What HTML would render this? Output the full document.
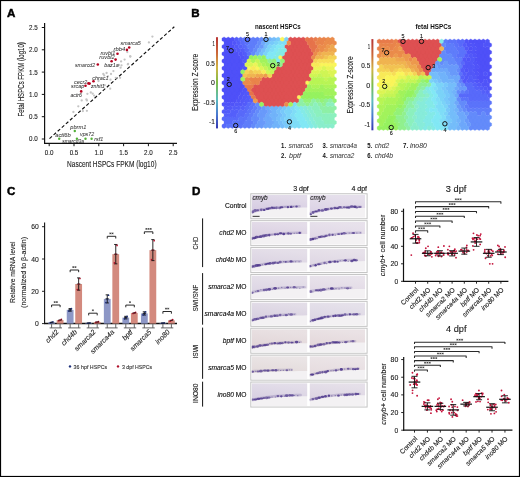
<!DOCTYPE html><html><head><meta charset="utf-8"><style>html,body{margin:0;padding:0;background:#fff}svg{display:block;font-family:"Liberation Sans",sans-serif;will-change:transform}</style></head><body>
<svg width="520" height="477" viewBox="0 0 520 477">
<rect x="0" y="0" width="520" height="477" fill="#fff"/>
<text x="7" y="16.6" font-size="11.6" font-weight="bold" fill="#000" stroke="#000" stroke-width="0.45">A</text>
<line x1="44.6" y1="23" x2="44.6" y2="143.9" stroke="#111" stroke-width="1.2"/>
<line x1="44" y1="143.3" x2="177" y2="143.3" stroke="#111" stroke-width="1.2"/>
<line x1="41.8" y1="139" x2="44.2" y2="139" stroke="#111" stroke-width="1"/>
<text x="37.8" y="141.4" font-size="6.9" stroke="#1e1e1e" stroke-width="0.12" text-anchor="end" fill="#1e1e1e" textLength="8.7" lengthAdjust="spacingAndGlyphs">0.0</text>
<line x1="49.2" y1="143.5" x2="49.2" y2="146.2" stroke="#111" stroke-width="1"/>
<text x="49.2" y="155.4" font-size="6.9" stroke="#1e1e1e" stroke-width="0.12" text-anchor="middle" fill="#1e1e1e" textLength="8.7" lengthAdjust="spacingAndGlyphs">0.0</text>
<line x1="41.8" y1="116.7" x2="44.2" y2="116.7" stroke="#111" stroke-width="1"/>
<text x="37.8" y="119.1" font-size="6.9" stroke="#1e1e1e" stroke-width="0.12" text-anchor="end" fill="#1e1e1e" textLength="8.7" lengthAdjust="spacingAndGlyphs">0.5</text>
<line x1="74" y1="143.5" x2="74" y2="146.2" stroke="#111" stroke-width="1"/>
<text x="74" y="155.4" font-size="6.9" stroke="#1e1e1e" stroke-width="0.12" text-anchor="middle" fill="#1e1e1e" textLength="8.7" lengthAdjust="spacingAndGlyphs">0.5</text>
<line x1="41.8" y1="94.4" x2="44.2" y2="94.4" stroke="#111" stroke-width="1"/>
<text x="37.8" y="96.8" font-size="6.9" stroke="#1e1e1e" stroke-width="0.12" text-anchor="end" fill="#1e1e1e" textLength="8.7" lengthAdjust="spacingAndGlyphs">1.0</text>
<line x1="98.8" y1="143.5" x2="98.8" y2="146.2" stroke="#111" stroke-width="1"/>
<text x="98.8" y="155.4" font-size="6.9" stroke="#1e1e1e" stroke-width="0.12" text-anchor="middle" fill="#1e1e1e" textLength="8.7" lengthAdjust="spacingAndGlyphs">1.0</text>
<line x1="41.8" y1="72.1" x2="44.2" y2="72.1" stroke="#111" stroke-width="1"/>
<text x="37.8" y="74.5" font-size="6.9" stroke="#1e1e1e" stroke-width="0.12" text-anchor="end" fill="#1e1e1e" textLength="8.7" lengthAdjust="spacingAndGlyphs">1.5</text>
<line x1="123.6" y1="143.5" x2="123.6" y2="146.2" stroke="#111" stroke-width="1"/>
<text x="123.6" y="155.4" font-size="6.9" stroke="#1e1e1e" stroke-width="0.12" text-anchor="middle" fill="#1e1e1e" textLength="8.7" lengthAdjust="spacingAndGlyphs">1.5</text>
<line x1="41.8" y1="49.8" x2="44.2" y2="49.8" stroke="#111" stroke-width="1"/>
<text x="37.8" y="52.2" font-size="6.9" stroke="#1e1e1e" stroke-width="0.12" text-anchor="end" fill="#1e1e1e" textLength="8.7" lengthAdjust="spacingAndGlyphs">2.0</text>
<line x1="148.4" y1="143.5" x2="148.4" y2="146.2" stroke="#111" stroke-width="1"/>
<text x="148.4" y="155.4" font-size="6.9" stroke="#1e1e1e" stroke-width="0.12" text-anchor="middle" fill="#1e1e1e" textLength="8.7" lengthAdjust="spacingAndGlyphs">2.0</text>
<line x1="41.8" y1="27.5" x2="44.2" y2="27.5" stroke="#111" stroke-width="1"/>
<text x="37.8" y="29.9" font-size="6.9" stroke="#1e1e1e" stroke-width="0.12" text-anchor="end" fill="#1e1e1e" textLength="8.7" lengthAdjust="spacingAndGlyphs">2.5</text>
<line x1="173.2" y1="143.5" x2="173.2" y2="146.2" stroke="#111" stroke-width="1"/>
<text x="173.2" y="155.4" font-size="6.9" stroke="#1e1e1e" stroke-width="0.12" text-anchor="middle" fill="#1e1e1e" textLength="8.7" lengthAdjust="spacingAndGlyphs">2.5</text>
<text x="111.8" y="167.4" font-size="9.8" stroke="#1e1e1e" stroke-width="0.12" text-anchor="middle" fill="#1e1e1e" textLength="89.6" lengthAdjust="spacingAndGlyphs">Nascent HSPCs FPKM (log10)</text>
<text x="24.4" y="79.3" font-size="9.8" stroke="#1e1e1e" stroke-width="0.12" text-anchor="middle" fill="#1e1e1e" textLength="74.4" lengthAdjust="spacingAndGlyphs" transform="rotate(-90 24.4 79.3)">Fetal HSPCs FPKM (log10)</text>
<line x1="49.5" y1="138.6" x2="174.3" y2="26.8" stroke="#111" stroke-width="1.15" stroke-dasharray="3.3 2.2"/>
<circle cx="152.4" cy="36.6" r="1.15" fill="#c4c4c4"/>
<circle cx="148.9" cy="42.4" r="1.15" fill="#c4c4c4"/>
<circle cx="130.1" cy="56.4" r="1.15" fill="#c4c4c4"/>
<circle cx="124.6" cy="59.6" r="1.15" fill="#c4c4c4"/>
<circle cx="121.1" cy="61.4" r="1.15" fill="#c4c4c4"/>
<circle cx="127.8" cy="64.3" r="1.15" fill="#c4c4c4"/>
<circle cx="121.5" cy="65.3" r="1.15" fill="#c4c4c4"/>
<circle cx="127.3" cy="52.1" r="1.15" fill="#c4c4c4"/>
<circle cx="120.6" cy="67.7" r="1.15" fill="#c4c4c4"/>
<circle cx="113.4" cy="71.1" r="1.15" fill="#c4c4c4"/>
<circle cx="111" cy="74" r="1.15" fill="#c4c4c4"/>
<circle cx="106.6" cy="73" r="1.15" fill="#c4c4c4"/>
<circle cx="103.3" cy="74" r="1.15" fill="#c4c4c4"/>
<circle cx="104.2" cy="75.4" r="1.15" fill="#c4c4c4"/>
<circle cx="108" cy="76.3" r="1.15" fill="#c4c4c4"/>
<circle cx="110.5" cy="79.7" r="1.15" fill="#c4c4c4"/>
<circle cx="115.8" cy="77.8" r="1.15" fill="#c4c4c4"/>
<circle cx="120.1" cy="77.8" r="1.15" fill="#c4c4c4"/>
<circle cx="98.5" cy="81" r="1.15" fill="#c4c4c4"/>
<circle cx="104.7" cy="85.2" r="1.15" fill="#c4c4c4"/>
<circle cx="110.2" cy="88.7" r="1.15" fill="#c4c4c4"/>
<circle cx="87.4" cy="93.8" r="1.15" fill="#c4c4c4"/>
<circle cx="90.8" cy="92.5" r="1.15" fill="#c4c4c4"/>
<circle cx="92.7" cy="93.7" r="1.15" fill="#c4c4c4"/>
<circle cx="94.1" cy="95.6" r="1.15" fill="#c4c4c4"/>
<circle cx="86.4" cy="99.4" r="1.15" fill="#c4c4c4"/>
<circle cx="81.7" cy="100.4" r="1.15" fill="#c4c4c4"/>
<circle cx="86.9" cy="100.4" r="1.15" fill="#c4c4c4"/>
<circle cx="78.3" cy="106.3" r="1.15" fill="#c4c4c4"/>
<circle cx="73.4" cy="112" r="1.15" fill="#c4c4c4"/>
<circle cx="82.9" cy="111.1" r="1.15" fill="#c4c4c4"/>
<circle cx="86.9" cy="110.8" r="1.15" fill="#c4c4c4"/>
<circle cx="118.9" cy="65" r="1.15" fill="#c4c4c4"/>
<circle cx="128.1" cy="63.9" r="1.15" fill="#c4c4c4"/>
<circle cx="130.4" cy="56.5" r="1.15" fill="#c4c4c4"/>
<circle cx="129.2" cy="47.5" r="1.3" fill="#b4001e"/>
<circle cx="126.9" cy="49.9" r="1.3" fill="#b4001e"/>
<circle cx="117.5" cy="53.7" r="1.3" fill="#b4001e"/>
<circle cx="115.6" cy="59.6" r="1.3" fill="#b4001e"/>
<circle cx="111.6" cy="61.2" r="1.3" fill="#b4001e"/>
<circle cx="97.8" cy="64.5" r="1.3" fill="#b4001e"/>
<circle cx="93.5" cy="81.3" r="1.3" fill="#b4001e"/>
<circle cx="88.4" cy="83.4" r="1.3" fill="#b4001e"/>
<circle cx="89.6" cy="83.6" r="1.3" fill="#b4001e"/>
<circle cx="85.5" cy="85.8" r="1.3" fill="#b4001e"/>
<circle cx="81.2" cy="91.4" r="1.3" fill="#b4001e"/>
<circle cx="74.8" cy="131" r="1.2" fill="#52b038"/>
<circle cx="59.2" cy="138.8" r="1.2" fill="#52b038"/>
<circle cx="76.9" cy="138.8" r="1.2" fill="#52b038"/>
<circle cx="85.5" cy="138.8" r="1.2" fill="#52b038"/>
<circle cx="91.6" cy="138.8" r="1.2" fill="#52b038"/>
<text x="120.5" y="45.3" font-size="6" stroke="#333" stroke-width="0.04" font-style="italic" fill="#333" textLength="20.3" lengthAdjust="spacingAndGlyphs">smarca5</text>
<text x="113.6" y="51.1" font-size="6" stroke="#333" stroke-width="0.04" font-style="italic" fill="#333" textLength="11.7" lengthAdjust="spacingAndGlyphs">rbb4</text>
<text x="100.4" y="55.3" font-size="6" stroke="#333" stroke-width="0.04" font-style="italic" fill="#333" textLength="15" lengthAdjust="spacingAndGlyphs">ruvbl1</text>
<text x="99.3" y="59.4" font-size="6" stroke="#333" stroke-width="0.04" font-style="italic" fill="#333" textLength="15.4" lengthAdjust="spacingAndGlyphs">ruvbl2</text>
<text x="104.2" y="66.6" font-size="6" stroke="#333" stroke-width="0.04" font-style="italic" fill="#333" textLength="14.5" lengthAdjust="spacingAndGlyphs">baz1a</text>
<text x="75" y="66.6" font-size="6" stroke="#333" stroke-width="0.04" font-style="italic" fill="#333" textLength="20.1" lengthAdjust="spacingAndGlyphs">smarcd2</text>
<text x="92.2" y="79.9" font-size="6" stroke="#333" stroke-width="0.04" font-style="italic" fill="#333" textLength="16.4" lengthAdjust="spacingAndGlyphs">chrac1</text>
<text x="73.9" y="83.7" font-size="6" stroke="#333" stroke-width="0.04" font-style="italic" fill="#333" textLength="13.4" lengthAdjust="spacingAndGlyphs">cecr2</text>
<text x="71" y="88.1" font-size="6" stroke="#333" stroke-width="0.04" font-style="italic" fill="#333" textLength="13.2" lengthAdjust="spacingAndGlyphs">srcap</text>
<text x="91" y="88.2" font-size="6" stroke="#333" stroke-width="0.04" font-style="italic" fill="#333" textLength="13.7" lengthAdjust="spacingAndGlyphs">znhit1</text>
<text x="70.4" y="97.1" font-size="6" stroke="#333" stroke-width="0.04" font-style="italic" fill="#333" textLength="11.6" lengthAdjust="spacingAndGlyphs">actr6</text>
<text x="70.3" y="128.8" font-size="6" stroke="#333" stroke-width="0.04" font-style="italic" fill="#333" textLength="16.1" lengthAdjust="spacingAndGlyphs">pbrm1</text>
<text x="55.2" y="136.8" font-size="6" stroke="#333" stroke-width="0.04" font-style="italic" fill="#333" textLength="15.6" lengthAdjust="spacingAndGlyphs">actl6b</text>
<text x="80" y="136" font-size="6" stroke="#333" stroke-width="0.04" font-style="italic" fill="#333" textLength="14.2" lengthAdjust="spacingAndGlyphs">vps72</text>
<text x="62.2" y="142.7" font-size="6" stroke="#333" stroke-width="0.04" font-style="italic" fill="#333" textLength="21.9" lengthAdjust="spacingAndGlyphs">smarcd3a</text>
<text x="94.2" y="140.6" font-size="6" stroke="#333" stroke-width="0.04" font-style="italic" fill="#333" textLength="9" lengthAdjust="spacingAndGlyphs">rsf1</text>
<text x="191.3" y="16.8" font-size="11.6" font-weight="bold" fill="#000" stroke="#000" stroke-width="0.45">B</text>
<text x="277.8" y="28.6" font-size="6.8" text-anchor="middle" font-weight="bold" fill="#111" textLength="45.6" lengthAdjust="spacingAndGlyphs">nascent HSPCs</text>
<path fill="rgb(79,80,248)" stroke="rgb(79,80,248)" stroke-width="0.3" d="M224.08 36.95l2.13 1.23v2.46l-2.13 1.23l-2.13 -1.23v-2.46zM228.24 36.95l2.13 1.23v2.46l-2.13 1.23l-2.13 -1.23v-2.46zM232.4 36.95l2.13 1.23v2.46l-2.13 1.23l-2.13 -1.23v-2.46zM226.16 40.56l2.13 1.23v2.46l-2.13 1.23l-2.13 -1.23v-2.46zM230.32 40.56l2.13 1.23v2.46l-2.13 1.23l-2.13 -1.23v-2.46zM224.08 44.17l2.13 1.23v2.46l-2.13 1.23l-2.13 -1.23v-2.46zM228.24 44.17l2.13 1.23v2.46l-2.13 1.23l-2.13 -1.23v-2.46zM232.4 44.17l2.13 1.23v2.46l-2.13 1.23l-2.13 -1.23v-2.46zM226.16 47.78l2.13 1.23v2.46l-2.13 1.23l-2.13 -1.23v-2.46zM230.32 47.78l2.13 1.23v2.46l-2.13 1.23l-2.13 -1.23v-2.46zM224.08 51.39l2.13 1.23v2.46l-2.13 1.23l-2.13 -1.23v-2.46zM228.24 51.39l2.13 1.23v2.46l-2.13 1.23l-2.13 -1.23v-2.46zM232.4 51.39l2.13 1.23v2.46l-2.13 1.23l-2.13 -1.23v-2.46zM236.56 51.39l2.13 1.23v2.46l-2.13 1.23l-2.13 -1.23v-2.46zM226.16 55l2.13 1.23v2.46l-2.13 1.23l-2.13 -1.23v-2.46zM230.32 55l2.13 1.23v2.46l-2.13 1.23l-2.13 -1.23v-2.46zM234.48 55l2.13 1.23v2.46l-2.13 1.23l-2.13 -1.23v-2.46zM238.64 55l2.13 1.23v2.46l-2.13 1.23l-2.13 -1.23v-2.46zM224.08 58.61l2.13 1.23v2.46l-2.13 1.23l-2.13 -1.23v-2.46zM228.24 58.61l2.13 1.23v2.46l-2.13 1.23l-2.13 -1.23v-2.46zM232.4 58.61l2.13 1.23v2.46l-2.13 1.23l-2.13 -1.23v-2.46zM236.56 58.61l2.13 1.23v2.46l-2.13 1.23l-2.13 -1.23v-2.46zM240.72 58.61l2.13 1.23v2.46l-2.13 1.23l-2.13 -1.23v-2.46zM226.16 62.22l2.13 1.23v2.46l-2.13 1.23l-2.13 -1.23v-2.46zM230.32 62.22l2.13 1.23v2.46l-2.13 1.23l-2.13 -1.23v-2.46zM234.48 62.22l2.13 1.23v2.46l-2.13 1.23l-2.13 -1.23v-2.46zM238.64 62.22l2.13 1.23v2.46l-2.13 1.23l-2.13 -1.23v-2.46zM242.8 62.22l2.13 1.23v2.46l-2.13 1.23l-2.13 -1.23v-2.46zM224.08 65.83l2.13 1.23v2.46l-2.13 1.23l-2.13 -1.23v-2.46zM228.24 65.83l2.13 1.23v2.46l-2.13 1.23l-2.13 -1.23v-2.46zM232.4 65.83l2.13 1.23v2.46l-2.13 1.23l-2.13 -1.23v-2.46zM236.56 65.83l2.13 1.23v2.46l-2.13 1.23l-2.13 -1.23v-2.46zM240.72 65.83l2.13 1.23v2.46l-2.13 1.23l-2.13 -1.23v-2.46zM226.16 69.44l2.13 1.23v2.46l-2.13 1.23l-2.13 -1.23v-2.46zM230.32 69.44l2.13 1.23v2.46l-2.13 1.23l-2.13 -1.23v-2.46zM234.48 69.44l2.13 1.23v2.46l-2.13 1.23l-2.13 -1.23v-2.46zM238.64 69.44l2.13 1.23v2.46l-2.13 1.23l-2.13 -1.23v-2.46zM224.08 73.05l2.13 1.23v2.46l-2.13 1.23l-2.13 -1.23v-2.46zM228.24 73.05l2.13 1.23v2.46l-2.13 1.23l-2.13 -1.23v-2.46zM232.4 73.05l2.13 1.23v2.46l-2.13 1.23l-2.13 -1.23v-2.46zM236.56 73.05l2.13 1.23v2.46l-2.13 1.23l-2.13 -1.23v-2.46zM240.72 73.05l2.13 1.23v2.46l-2.13 1.23l-2.13 -1.23v-2.46zM226.16 76.66l2.13 1.23v2.46l-2.13 1.23l-2.13 -1.23v-2.46zM230.32 76.66l2.13 1.23v2.46l-2.13 1.23l-2.13 -1.23v-2.46zM234.48 76.66l2.13 1.23v2.46l-2.13 1.23l-2.13 -1.23v-2.46zM238.64 76.66l2.13 1.23v2.46l-2.13 1.23l-2.13 -1.23v-2.46zM224.08 80.27l2.13 1.23v2.46l-2.13 1.23l-2.13 -1.23v-2.46zM228.24 80.27l2.13 1.23v2.46l-2.13 1.23l-2.13 -1.23v-2.46zM232.4 80.27l2.13 1.23v2.46l-2.13 1.23l-2.13 -1.23v-2.46zM236.56 80.27l2.13 1.23v2.46l-2.13 1.23l-2.13 -1.23v-2.46zM240.72 80.27l2.13 1.23v2.46l-2.13 1.23l-2.13 -1.23v-2.46zM226.16 83.88l2.13 1.23v2.46l-2.13 1.23l-2.13 -1.23v-2.46zM230.32 83.88l2.13 1.23v2.46l-2.13 1.23l-2.13 -1.23v-2.46zM234.48 83.88l2.13 1.23v2.46l-2.13 1.23l-2.13 -1.23v-2.46zM238.64 83.88l2.13 1.23v2.46l-2.13 1.23l-2.13 -1.23v-2.46zM242.8 83.88l2.13 1.23v2.46l-2.13 1.23l-2.13 -1.23v-2.46zM224.08 87.49l2.13 1.23v2.46l-2.13 1.23l-2.13 -1.23v-2.46zM228.24 87.49l2.13 1.23v2.46l-2.13 1.23l-2.13 -1.23v-2.46zM232.4 87.49l2.13 1.23v2.46l-2.13 1.23l-2.13 -1.23v-2.46zM236.56 87.49l2.13 1.23v2.46l-2.13 1.23l-2.13 -1.23v-2.46zM240.72 87.49l2.13 1.23v2.46l-2.13 1.23l-2.13 -1.23v-2.46zM226.16 91.1l2.13 1.23v2.46l-2.13 1.23l-2.13 -1.23v-2.46zM230.32 91.1l2.13 1.23v2.46l-2.13 1.23l-2.13 -1.23v-2.46zM234.48 91.1l2.13 1.23v2.46l-2.13 1.23l-2.13 -1.23v-2.46zM238.64 91.1l2.13 1.23v2.46l-2.13 1.23l-2.13 -1.23v-2.46zM224.08 94.71l2.13 1.23v2.46l-2.13 1.23l-2.13 -1.23v-2.46zM228.24 94.71l2.13 1.23v2.46l-2.13 1.23l-2.13 -1.23v-2.46zM232.4 94.71l2.13 1.23v2.46l-2.13 1.23l-2.13 -1.23v-2.46zM236.56 94.71l2.13 1.23v2.46l-2.13 1.23l-2.13 -1.23v-2.46zM226.16 98.32l2.13 1.23v2.46l-2.13 1.23l-2.13 -1.23v-2.46zM230.32 98.32l2.13 1.23v2.46l-2.13 1.23l-2.13 -1.23v-2.46zM234.48 98.32l2.13 1.23v2.46l-2.13 1.23l-2.13 -1.23v-2.46z"/>
<path fill="rgb(83,92,250)" stroke="rgb(83,92,250)" stroke-width="0.3" d="M236.56 36.95l2.13 1.23v2.46l-2.13 1.23l-2.13 -1.23v-2.46zM238.64 40.56l2.13 1.23v2.46l-2.13 1.23l-2.13 -1.23v-2.46zM242.8 47.78l2.13 1.23v2.46l-2.13 1.23l-2.13 -1.23v-2.46zM244.88 51.39l2.13 1.23v2.46l-2.13 1.23l-2.13 -1.23v-2.46zM246.96 55l2.13 1.23v2.46l-2.13 1.23l-2.13 -1.23v-2.46zM249.04 94.71l2.13 1.23v2.46l-2.13 1.23l-2.13 -1.23v-2.46zM246.96 98.32l2.13 1.23v2.46l-2.13 1.23l-2.13 -1.23v-2.46zM244.88 101.93l2.13 1.23v2.46l-2.13 1.23l-2.13 -1.23v-2.46zM234.48 105.54l2.13 1.23v2.46l-2.13 1.23l-2.13 -1.23v-2.46zM238.64 105.54l2.13 1.23v2.46l-2.13 1.23l-2.13 -1.23v-2.46zM224.08 109.15l2.13 1.23v2.46l-2.13 1.23l-2.13 -1.23v-2.46zM228.24 109.15l2.13 1.23v2.46l-2.13 1.23l-2.13 -1.23v-2.46z"/>
<path fill="rgb(88,106,250)" stroke="rgb(88,106,250)" stroke-width="0.3" d="M240.72 36.95l2.13 1.23v2.46l-2.13 1.23l-2.13 -1.23v-2.46zM242.8 40.56l2.13 1.23v2.46l-2.13 1.23l-2.13 -1.23v-2.46zM244.88 44.17l2.13 1.23v2.46l-2.13 1.23l-2.13 -1.23v-2.46zM246.96 47.78l2.13 1.23v2.46l-2.13 1.23l-2.13 -1.23v-2.46zM249.04 101.93l2.13 1.23v2.46l-2.13 1.23l-2.13 -1.23v-2.46zM246.96 105.54l2.13 1.23v2.46l-2.13 1.23l-2.13 -1.23v-2.46zM240.72 109.15l2.13 1.23v2.46l-2.13 1.23l-2.13 -1.23v-2.46zM244.88 109.15l2.13 1.23v2.46l-2.13 1.23l-2.13 -1.23v-2.46zM238.64 112.76l2.13 1.23v2.46l-2.13 1.23l-2.13 -1.23v-2.46zM242.8 112.76l2.13 1.23v2.46l-2.13 1.23l-2.13 -1.23v-2.46zM224.08 116.37l2.13 1.23v2.46l-2.13 1.23l-2.13 -1.23v-2.46zM228.24 116.37l2.13 1.23v2.46l-2.13 1.23l-2.13 -1.23v-2.46zM232.4 116.37l2.13 1.23v2.46l-2.13 1.23l-2.13 -1.23v-2.46zM236.56 116.37l2.13 1.23v2.46l-2.13 1.23l-2.13 -1.23v-2.46zM226.16 119.98l2.13 1.23v2.46l-2.13 1.23l-2.13 -1.23v-2.46zM230.32 119.98l2.13 1.23v2.46l-2.13 1.23l-2.13 -1.23v-2.46zM224.08 123.59l2.13 1.23v2.46l-2.13 1.23l-2.13 -1.23v-2.46z"/>
<path fill="rgb(91,115,250)" stroke="rgb(91,115,250)" stroke-width="0.3" d="M244.88 36.95l2.13 1.23v2.46l-2.13 1.23l-2.13 -1.23v-2.46zM249.04 36.95l2.13 1.23v2.46l-2.13 1.23l-2.13 -1.23v-2.46zM246.96 40.56l2.13 1.23v2.46l-2.13 1.23l-2.13 -1.23v-2.46zM249.04 51.39l2.13 1.23v2.46l-2.13 1.23l-2.13 -1.23v-2.46zM253.2 101.93l2.13 1.23v2.46l-2.13 1.23l-2.13 -1.23v-2.46zM251.12 105.54l2.13 1.23v2.46l-2.13 1.23l-2.13 -1.23v-2.46zM249.04 109.15l2.13 1.23v2.46l-2.13 1.23l-2.13 -1.23v-2.46zM246.96 112.76l2.13 1.23v2.46l-2.13 1.23l-2.13 -1.23v-2.46zM240.72 116.37l2.13 1.23v2.46l-2.13 1.23l-2.13 -1.23v-2.46zM244.88 116.37l2.13 1.23v2.46l-2.13 1.23l-2.13 -1.23v-2.46zM234.48 119.98l2.13 1.23v2.46l-2.13 1.23l-2.13 -1.23v-2.46zM238.64 119.98l2.13 1.23v2.46l-2.13 1.23l-2.13 -1.23v-2.46zM242.8 119.98l2.13 1.23v2.46l-2.13 1.23l-2.13 -1.23v-2.46zM228.24 123.59l2.13 1.23v2.46l-2.13 1.23l-2.13 -1.23v-2.46zM232.4 123.59l2.13 1.23v2.46l-2.13 1.23l-2.13 -1.23v-2.46zM236.56 123.59l2.13 1.23v2.46l-2.13 1.23l-2.13 -1.23v-2.46zM240.72 123.59l2.13 1.23v2.46l-2.13 1.23l-2.13 -1.23v-2.46z"/>
<path fill="rgb(95,125,250)" stroke="rgb(95,125,250)" stroke-width="0.3" d="M253.2 36.95l2.13 1.23v2.46l-2.13 1.23l-2.13 -1.23v-2.46zM257.36 36.95l2.13 1.23v2.46l-2.13 1.23l-2.13 -1.23v-2.46zM251.12 40.56l2.13 1.23v2.46l-2.13 1.23l-2.13 -1.23v-2.46zM255.28 40.56l2.13 1.23v2.46l-2.13 1.23l-2.13 -1.23v-2.46zM249.04 44.17l2.13 1.23v2.46l-2.13 1.23l-2.13 -1.23v-2.46zM253.2 44.17l2.13 1.23v2.46l-2.13 1.23l-2.13 -1.23v-2.46zM251.12 47.78l2.13 1.23v2.46l-2.13 1.23l-2.13 -1.23v-2.46zM255.28 105.54l2.13 1.23v2.46l-2.13 1.23l-2.13 -1.23v-2.46zM253.2 109.15l2.13 1.23v2.46l-2.13 1.23l-2.13 -1.23v-2.46zM251.12 112.76l2.13 1.23v2.46l-2.13 1.23l-2.13 -1.23v-2.46zM249.04 116.37l2.13 1.23v2.46l-2.13 1.23l-2.13 -1.23v-2.46zM246.96 119.98l2.13 1.23v2.46l-2.13 1.23l-2.13 -1.23v-2.46zM251.12 119.98l2.13 1.23v2.46l-2.13 1.23l-2.13 -1.23v-2.46zM244.88 123.59l2.13 1.23v2.46l-2.13 1.23l-2.13 -1.23v-2.46zM249.04 123.59l2.13 1.23v2.46l-2.13 1.23l-2.13 -1.23v-2.46z"/>
<path fill="rgb(100,139,250)" stroke="rgb(100,139,250)" stroke-width="0.3" d="M261.52 36.95l2.13 1.23v2.46l-2.13 1.23l-2.13 -1.23v-2.46zM259.44 40.56l2.13 1.23v2.46l-2.13 1.23l-2.13 -1.23v-2.46zM257.36 44.17l2.13 1.23v2.46l-2.13 1.23l-2.13 -1.23v-2.46zM255.28 47.78l2.13 1.23v2.46l-2.13 1.23l-2.13 -1.23v-2.46zM253.2 51.39l2.13 1.23v2.46l-2.13 1.23l-2.13 -1.23v-2.46zM257.36 101.93l2.13 1.23v2.46l-2.13 1.23l-2.13 -1.23v-2.46zM259.44 105.54l2.13 1.23v2.46l-2.13 1.23l-2.13 -1.23v-2.46zM257.36 109.15l2.13 1.23v2.46l-2.13 1.23l-2.13 -1.23v-2.46zM255.28 112.76l2.13 1.23v2.46l-2.13 1.23l-2.13 -1.23v-2.46zM253.2 116.37l2.13 1.23v2.46l-2.13 1.23l-2.13 -1.23v-2.46zM257.36 116.37l2.13 1.23v2.46l-2.13 1.23l-2.13 -1.23v-2.46zM255.28 119.98l2.13 1.23v2.46l-2.13 1.23l-2.13 -1.23v-2.46zM253.2 123.59l2.13 1.23v2.46l-2.13 1.23l-2.13 -1.23v-2.46z"/>
<path fill="rgb(110,168,250)" stroke="rgb(110,168,250)" stroke-width="0.3" d="M265.68 36.95l2.13 1.23v2.46l-2.13 1.23l-2.13 -1.23v-2.46zM263.6 40.56l2.13 1.23v2.46l-2.13 1.23l-2.13 -1.23v-2.46zM259.44 47.78l2.13 1.23v2.46l-2.13 1.23l-2.13 -1.23v-2.46zM257.36 51.39l2.13 1.23v2.46l-2.13 1.23l-2.13 -1.23v-2.46zM267.76 105.54l2.13 1.23v2.46l-2.13 1.23l-2.13 -1.23v-2.46zM269.84 109.15l2.13 1.23v2.46l-2.13 1.23l-2.13 -1.23v-2.46zM267.76 112.76l2.13 1.23v2.46l-2.13 1.23l-2.13 -1.23v-2.46zM265.68 116.37l2.13 1.23v2.46l-2.13 1.23l-2.13 -1.23v-2.46zM269.84 116.37l2.13 1.23v2.46l-2.13 1.23l-2.13 -1.23v-2.46zM267.76 119.98l2.13 1.23v2.46l-2.13 1.23l-2.13 -1.23v-2.46zM271.92 119.98l2.13 1.23v2.46l-2.13 1.23l-2.13 -1.23v-2.46zM265.68 123.59l2.13 1.23v2.46l-2.13 1.23l-2.13 -1.23v-2.46zM269.84 123.59l2.13 1.23v2.46l-2.13 1.23l-2.13 -1.23v-2.46z"/>
<path fill="rgb(113,179,250)" stroke="rgb(113,179,250)" stroke-width="0.3" d="M269.84 36.95l2.13 1.23v2.46l-2.13 1.23l-2.13 -1.23v-2.46zM271.92 105.54l2.13 1.23v2.46l-2.13 1.23l-2.13 -1.23v-2.46zM276.08 105.54l2.13 1.23v2.46l-2.13 1.23l-2.13 -1.23v-2.46zM274 109.15l2.13 1.23v2.46l-2.13 1.23l-2.13 -1.23v-2.46zM271.92 112.76l2.13 1.23v2.46l-2.13 1.23l-2.13 -1.23v-2.46zM276.08 112.76l2.13 1.23v2.46l-2.13 1.23l-2.13 -1.23v-2.46zM274 116.37l2.13 1.23v2.46l-2.13 1.23l-2.13 -1.23v-2.46zM276.08 119.98l2.13 1.23v2.46l-2.13 1.23l-2.13 -1.23v-2.46zM274 123.59l2.13 1.23v2.46l-2.13 1.23l-2.13 -1.23v-2.46zM278.16 123.59l2.13 1.23v2.46l-2.13 1.23l-2.13 -1.23v-2.46z"/>
<path fill="rgb(117,189,250)" stroke="rgb(117,189,250)" stroke-width="0.3" d="M274 36.95l2.13 1.23v2.46l-2.13 1.23l-2.13 -1.23v-2.46zM267.76 40.56l2.13 1.23v2.46l-2.13 1.23l-2.13 -1.23v-2.46zM265.68 44.17l2.13 1.23v2.46l-2.13 1.23l-2.13 -1.23v-2.46zM263.6 47.78l2.13 1.23v2.46l-2.13 1.23l-2.13 -1.23v-2.46zM261.52 51.39l2.13 1.23v2.46l-2.13 1.23l-2.13 -1.23v-2.46zM280.24 105.54l2.13 1.23v2.46l-2.13 1.23l-2.13 -1.23v-2.46zM278.16 109.15l2.13 1.23v2.46l-2.13 1.23l-2.13 -1.23v-2.46zM280.24 112.76l2.13 1.23v2.46l-2.13 1.23l-2.13 -1.23v-2.46zM278.16 116.37l2.13 1.23v2.46l-2.13 1.23l-2.13 -1.23v-2.46zM280.24 119.98l2.13 1.23v2.46l-2.13 1.23l-2.13 -1.23v-2.46zM282.32 123.59l2.13 1.23v2.46l-2.13 1.23l-2.13 -1.23v-2.46z"/>
<path fill="rgb(120,200,250)" stroke="rgb(120,200,250)" stroke-width="0.3" d="M278.16 36.95l2.13 1.23v2.46l-2.13 1.23l-2.13 -1.23v-2.46zM271.92 40.56l2.13 1.23v2.46l-2.13 1.23l-2.13 -1.23v-2.46zM284.4 105.54l2.13 1.23v2.46l-2.13 1.23l-2.13 -1.23v-2.46zM282.32 109.15l2.13 1.23v2.46l-2.13 1.23l-2.13 -1.23v-2.46zM284.4 112.76l2.13 1.23v2.46l-2.13 1.23l-2.13 -1.23v-2.46zM282.32 116.37l2.13 1.23v2.46l-2.13 1.23l-2.13 -1.23v-2.46zM284.4 119.98l2.13 1.23v2.46l-2.13 1.23l-2.13 -1.23v-2.46zM286.48 123.59l2.13 1.23v2.46l-2.13 1.23l-2.13 -1.23v-2.46z"/>
<path fill="rgb(250,245,90)" stroke="rgb(250,245,90)" stroke-width="0.3" d="M282.32 36.95l2.13 1.23v2.46l-2.13 1.23l-2.13 -1.23v-2.46zM280.24 55l2.13 1.23v2.46l-2.13 1.23l-2.13 -1.23v-2.46zM321.84 62.22l2.13 1.23v2.46l-2.13 1.23l-2.13 -1.23v-2.46zM326 62.22l2.13 1.23v2.46l-2.13 1.23l-2.13 -1.23v-2.46zM330.16 62.22l2.13 1.23v2.46l-2.13 1.23l-2.13 -1.23v-2.46zM334.32 62.22l2.13 1.23v2.46l-2.13 1.23l-2.13 -1.23v-2.46zM249.04 65.83l2.13 1.23v2.46l-2.13 1.23l-2.13 -1.23v-2.46zM257.36 65.83l2.13 1.23v2.46l-2.13 1.23l-2.13 -1.23v-2.46zM307.28 80.27l2.13 1.23v2.46l-2.13 1.23l-2.13 -1.23v-2.46zM298.96 94.71l2.13 1.23v2.46l-2.13 1.23l-2.13 -1.23v-2.46z"/>
<path fill="rgb(123,211,248)" stroke="rgb(123,211,248)" stroke-width="0.3" d="M286.48 36.95l2.13 1.23v2.46l-2.13 1.23l-2.13 -1.23v-2.46zM276.08 40.56l2.13 1.23v2.46l-2.13 1.23l-2.13 -1.23v-2.46zM269.84 44.17l2.13 1.23v2.46l-2.13 1.23l-2.13 -1.23v-2.46zM267.76 47.78l2.13 1.23v2.46l-2.13 1.23l-2.13 -1.23v-2.46zM265.68 51.39l2.13 1.23v2.46l-2.13 1.23l-2.13 -1.23v-2.46zM288.56 105.54l2.13 1.23v2.46l-2.13 1.23l-2.13 -1.23v-2.46zM286.48 109.15l2.13 1.23v2.46l-2.13 1.23l-2.13 -1.23v-2.46zM290.64 109.15l2.13 1.23v2.46l-2.13 1.23l-2.13 -1.23v-2.46zM288.56 112.76l2.13 1.23v2.46l-2.13 1.23l-2.13 -1.23v-2.46zM286.48 116.37l2.13 1.23v2.46l-2.13 1.23l-2.13 -1.23v-2.46zM290.64 116.37l2.13 1.23v2.46l-2.13 1.23l-2.13 -1.23v-2.46zM288.56 119.98l2.13 1.23v2.46l-2.13 1.23l-2.13 -1.23v-2.46zM290.64 123.59l2.13 1.23v2.46l-2.13 1.23l-2.13 -1.23v-2.46z"/>
<path fill="rgb(222,80,82)" stroke="rgb(222,80,82)" stroke-width="0.3" d="M290.64 36.95l2.13 1.23v2.46l-2.13 1.23l-2.13 -1.23v-2.46zM294.8 36.95l2.13 1.23v2.46l-2.13 1.23l-2.13 -1.23v-2.46zM298.96 36.95l2.13 1.23v2.46l-2.13 1.23l-2.13 -1.23v-2.46zM303.12 36.95l2.13 1.23v2.46l-2.13 1.23l-2.13 -1.23v-2.46zM292.72 40.56l2.13 1.23v2.46l-2.13 1.23l-2.13 -1.23v-2.46zM296.88 40.56l2.13 1.23v2.46l-2.13 1.23l-2.13 -1.23v-2.46zM301.04 40.56l2.13 1.23v2.46l-2.13 1.23l-2.13 -1.23v-2.46zM305.2 40.56l2.13 1.23v2.46l-2.13 1.23l-2.13 -1.23v-2.46zM286.48 44.17l2.13 1.23v2.46l-2.13 1.23l-2.13 -1.23v-2.46zM290.64 44.17l2.13 1.23v2.46l-2.13 1.23l-2.13 -1.23v-2.46zM294.8 44.17l2.13 1.23v2.46l-2.13 1.23l-2.13 -1.23v-2.46zM298.96 44.17l2.13 1.23v2.46l-2.13 1.23l-2.13 -1.23v-2.46zM303.12 44.17l2.13 1.23v2.46l-2.13 1.23l-2.13 -1.23v-2.46zM307.28 44.17l2.13 1.23v2.46l-2.13 1.23l-2.13 -1.23v-2.46zM288.56 47.78l2.13 1.23v2.46l-2.13 1.23l-2.13 -1.23v-2.46zM292.72 47.78l2.13 1.23v2.46l-2.13 1.23l-2.13 -1.23v-2.46zM296.88 47.78l2.13 1.23v2.46l-2.13 1.23l-2.13 -1.23v-2.46zM301.04 47.78l2.13 1.23v2.46l-2.13 1.23l-2.13 -1.23v-2.46zM305.2 47.78l2.13 1.23v2.46l-2.13 1.23l-2.13 -1.23v-2.46zM309.36 47.78l2.13 1.23v2.46l-2.13 1.23l-2.13 -1.23v-2.46zM286.48 51.39l2.13 1.23v2.46l-2.13 1.23l-2.13 -1.23v-2.46zM290.64 51.39l2.13 1.23v2.46l-2.13 1.23l-2.13 -1.23v-2.46zM294.8 51.39l2.13 1.23v2.46l-2.13 1.23l-2.13 -1.23v-2.46zM298.96 51.39l2.13 1.23v2.46l-2.13 1.23l-2.13 -1.23v-2.46zM303.12 51.39l2.13 1.23v2.46l-2.13 1.23l-2.13 -1.23v-2.46zM307.28 51.39l2.13 1.23v2.46l-2.13 1.23l-2.13 -1.23v-2.46zM311.44 51.39l2.13 1.23v2.46l-2.13 1.23l-2.13 -1.23v-2.46zM284.4 55l2.13 1.23v2.46l-2.13 1.23l-2.13 -1.23v-2.46zM288.56 55l2.13 1.23v2.46l-2.13 1.23l-2.13 -1.23v-2.46zM292.72 55l2.13 1.23v2.46l-2.13 1.23l-2.13 -1.23v-2.46zM296.88 55l2.13 1.23v2.46l-2.13 1.23l-2.13 -1.23v-2.46zM301.04 55l2.13 1.23v2.46l-2.13 1.23l-2.13 -1.23v-2.46zM305.2 55l2.13 1.23v2.46l-2.13 1.23l-2.13 -1.23v-2.46zM309.36 55l2.13 1.23v2.46l-2.13 1.23l-2.13 -1.23v-2.46zM286.48 58.61l2.13 1.23v2.46l-2.13 1.23l-2.13 -1.23v-2.46zM290.64 58.61l2.13 1.23v2.46l-2.13 1.23l-2.13 -1.23v-2.46zM294.8 58.61l2.13 1.23v2.46l-2.13 1.23l-2.13 -1.23v-2.46zM298.96 58.61l2.13 1.23v2.46l-2.13 1.23l-2.13 -1.23v-2.46zM303.12 58.61l2.13 1.23v2.46l-2.13 1.23l-2.13 -1.23v-2.46zM307.28 58.61l2.13 1.23v2.46l-2.13 1.23l-2.13 -1.23v-2.46zM311.44 58.61l2.13 1.23v2.46l-2.13 1.23l-2.13 -1.23v-2.46zM284.4 62.22l2.13 1.23v2.46l-2.13 1.23l-2.13 -1.23v-2.46zM288.56 62.22l2.13 1.23v2.46l-2.13 1.23l-2.13 -1.23v-2.46zM292.72 62.22l2.13 1.23v2.46l-2.13 1.23l-2.13 -1.23v-2.46zM296.88 62.22l2.13 1.23v2.46l-2.13 1.23l-2.13 -1.23v-2.46zM301.04 62.22l2.13 1.23v2.46l-2.13 1.23l-2.13 -1.23v-2.46zM305.2 62.22l2.13 1.23v2.46l-2.13 1.23l-2.13 -1.23v-2.46zM309.36 62.22l2.13 1.23v2.46l-2.13 1.23l-2.13 -1.23v-2.46zM278.16 65.83l2.13 1.23v2.46l-2.13 1.23l-2.13 -1.23v-2.46zM282.32 65.83l2.13 1.23v2.46l-2.13 1.23l-2.13 -1.23v-2.46zM286.48 65.83l2.13 1.23v2.46l-2.13 1.23l-2.13 -1.23v-2.46zM290.64 65.83l2.13 1.23v2.46l-2.13 1.23l-2.13 -1.23v-2.46zM294.8 65.83l2.13 1.23v2.46l-2.13 1.23l-2.13 -1.23v-2.46zM298.96 65.83l2.13 1.23v2.46l-2.13 1.23l-2.13 -1.23v-2.46zM303.12 65.83l2.13 1.23v2.46l-2.13 1.23l-2.13 -1.23v-2.46zM307.28 65.83l2.13 1.23v2.46l-2.13 1.23l-2.13 -1.23v-2.46zM311.44 65.83l2.13 1.23v2.46l-2.13 1.23l-2.13 -1.23v-2.46zM276.08 69.44l2.13 1.23v2.46l-2.13 1.23l-2.13 -1.23v-2.46zM280.24 69.44l2.13 1.23v2.46l-2.13 1.23l-2.13 -1.23v-2.46zM284.4 69.44l2.13 1.23v2.46l-2.13 1.23l-2.13 -1.23v-2.46zM288.56 69.44l2.13 1.23v2.46l-2.13 1.23l-2.13 -1.23v-2.46zM292.72 69.44l2.13 1.23v2.46l-2.13 1.23l-2.13 -1.23v-2.46zM296.88 69.44l2.13 1.23v2.46l-2.13 1.23l-2.13 -1.23v-2.46zM301.04 69.44l2.13 1.23v2.46l-2.13 1.23l-2.13 -1.23v-2.46zM305.2 69.44l2.13 1.23v2.46l-2.13 1.23l-2.13 -1.23v-2.46zM309.36 69.44l2.13 1.23v2.46l-2.13 1.23l-2.13 -1.23v-2.46zM274 73.05l2.13 1.23v2.46l-2.13 1.23l-2.13 -1.23v-2.46zM278.16 73.05l2.13 1.23v2.46l-2.13 1.23l-2.13 -1.23v-2.46zM282.32 73.05l2.13 1.23v2.46l-2.13 1.23l-2.13 -1.23v-2.46zM286.48 73.05l2.13 1.23v2.46l-2.13 1.23l-2.13 -1.23v-2.46zM290.64 73.05l2.13 1.23v2.46l-2.13 1.23l-2.13 -1.23v-2.46zM294.8 73.05l2.13 1.23v2.46l-2.13 1.23l-2.13 -1.23v-2.46zM298.96 73.05l2.13 1.23v2.46l-2.13 1.23l-2.13 -1.23v-2.46zM303.12 73.05l2.13 1.23v2.46l-2.13 1.23l-2.13 -1.23v-2.46zM307.28 73.05l2.13 1.23v2.46l-2.13 1.23l-2.13 -1.23v-2.46zM263.6 76.66l2.13 1.23v2.46l-2.13 1.23l-2.13 -1.23v-2.46zM267.76 76.66l2.13 1.23v2.46l-2.13 1.23l-2.13 -1.23v-2.46zM271.92 76.66l2.13 1.23v2.46l-2.13 1.23l-2.13 -1.23v-2.46zM276.08 76.66l2.13 1.23v2.46l-2.13 1.23l-2.13 -1.23v-2.46zM280.24 76.66l2.13 1.23v2.46l-2.13 1.23l-2.13 -1.23v-2.46zM284.4 76.66l2.13 1.23v2.46l-2.13 1.23l-2.13 -1.23v-2.46zM288.56 76.66l2.13 1.23v2.46l-2.13 1.23l-2.13 -1.23v-2.46zM292.72 76.66l2.13 1.23v2.46l-2.13 1.23l-2.13 -1.23v-2.46zM296.88 76.66l2.13 1.23v2.46l-2.13 1.23l-2.13 -1.23v-2.46zM301.04 76.66l2.13 1.23v2.46l-2.13 1.23l-2.13 -1.23v-2.46zM305.2 76.66l2.13 1.23v2.46l-2.13 1.23l-2.13 -1.23v-2.46zM309.36 76.66l2.13 1.23v2.46l-2.13 1.23l-2.13 -1.23v-2.46zM261.52 80.27l2.13 1.23v2.46l-2.13 1.23l-2.13 -1.23v-2.46zM265.68 80.27l2.13 1.23v2.46l-2.13 1.23l-2.13 -1.23v-2.46zM269.84 80.27l2.13 1.23v2.46l-2.13 1.23l-2.13 -1.23v-2.46zM274 80.27l2.13 1.23v2.46l-2.13 1.23l-2.13 -1.23v-2.46zM278.16 80.27l2.13 1.23v2.46l-2.13 1.23l-2.13 -1.23v-2.46zM282.32 80.27l2.13 1.23v2.46l-2.13 1.23l-2.13 -1.23v-2.46zM286.48 80.27l2.13 1.23v2.46l-2.13 1.23l-2.13 -1.23v-2.46zM290.64 80.27l2.13 1.23v2.46l-2.13 1.23l-2.13 -1.23v-2.46zM294.8 80.27l2.13 1.23v2.46l-2.13 1.23l-2.13 -1.23v-2.46zM298.96 80.27l2.13 1.23v2.46l-2.13 1.23l-2.13 -1.23v-2.46zM303.12 80.27l2.13 1.23v2.46l-2.13 1.23l-2.13 -1.23v-2.46zM255.28 83.88l2.13 1.23v2.46l-2.13 1.23l-2.13 -1.23v-2.46zM259.44 83.88l2.13 1.23v2.46l-2.13 1.23l-2.13 -1.23v-2.46zM263.6 83.88l2.13 1.23v2.46l-2.13 1.23l-2.13 -1.23v-2.46zM267.76 83.88l2.13 1.23v2.46l-2.13 1.23l-2.13 -1.23v-2.46zM271.92 83.88l2.13 1.23v2.46l-2.13 1.23l-2.13 -1.23v-2.46zM276.08 83.88l2.13 1.23v2.46l-2.13 1.23l-2.13 -1.23v-2.46zM280.24 83.88l2.13 1.23v2.46l-2.13 1.23l-2.13 -1.23v-2.46zM284.4 83.88l2.13 1.23v2.46l-2.13 1.23l-2.13 -1.23v-2.46zM288.56 83.88l2.13 1.23v2.46l-2.13 1.23l-2.13 -1.23v-2.46zM292.72 83.88l2.13 1.23v2.46l-2.13 1.23l-2.13 -1.23v-2.46zM296.88 83.88l2.13 1.23v2.46l-2.13 1.23l-2.13 -1.23v-2.46zM301.04 83.88l2.13 1.23v2.46l-2.13 1.23l-2.13 -1.23v-2.46zM305.2 83.88l2.13 1.23v2.46l-2.13 1.23l-2.13 -1.23v-2.46zM253.2 87.49l2.13 1.23v2.46l-2.13 1.23l-2.13 -1.23v-2.46zM257.36 87.49l2.13 1.23v2.46l-2.13 1.23l-2.13 -1.23v-2.46zM261.52 87.49l2.13 1.23v2.46l-2.13 1.23l-2.13 -1.23v-2.46zM265.68 87.49l2.13 1.23v2.46l-2.13 1.23l-2.13 -1.23v-2.46zM269.84 87.49l2.13 1.23v2.46l-2.13 1.23l-2.13 -1.23v-2.46zM274 87.49l2.13 1.23v2.46l-2.13 1.23l-2.13 -1.23v-2.46zM278.16 87.49l2.13 1.23v2.46l-2.13 1.23l-2.13 -1.23v-2.46zM282.32 87.49l2.13 1.23v2.46l-2.13 1.23l-2.13 -1.23v-2.46zM286.48 87.49l2.13 1.23v2.46l-2.13 1.23l-2.13 -1.23v-2.46zM290.64 87.49l2.13 1.23v2.46l-2.13 1.23l-2.13 -1.23v-2.46zM294.8 87.49l2.13 1.23v2.46l-2.13 1.23l-2.13 -1.23v-2.46zM298.96 87.49l2.13 1.23v2.46l-2.13 1.23l-2.13 -1.23v-2.46zM303.12 87.49l2.13 1.23v2.46l-2.13 1.23l-2.13 -1.23v-2.46zM255.28 91.1l2.13 1.23v2.46l-2.13 1.23l-2.13 -1.23v-2.46zM259.44 91.1l2.13 1.23v2.46l-2.13 1.23l-2.13 -1.23v-2.46zM263.6 91.1l2.13 1.23v2.46l-2.13 1.23l-2.13 -1.23v-2.46zM267.76 91.1l2.13 1.23v2.46l-2.13 1.23l-2.13 -1.23v-2.46zM271.92 91.1l2.13 1.23v2.46l-2.13 1.23l-2.13 -1.23v-2.46zM276.08 91.1l2.13 1.23v2.46l-2.13 1.23l-2.13 -1.23v-2.46zM280.24 91.1l2.13 1.23v2.46l-2.13 1.23l-2.13 -1.23v-2.46zM284.4 91.1l2.13 1.23v2.46l-2.13 1.23l-2.13 -1.23v-2.46zM288.56 91.1l2.13 1.23v2.46l-2.13 1.23l-2.13 -1.23v-2.46zM292.72 91.1l2.13 1.23v2.46l-2.13 1.23l-2.13 -1.23v-2.46zM296.88 91.1l2.13 1.23v2.46l-2.13 1.23l-2.13 -1.23v-2.46zM301.04 91.1l2.13 1.23v2.46l-2.13 1.23l-2.13 -1.23v-2.46zM257.36 94.71l2.13 1.23v2.46l-2.13 1.23l-2.13 -1.23v-2.46zM261.52 94.71l2.13 1.23v2.46l-2.13 1.23l-2.13 -1.23v-2.46zM265.68 94.71l2.13 1.23v2.46l-2.13 1.23l-2.13 -1.23v-2.46zM269.84 94.71l2.13 1.23v2.46l-2.13 1.23l-2.13 -1.23v-2.46zM274 94.71l2.13 1.23v2.46l-2.13 1.23l-2.13 -1.23v-2.46zM278.16 94.71l2.13 1.23v2.46l-2.13 1.23l-2.13 -1.23v-2.46zM282.32 94.71l2.13 1.23v2.46l-2.13 1.23l-2.13 -1.23v-2.46zM286.48 94.71l2.13 1.23v2.46l-2.13 1.23l-2.13 -1.23v-2.46zM290.64 94.71l2.13 1.23v2.46l-2.13 1.23l-2.13 -1.23v-2.46zM294.8 94.71l2.13 1.23v2.46l-2.13 1.23l-2.13 -1.23v-2.46zM259.44 98.32l2.13 1.23v2.46l-2.13 1.23l-2.13 -1.23v-2.46zM263.6 98.32l2.13 1.23v2.46l-2.13 1.23l-2.13 -1.23v-2.46zM267.76 98.32l2.13 1.23v2.46l-2.13 1.23l-2.13 -1.23v-2.46zM271.92 98.32l2.13 1.23v2.46l-2.13 1.23l-2.13 -1.23v-2.46zM276.08 98.32l2.13 1.23v2.46l-2.13 1.23l-2.13 -1.23v-2.46zM280.24 98.32l2.13 1.23v2.46l-2.13 1.23l-2.13 -1.23v-2.46zM284.4 98.32l2.13 1.23v2.46l-2.13 1.23l-2.13 -1.23v-2.46zM288.56 98.32l2.13 1.23v2.46l-2.13 1.23l-2.13 -1.23v-2.46zM292.72 98.32l2.13 1.23v2.46l-2.13 1.23l-2.13 -1.23v-2.46zM296.88 98.32l2.13 1.23v2.46l-2.13 1.23l-2.13 -1.23v-2.46zM265.68 101.93l2.13 1.23v2.46l-2.13 1.23l-2.13 -1.23v-2.46zM269.84 101.93l2.13 1.23v2.46l-2.13 1.23l-2.13 -1.23v-2.46zM274 101.93l2.13 1.23v2.46l-2.13 1.23l-2.13 -1.23v-2.46zM278.16 101.93l2.13 1.23v2.46l-2.13 1.23l-2.13 -1.23v-2.46zM282.32 101.93l2.13 1.23v2.46l-2.13 1.23l-2.13 -1.23v-2.46z"/>
<path fill="rgb(230,115,75)" stroke="rgb(230,115,75)" stroke-width="0.3" d="M307.28 36.95l2.13 1.23v2.46l-2.13 1.23l-2.13 -1.23v-2.46zM311.44 36.95l2.13 1.23v2.46l-2.13 1.23l-2.13 -1.23v-2.46zM309.36 40.56l2.13 1.23v2.46l-2.13 1.23l-2.13 -1.23v-2.46zM313.52 40.56l2.13 1.23v2.46l-2.13 1.23l-2.13 -1.23v-2.46zM311.44 44.17l2.13 1.23v2.46l-2.13 1.23l-2.13 -1.23v-2.46zM315.6 44.17l2.13 1.23v2.46l-2.13 1.23l-2.13 -1.23v-2.46zM313.52 47.78l2.13 1.23v2.46l-2.13 1.23l-2.13 -1.23v-2.46zM251.12 91.1l2.13 1.23v2.46l-2.13 1.23l-2.13 -1.23v-2.46z"/>
<path fill="rgb(232,123,75)" stroke="rgb(232,123,75)" stroke-width="0.3" d="M315.6 36.95l2.13 1.23v2.46l-2.13 1.23l-2.13 -1.23v-2.46zM246.96 83.88l2.13 1.23v2.46l-2.13 1.23l-2.13 -1.23v-2.46zM251.12 83.88l2.13 1.23v2.46l-2.13 1.23l-2.13 -1.23v-2.46zM249.04 87.49l2.13 1.23v2.46l-2.13 1.23l-2.13 -1.23v-2.46zM253.2 94.71l2.13 1.23v2.46l-2.13 1.23l-2.13 -1.23v-2.46z"/>
<path fill="rgb(233,132,75)" stroke="rgb(233,132,75)" stroke-width="0.3" d="M319.76 36.95l2.13 1.23v2.46l-2.13 1.23l-2.13 -1.23v-2.46zM323.92 36.95l2.13 1.23v2.46l-2.13 1.23l-2.13 -1.23v-2.46zM317.68 40.56l2.13 1.23v2.46l-2.13 1.23l-2.13 -1.23v-2.46zM321.84 40.56l2.13 1.23v2.46l-2.13 1.23l-2.13 -1.23v-2.46zM317.68 47.78l2.13 1.23v2.46l-2.13 1.23l-2.13 -1.23v-2.46zM251.12 76.66l2.13 1.23v2.46l-2.13 1.23l-2.13 -1.23v-2.46zM255.28 76.66l2.13 1.23v2.46l-2.13 1.23l-2.13 -1.23v-2.46zM259.44 76.66l2.13 1.23v2.46l-2.13 1.23l-2.13 -1.23v-2.46zM253.2 80.27l2.13 1.23v2.46l-2.13 1.23l-2.13 -1.23v-2.46zM257.36 80.27l2.13 1.23v2.46l-2.13 1.23l-2.13 -1.23v-2.46z"/>
<path fill="rgb(235,140,75)" stroke="rgb(235,140,75)" stroke-width="0.3" d="M328.08 36.95l2.13 1.23v2.46l-2.13 1.23l-2.13 -1.23v-2.46zM332.24 36.95l2.13 1.23v2.46l-2.13 1.23l-2.13 -1.23v-2.46zM288.56 40.56l2.13 1.23v2.46l-2.13 1.23l-2.13 -1.23v-2.46zM326 40.56l2.13 1.23v2.46l-2.13 1.23l-2.13 -1.23v-2.46zM330.16 40.56l2.13 1.23v2.46l-2.13 1.23l-2.13 -1.23v-2.46zM334.32 40.56l2.13 1.23v2.46l-2.13 1.23l-2.13 -1.23v-2.46zM319.76 44.17l2.13 1.23v2.46l-2.13 1.23l-2.13 -1.23v-2.46zM323.92 44.17l2.13 1.23v2.46l-2.13 1.23l-2.13 -1.23v-2.46zM321.84 47.78l2.13 1.23v2.46l-2.13 1.23l-2.13 -1.23v-2.46zM315.6 51.39l2.13 1.23v2.46l-2.13 1.23l-2.13 -1.23v-2.46zM313.52 55l2.13 1.23v2.46l-2.13 1.23l-2.13 -1.23v-2.46zM246.96 76.66l2.13 1.23v2.46l-2.13 1.23l-2.13 -1.23v-2.46zM244.88 80.27l2.13 1.23v2.46l-2.13 1.23l-2.13 -1.23v-2.46zM249.04 80.27l2.13 1.23v2.46l-2.13 1.23l-2.13 -1.23v-2.46zM286.48 101.93l2.13 1.23v2.46l-2.13 1.23l-2.13 -1.23v-2.46z"/>
<path fill="rgb(80,84,249)" stroke="rgb(80,84,249)" stroke-width="0.3" d="M234.48 40.56l2.13 1.23v2.46l-2.13 1.23l-2.13 -1.23v-2.46zM234.48 47.78l2.13 1.23v2.46l-2.13 1.23l-2.13 -1.23v-2.46zM240.72 51.39l2.13 1.23v2.46l-2.13 1.23l-2.13 -1.23v-2.46zM242.8 55l2.13 1.23v2.46l-2.13 1.23l-2.13 -1.23v-2.46zM244.88 65.83l2.13 1.23v2.46l-2.13 1.23l-2.13 -1.23v-2.46zM244.88 87.49l2.13 1.23v2.46l-2.13 1.23l-2.13 -1.23v-2.46zM242.8 91.1l2.13 1.23v2.46l-2.13 1.23l-2.13 -1.23v-2.46zM240.72 94.71l2.13 1.23v2.46l-2.13 1.23l-2.13 -1.23v-2.46zM238.64 98.32l2.13 1.23v2.46l-2.13 1.23l-2.13 -1.23v-2.46zM224.08 101.93l2.13 1.23v2.46l-2.13 1.23l-2.13 -1.23v-2.46zM228.24 101.93l2.13 1.23v2.46l-2.13 1.23l-2.13 -1.23v-2.46zM232.4 101.93l2.13 1.23v2.46l-2.13 1.23l-2.13 -1.23v-2.46z"/>
<path fill="rgb(127,221,247)" stroke="rgb(127,221,247)" stroke-width="0.3" d="M280.24 40.56l2.13 1.23v2.46l-2.13 1.23l-2.13 -1.23v-2.46zM284.4 40.56l2.13 1.23v2.46l-2.13 1.23l-2.13 -1.23v-2.46zM274 44.17l2.13 1.23v2.46l-2.13 1.23l-2.13 -1.23v-2.46zM271.92 47.78l2.13 1.23v2.46l-2.13 1.23l-2.13 -1.23v-2.46zM294.8 101.93l2.13 1.23v2.46l-2.13 1.23l-2.13 -1.23v-2.46zM292.72 105.54l2.13 1.23v2.46l-2.13 1.23l-2.13 -1.23v-2.46zM294.8 109.15l2.13 1.23v2.46l-2.13 1.23l-2.13 -1.23v-2.46zM292.72 112.76l2.13 1.23v2.46l-2.13 1.23l-2.13 -1.23v-2.46zM294.8 116.37l2.13 1.23v2.46l-2.13 1.23l-2.13 -1.23v-2.46zM292.72 119.98l2.13 1.23v2.46l-2.13 1.23l-2.13 -1.23v-2.46zM296.88 119.98l2.13 1.23v2.46l-2.13 1.23l-2.13 -1.23v-2.46zM294.8 123.59l2.13 1.23v2.46l-2.13 1.23l-2.13 -1.23v-2.46zM298.96 123.59l2.13 1.23v2.46l-2.13 1.23l-2.13 -1.23v-2.46z"/>
<path fill="rgb(82,88,249)" stroke="rgb(82,88,249)" stroke-width="0.3" d="M236.56 44.17l2.13 1.23v2.46l-2.13 1.23l-2.13 -1.23v-2.46zM238.64 47.78l2.13 1.23v2.46l-2.13 1.23l-2.13 -1.23v-2.46zM244.88 58.61l2.13 1.23v2.46l-2.13 1.23l-2.13 -1.23v-2.46zM246.96 91.1l2.13 1.23v2.46l-2.13 1.23l-2.13 -1.23v-2.46zM244.88 94.71l2.13 1.23v2.46l-2.13 1.23l-2.13 -1.23v-2.46zM242.8 98.32l2.13 1.23v2.46l-2.13 1.23l-2.13 -1.23v-2.46zM236.56 101.93l2.13 1.23v2.46l-2.13 1.23l-2.13 -1.23v-2.46zM240.72 101.93l2.13 1.23v2.46l-2.13 1.23l-2.13 -1.23v-2.46zM226.16 105.54l2.13 1.23v2.46l-2.13 1.23l-2.13 -1.23v-2.46zM230.32 105.54l2.13 1.23v2.46l-2.13 1.23l-2.13 -1.23v-2.46z"/>
<path fill="rgb(84,96,250)" stroke="rgb(84,96,250)" stroke-width="0.3" d="M240.72 44.17l2.13 1.23v2.46l-2.13 1.23l-2.13 -1.23v-2.46zM251.12 98.32l2.13 1.23v2.46l-2.13 1.23l-2.13 -1.23v-2.46zM242.8 105.54l2.13 1.23v2.46l-2.13 1.23l-2.13 -1.23v-2.46zM232.4 109.15l2.13 1.23v2.46l-2.13 1.23l-2.13 -1.23v-2.46zM236.56 109.15l2.13 1.23v2.46l-2.13 1.23l-2.13 -1.23v-2.46zM226.16 112.76l2.13 1.23v2.46l-2.13 1.23l-2.13 -1.23v-2.46zM230.32 112.76l2.13 1.23v2.46l-2.13 1.23l-2.13 -1.23v-2.46zM234.48 112.76l2.13 1.23v2.46l-2.13 1.23l-2.13 -1.23v-2.46z"/>
<path fill="rgb(105,154,250)" stroke="rgb(105,154,250)" stroke-width="0.3" d="M261.52 44.17l2.13 1.23v2.46l-2.13 1.23l-2.13 -1.23v-2.46zM263.6 105.54l2.13 1.23v2.46l-2.13 1.23l-2.13 -1.23v-2.46zM261.52 109.15l2.13 1.23v2.46l-2.13 1.23l-2.13 -1.23v-2.46zM265.68 109.15l2.13 1.23v2.46l-2.13 1.23l-2.13 -1.23v-2.46zM259.44 112.76l2.13 1.23v2.46l-2.13 1.23l-2.13 -1.23v-2.46zM263.6 112.76l2.13 1.23v2.46l-2.13 1.23l-2.13 -1.23v-2.46zM261.52 116.37l2.13 1.23v2.46l-2.13 1.23l-2.13 -1.23v-2.46zM259.44 119.98l2.13 1.23v2.46l-2.13 1.23l-2.13 -1.23v-2.46zM263.6 119.98l2.13 1.23v2.46l-2.13 1.23l-2.13 -1.23v-2.46zM257.36 123.59l2.13 1.23v2.46l-2.13 1.23l-2.13 -1.23v-2.46zM261.52 123.59l2.13 1.23v2.46l-2.13 1.23l-2.13 -1.23v-2.46z"/>
<path fill="rgb(130,232,245)" stroke="rgb(130,232,245)" stroke-width="0.3" d="M278.16 44.17l2.13 1.23v2.46l-2.13 1.23l-2.13 -1.23v-2.46zM282.32 44.17l2.13 1.23v2.46l-2.13 1.23l-2.13 -1.23v-2.46zM276.08 47.78l2.13 1.23v2.46l-2.13 1.23l-2.13 -1.23v-2.46zM269.84 51.39l2.13 1.23v2.46l-2.13 1.23l-2.13 -1.23v-2.46zM274 51.39l2.13 1.23v2.46l-2.13 1.23l-2.13 -1.23v-2.46zM267.76 55l2.13 1.23v2.46l-2.13 1.23l-2.13 -1.23v-2.46zM271.92 55l2.13 1.23v2.46l-2.13 1.23l-2.13 -1.23v-2.46zM278.16 58.61l2.13 1.23v2.46l-2.13 1.23l-2.13 -1.23v-2.46zM296.88 105.54l2.13 1.23v2.46l-2.13 1.23l-2.13 -1.23v-2.46zM298.96 109.15l2.13 1.23v2.46l-2.13 1.23l-2.13 -1.23v-2.46zM296.88 112.76l2.13 1.23v2.46l-2.13 1.23l-2.13 -1.23v-2.46zM301.04 112.76l2.13 1.23v2.46l-2.13 1.23l-2.13 -1.23v-2.46zM298.96 116.37l2.13 1.23v2.46l-2.13 1.23l-2.13 -1.23v-2.46zM303.12 116.37l2.13 1.23v2.46l-2.13 1.23l-2.13 -1.23v-2.46zM301.04 119.98l2.13 1.23v2.46l-2.13 1.23l-2.13 -1.23v-2.46zM305.2 119.98l2.13 1.23v2.46l-2.13 1.23l-2.13 -1.23v-2.46zM303.12 123.59l2.13 1.23v2.46l-2.13 1.23l-2.13 -1.23v-2.46zM307.28 123.59l2.13 1.23v2.46l-2.13 1.23l-2.13 -1.23v-2.46z"/>
<path fill="rgb(237,153,77)" stroke="rgb(237,153,77)" stroke-width="0.3" d="M328.08 44.17l2.13 1.23v2.46l-2.13 1.23l-2.13 -1.23v-2.46zM326 47.78l2.13 1.23v2.46l-2.13 1.23l-2.13 -1.23v-2.46zM265.68 73.05l2.13 1.23v2.46l-2.13 1.23l-2.13 -1.23v-2.46zM255.28 98.32l2.13 1.23v2.46l-2.13 1.23l-2.13 -1.23v-2.46z"/>
<path fill="rgb(238,167,78)" stroke="rgb(238,167,78)" stroke-width="0.3" d="M332.24 44.17l2.13 1.23v2.46l-2.13 1.23l-2.13 -1.23v-2.46zM330.16 47.78l2.13 1.23v2.46l-2.13 1.23l-2.13 -1.23v-2.46zM334.32 47.78l2.13 1.23v2.46l-2.13 1.23l-2.13 -1.23v-2.46zM319.76 51.39l2.13 1.23v2.46l-2.13 1.23l-2.13 -1.23v-2.46zM257.36 73.05l2.13 1.23v2.46l-2.13 1.23l-2.13 -1.23v-2.46zM261.52 73.05l2.13 1.23v2.46l-2.13 1.23l-2.13 -1.23v-2.46z"/>
<path fill="rgb(132,234,231)" stroke="rgb(132,234,231)" stroke-width="0.3" d="M280.24 47.78l2.13 1.23v2.46l-2.13 1.23l-2.13 -1.23v-2.46zM284.4 47.78l2.13 1.23v2.46l-2.13 1.23l-2.13 -1.23v-2.46zM278.16 51.39l2.13 1.23v2.46l-2.13 1.23l-2.13 -1.23v-2.46zM282.32 51.39l2.13 1.23v2.46l-2.13 1.23l-2.13 -1.23v-2.46zM276.08 55l2.13 1.23v2.46l-2.13 1.23l-2.13 -1.23v-2.46zM301.04 105.54l2.13 1.23v2.46l-2.13 1.23l-2.13 -1.23v-2.46zM303.12 109.15l2.13 1.23v2.46l-2.13 1.23l-2.13 -1.23v-2.46zM305.2 112.76l2.13 1.23v2.46l-2.13 1.23l-2.13 -1.23v-2.46zM307.28 116.37l2.13 1.23v2.46l-2.13 1.23l-2.13 -1.23v-2.46zM309.36 119.98l2.13 1.23v2.46l-2.13 1.23l-2.13 -1.23v-2.46zM311.44 123.59l2.13 1.23v2.46l-2.13 1.23l-2.13 -1.23v-2.46z"/>
<path fill="rgb(240,180,80)" stroke="rgb(240,180,80)" stroke-width="0.3" d="M323.92 51.39l2.13 1.23v2.46l-2.13 1.23l-2.13 -1.23v-2.46zM328.08 51.39l2.13 1.23v2.46l-2.13 1.23l-2.13 -1.23v-2.46zM332.24 51.39l2.13 1.23v2.46l-2.13 1.23l-2.13 -1.23v-2.46zM317.68 55l2.13 1.23v2.46l-2.13 1.23l-2.13 -1.23v-2.46zM321.84 55l2.13 1.23v2.46l-2.13 1.23l-2.13 -1.23v-2.46zM249.04 73.05l2.13 1.23v2.46l-2.13 1.23l-2.13 -1.23v-2.46zM253.2 73.05l2.13 1.23v2.46l-2.13 1.23l-2.13 -1.23v-2.46z"/>
<path fill="rgb(150,242,95)" stroke="rgb(150,242,95)" stroke-width="0.3" d="M251.12 55l2.13 1.23v2.46l-2.13 1.23l-2.13 -1.23v-2.46zM263.6 55l2.13 1.23v2.46l-2.13 1.23l-2.13 -1.23v-2.46zM271.92 62.22l2.13 1.23v2.46l-2.13 1.23l-2.13 -1.23v-2.46zM242.8 69.44l2.13 1.23v2.46l-2.13 1.23l-2.13 -1.23v-2.46zM305.2 91.1l2.13 1.23v2.46l-2.13 1.23l-2.13 -1.23v-2.46zM309.36 91.1l2.13 1.23v2.46l-2.13 1.23l-2.13 -1.23v-2.46zM313.52 91.1l2.13 1.23v2.46l-2.13 1.23l-2.13 -1.23v-2.46zM317.68 91.1l2.13 1.23v2.46l-2.13 1.23l-2.13 -1.23v-2.46zM321.84 91.1l2.13 1.23v2.46l-2.13 1.23l-2.13 -1.23v-2.46zM303.12 94.71l2.13 1.23v2.46l-2.13 1.23l-2.13 -1.23v-2.46zM307.28 94.71l2.13 1.23v2.46l-2.13 1.23l-2.13 -1.23v-2.46zM311.44 94.71l2.13 1.23v2.46l-2.13 1.23l-2.13 -1.23v-2.46zM315.6 94.71l2.13 1.23v2.46l-2.13 1.23l-2.13 -1.23v-2.46zM319.76 94.71l2.13 1.23v2.46l-2.13 1.23l-2.13 -1.23v-2.46zM323.92 94.71l2.13 1.23v2.46l-2.13 1.23l-2.13 -1.23v-2.46zM328.08 94.71l2.13 1.23v2.46l-2.13 1.23l-2.13 -1.23v-2.46zM332.24 94.71l2.13 1.23v2.46l-2.13 1.23l-2.13 -1.23v-2.46zM261.52 101.93l2.13 1.23v2.46l-2.13 1.23l-2.13 -1.23v-2.46z"/>
<path fill="rgb(162,243,92)" stroke="rgb(162,243,92)" stroke-width="0.3" d="M255.28 55l2.13 1.23v2.46l-2.13 1.23l-2.13 -1.23v-2.46zM261.52 58.61l2.13 1.23v2.46l-2.13 1.23l-2.13 -1.23v-2.46zM265.68 58.61l2.13 1.23v2.46l-2.13 1.23l-2.13 -1.23v-2.46zM267.76 62.22l2.13 1.23v2.46l-2.13 1.23l-2.13 -1.23v-2.46zM274 65.83l2.13 1.23v2.46l-2.13 1.23l-2.13 -1.23v-2.46zM242.8 76.66l2.13 1.23v2.46l-2.13 1.23l-2.13 -1.23v-2.46zM309.36 83.88l2.13 1.23v2.46l-2.13 1.23l-2.13 -1.23v-2.46zM321.84 83.88l2.13 1.23v2.46l-2.13 1.23l-2.13 -1.23v-2.46zM307.28 87.49l2.13 1.23v2.46l-2.13 1.23l-2.13 -1.23v-2.46zM311.44 87.49l2.13 1.23v2.46l-2.13 1.23l-2.13 -1.23v-2.46zM315.6 87.49l2.13 1.23v2.46l-2.13 1.23l-2.13 -1.23v-2.46zM319.76 87.49l2.13 1.23v2.46l-2.13 1.23l-2.13 -1.23v-2.46zM323.92 87.49l2.13 1.23v2.46l-2.13 1.23l-2.13 -1.23v-2.46zM328.08 87.49l2.13 1.23v2.46l-2.13 1.23l-2.13 -1.23v-2.46zM332.24 87.49l2.13 1.23v2.46l-2.13 1.23l-2.13 -1.23v-2.46zM326 91.1l2.13 1.23v2.46l-2.13 1.23l-2.13 -1.23v-2.46zM330.16 91.1l2.13 1.23v2.46l-2.13 1.23l-2.13 -1.23v-2.46zM334.32 91.1l2.13 1.23v2.46l-2.13 1.23l-2.13 -1.23v-2.46zM290.64 101.93l2.13 1.23v2.46l-2.13 1.23l-2.13 -1.23v-2.46z"/>
<path fill="rgb(148,242,119)" stroke="rgb(148,242,119)" stroke-width="0.3" d="M259.44 55l2.13 1.23v2.46l-2.13 1.23l-2.13 -1.23v-2.46zM274 58.61l2.13 1.23v2.46l-2.13 1.23l-2.13 -1.23v-2.46zM282.32 58.61l2.13 1.23v2.46l-2.13 1.23l-2.13 -1.23v-2.46zM276.08 62.22l2.13 1.23v2.46l-2.13 1.23l-2.13 -1.23v-2.46zM305.2 98.32l2.13 1.23v2.46l-2.13 1.23l-2.13 -1.23v-2.46zM309.36 98.32l2.13 1.23v2.46l-2.13 1.23l-2.13 -1.23v-2.46zM321.84 98.32l2.13 1.23v2.46l-2.13 1.23l-2.13 -1.23v-2.46zM334.32 98.32l2.13 1.23v2.46l-2.13 1.23l-2.13 -1.23v-2.46z"/>
<path fill="rgb(242,195,82)" stroke="rgb(242,195,82)" stroke-width="0.3" d="M326 55l2.13 1.23v2.46l-2.13 1.23l-2.13 -1.23v-2.46zM251.12 69.44l2.13 1.23v2.46l-2.13 1.23l-2.13 -1.23v-2.46zM244.88 73.05l2.13 1.23v2.46l-2.13 1.23l-2.13 -1.23v-2.46z"/>
<path fill="rgb(245,210,85)" stroke="rgb(245,210,85)" stroke-width="0.3" d="M330.16 55l2.13 1.23v2.46l-2.13 1.23l-2.13 -1.23v-2.46zM334.32 55l2.13 1.23v2.46l-2.13 1.23l-2.13 -1.23v-2.46zM315.6 58.61l2.13 1.23v2.46l-2.13 1.23l-2.13 -1.23v-2.46zM246.96 69.44l2.13 1.23v2.46l-2.13 1.23l-2.13 -1.23v-2.46zM255.28 69.44l2.13 1.23v2.46l-2.13 1.23l-2.13 -1.23v-2.46zM259.44 69.44l2.13 1.23v2.46l-2.13 1.23l-2.13 -1.23v-2.46zM269.84 73.05l2.13 1.23v2.46l-2.13 1.23l-2.13 -1.23v-2.46z"/>
<path fill="rgb(208,245,85)" stroke="rgb(208,245,85)" stroke-width="0.3" d="M249.04 58.61l2.13 1.23v2.46l-2.13 1.23l-2.13 -1.23v-2.46zM267.76 69.44l2.13 1.23v2.46l-2.13 1.23l-2.13 -1.23v-2.46zM321.84 69.44l2.13 1.23v2.46l-2.13 1.23l-2.13 -1.23v-2.46zM326 69.44l2.13 1.23v2.46l-2.13 1.23l-2.13 -1.23v-2.46zM311.44 73.05l2.13 1.23v2.46l-2.13 1.23l-2.13 -1.23v-2.46zM315.6 73.05l2.13 1.23v2.46l-2.13 1.23l-2.13 -1.23v-2.46zM323.92 73.05l2.13 1.23v2.46l-2.13 1.23l-2.13 -1.23v-2.46zM328.08 73.05l2.13 1.23v2.46l-2.13 1.23l-2.13 -1.23v-2.46z"/>
<path fill="rgb(173,244,88)" stroke="rgb(173,244,88)" stroke-width="0.3" d="M253.2 58.61l2.13 1.23v2.46l-2.13 1.23l-2.13 -1.23v-2.46zM263.6 62.22l2.13 1.23v2.46l-2.13 1.23l-2.13 -1.23v-2.46zM269.84 65.83l2.13 1.23v2.46l-2.13 1.23l-2.13 -1.23v-2.46zM313.52 83.88l2.13 1.23v2.46l-2.13 1.23l-2.13 -1.23v-2.46zM317.68 83.88l2.13 1.23v2.46l-2.13 1.23l-2.13 -1.23v-2.46zM326 83.88l2.13 1.23v2.46l-2.13 1.23l-2.13 -1.23v-2.46zM330.16 83.88l2.13 1.23v2.46l-2.13 1.23l-2.13 -1.23v-2.46zM334.32 83.88l2.13 1.23v2.46l-2.13 1.23l-2.13 -1.23v-2.46z"/>
<path fill="rgb(197,245,85)" stroke="rgb(197,245,85)" stroke-width="0.3" d="M257.36 58.61l2.13 1.23v2.46l-2.13 1.23l-2.13 -1.23v-2.46zM259.44 62.22l2.13 1.23v2.46l-2.13 1.23l-2.13 -1.23v-2.46zM265.68 65.83l2.13 1.23v2.46l-2.13 1.23l-2.13 -1.23v-2.46zM271.92 69.44l2.13 1.23v2.46l-2.13 1.23l-2.13 -1.23v-2.46zM319.76 73.05l2.13 1.23v2.46l-2.13 1.23l-2.13 -1.23v-2.46zM326 76.66l2.13 1.23v2.46l-2.13 1.23l-2.13 -1.23v-2.46z"/>
<path fill="rgb(145,241,142)" stroke="rgb(145,241,142)" stroke-width="0.3" d="M269.84 58.61l2.13 1.23v2.46l-2.13 1.23l-2.13 -1.23v-2.46zM280.24 62.22l2.13 1.23v2.46l-2.13 1.23l-2.13 -1.23v-2.46zM317.68 98.32l2.13 1.23v2.46l-2.13 1.23l-2.13 -1.23v-2.46zM326 98.32l2.13 1.23v2.46l-2.13 1.23l-2.13 -1.23v-2.46zM307.28 101.93l2.13 1.23v2.46l-2.13 1.23l-2.13 -1.23v-2.46zM323.92 101.93l2.13 1.23v2.46l-2.13 1.23l-2.13 -1.23v-2.46z"/>
<path fill="rgb(247,222,87)" stroke="rgb(247,222,87)" stroke-width="0.3" d="M319.76 58.61l2.13 1.23v2.46l-2.13 1.23l-2.13 -1.23v-2.46zM323.92 58.61l2.13 1.23v2.46l-2.13 1.23l-2.13 -1.23v-2.46zM328.08 58.61l2.13 1.23v2.46l-2.13 1.23l-2.13 -1.23v-2.46zM332.24 58.61l2.13 1.23v2.46l-2.13 1.23l-2.13 -1.23v-2.46z"/>
<path fill="rgb(220,245,85)" stroke="rgb(220,245,85)" stroke-width="0.3" d="M246.96 62.22l2.13 1.23v2.46l-2.13 1.23l-2.13 -1.23v-2.46zM251.12 62.22l2.13 1.23v2.46l-2.13 1.23l-2.13 -1.23v-2.46zM261.52 65.83l2.13 1.23v2.46l-2.13 1.23l-2.13 -1.23v-2.46zM323.92 65.83l2.13 1.23v2.46l-2.13 1.23l-2.13 -1.23v-2.46zM313.52 69.44l2.13 1.23v2.46l-2.13 1.23l-2.13 -1.23v-2.46zM317.68 69.44l2.13 1.23v2.46l-2.13 1.23l-2.13 -1.23v-2.46zM330.16 69.44l2.13 1.23v2.46l-2.13 1.23l-2.13 -1.23v-2.46zM334.32 69.44l2.13 1.23v2.46l-2.13 1.23l-2.13 -1.23v-2.46zM332.24 73.05l2.13 1.23v2.46l-2.13 1.23l-2.13 -1.23v-2.46z"/>
<path fill="rgb(235,245,88)" stroke="rgb(235,245,88)" stroke-width="0.3" d="M255.28 62.22l2.13 1.23v2.46l-2.13 1.23l-2.13 -1.23v-2.46zM315.6 65.83l2.13 1.23v2.46l-2.13 1.23l-2.13 -1.23v-2.46zM319.76 65.83l2.13 1.23v2.46l-2.13 1.23l-2.13 -1.23v-2.46zM328.08 65.83l2.13 1.23v2.46l-2.13 1.23l-2.13 -1.23v-2.46zM332.24 65.83l2.13 1.23v2.46l-2.13 1.23l-2.13 -1.23v-2.46z"/>
<path fill="rgb(248,233,88)" stroke="rgb(248,233,88)" stroke-width="0.3" d="M313.52 62.22l2.13 1.23v2.46l-2.13 1.23l-2.13 -1.23v-2.46zM317.68 62.22l2.13 1.23v2.46l-2.13 1.23l-2.13 -1.23v-2.46zM253.2 65.83l2.13 1.23v2.46l-2.13 1.23l-2.13 -1.23v-2.46zM263.6 69.44l2.13 1.23v2.46l-2.13 1.23l-2.13 -1.23v-2.46z"/>
<path fill="rgb(185,245,85)" stroke="rgb(185,245,85)" stroke-width="0.3" d="M313.52 76.66l2.13 1.23v2.46l-2.13 1.23l-2.13 -1.23v-2.46zM317.68 76.66l2.13 1.23v2.46l-2.13 1.23l-2.13 -1.23v-2.46zM321.84 76.66l2.13 1.23v2.46l-2.13 1.23l-2.13 -1.23v-2.46zM330.16 76.66l2.13 1.23v2.46l-2.13 1.23l-2.13 -1.23v-2.46zM334.32 76.66l2.13 1.23v2.46l-2.13 1.23l-2.13 -1.23v-2.46zM311.44 80.27l2.13 1.23v2.46l-2.13 1.23l-2.13 -1.23v-2.46zM315.6 80.27l2.13 1.23v2.46l-2.13 1.23l-2.13 -1.23v-2.46zM319.76 80.27l2.13 1.23v2.46l-2.13 1.23l-2.13 -1.23v-2.46zM323.92 80.27l2.13 1.23v2.46l-2.13 1.23l-2.13 -1.23v-2.46zM328.08 80.27l2.13 1.23v2.46l-2.13 1.23l-2.13 -1.23v-2.46zM332.24 80.27l2.13 1.23v2.46l-2.13 1.23l-2.13 -1.23v-2.46z"/>
<path fill="rgb(142,240,166)" stroke="rgb(142,240,166)" stroke-width="0.3" d="M301.04 98.32l2.13 1.23v2.46l-2.13 1.23l-2.13 -1.23v-2.46zM313.52 98.32l2.13 1.23v2.46l-2.13 1.23l-2.13 -1.23v-2.46zM330.16 98.32l2.13 1.23v2.46l-2.13 1.23l-2.13 -1.23v-2.46zM298.96 101.93l2.13 1.23v2.46l-2.13 1.23l-2.13 -1.23v-2.46zM303.12 101.93l2.13 1.23v2.46l-2.13 1.23l-2.13 -1.23v-2.46zM311.44 101.93l2.13 1.23v2.46l-2.13 1.23l-2.13 -1.23v-2.46zM319.76 101.93l2.13 1.23v2.46l-2.13 1.23l-2.13 -1.23v-2.46zM321.84 105.54l2.13 1.23v2.46l-2.13 1.23l-2.13 -1.23v-2.46zM326 105.54l2.13 1.23v2.46l-2.13 1.23l-2.13 -1.23v-2.46zM330.16 105.54l2.13 1.23v2.46l-2.13 1.23l-2.13 -1.23v-2.46zM334.32 105.54l2.13 1.23v2.46l-2.13 1.23l-2.13 -1.23v-2.46zM323.92 109.15l2.13 1.23v2.46l-2.13 1.23l-2.13 -1.23v-2.46zM328.08 109.15l2.13 1.23v2.46l-2.13 1.23l-2.13 -1.23v-2.46zM332.24 109.15l2.13 1.23v2.46l-2.13 1.23l-2.13 -1.23v-2.46z"/>
<path fill="rgb(140,240,190)" stroke="rgb(140,240,190)" stroke-width="0.3" d="M315.6 101.93l2.13 1.23v2.46l-2.13 1.23l-2.13 -1.23v-2.46zM328.08 101.93l2.13 1.23v2.46l-2.13 1.23l-2.13 -1.23v-2.46zM332.24 101.93l2.13 1.23v2.46l-2.13 1.23l-2.13 -1.23v-2.46zM313.52 105.54l2.13 1.23v2.46l-2.13 1.23l-2.13 -1.23v-2.46zM317.68 105.54l2.13 1.23v2.46l-2.13 1.23l-2.13 -1.23v-2.46zM315.6 109.15l2.13 1.23v2.46l-2.13 1.23l-2.13 -1.23v-2.46zM319.76 109.15l2.13 1.23v2.46l-2.13 1.23l-2.13 -1.23v-2.46zM317.68 112.76l2.13 1.23v2.46l-2.13 1.23l-2.13 -1.23v-2.46zM321.84 112.76l2.13 1.23v2.46l-2.13 1.23l-2.13 -1.23v-2.46zM326 112.76l2.13 1.23v2.46l-2.13 1.23l-2.13 -1.23v-2.46zM330.16 112.76l2.13 1.23v2.46l-2.13 1.23l-2.13 -1.23v-2.46zM334.32 112.76l2.13 1.23v2.46l-2.13 1.23l-2.13 -1.23v-2.46zM323.92 116.37l2.13 1.23v2.46l-2.13 1.23l-2.13 -1.23v-2.46zM328.08 116.37l2.13 1.23v2.46l-2.13 1.23l-2.13 -1.23v-2.46zM332.24 116.37l2.13 1.23v2.46l-2.13 1.23l-2.13 -1.23v-2.46zM326 119.98l2.13 1.23v2.46l-2.13 1.23l-2.13 -1.23v-2.46zM330.16 119.98l2.13 1.23v2.46l-2.13 1.23l-2.13 -1.23v-2.46zM334.32 119.98l2.13 1.23v2.46l-2.13 1.23l-2.13 -1.23v-2.46z"/>
<path fill="rgb(135,236,218)" stroke="rgb(135,236,218)" stroke-width="0.3" d="M305.2 105.54l2.13 1.23v2.46l-2.13 1.23l-2.13 -1.23v-2.46zM307.28 109.15l2.13 1.23v2.46l-2.13 1.23l-2.13 -1.23v-2.46zM309.36 112.76l2.13 1.23v2.46l-2.13 1.23l-2.13 -1.23v-2.46zM311.44 116.37l2.13 1.23v2.46l-2.13 1.23l-2.13 -1.23v-2.46zM313.52 119.98l2.13 1.23v2.46l-2.13 1.23l-2.13 -1.23v-2.46zM315.6 123.59l2.13 1.23v2.46l-2.13 1.23l-2.13 -1.23v-2.46z"/>
<path fill="rgb(138,238,204)" stroke="rgb(138,238,204)" stroke-width="0.3" d="M309.36 105.54l2.13 1.23v2.46l-2.13 1.23l-2.13 -1.23v-2.46zM311.44 109.15l2.13 1.23v2.46l-2.13 1.23l-2.13 -1.23v-2.46zM313.52 112.76l2.13 1.23v2.46l-2.13 1.23l-2.13 -1.23v-2.46zM315.6 116.37l2.13 1.23v2.46l-2.13 1.23l-2.13 -1.23v-2.46zM319.76 116.37l2.13 1.23v2.46l-2.13 1.23l-2.13 -1.23v-2.46zM317.68 119.98l2.13 1.23v2.46l-2.13 1.23l-2.13 -1.23v-2.46zM321.84 119.98l2.13 1.23v2.46l-2.13 1.23l-2.13 -1.23v-2.46zM319.76 123.59l2.13 1.23v2.46l-2.13 1.23l-2.13 -1.23v-2.46zM323.92 123.59l2.13 1.23v2.46l-2.13 1.23l-2.13 -1.23v-2.46zM328.08 123.59l2.13 1.23v2.46l-2.13 1.23l-2.13 -1.23v-2.46zM332.24 123.59l2.13 1.23v2.46l-2.13 1.23l-2.13 -1.23v-2.46z"/>
<defs><linearGradient id="cb216" x1="0" y1="0" x2="0" y2="1"><stop offset="0" stop-color="#b83434"/><stop offset="0.18" stop-color="#cc6a3a"/><stop offset="0.33" stop-color="#d0b444"/><stop offset="0.5" stop-color="#7cbc48"/><stop offset="0.68" stop-color="#5cbcbc"/><stop offset="0.85" stop-color="#4a78d0"/><stop offset="1" stop-color="#3436b0"/></linearGradient></defs>
<rect x="216" y="37.2" width="2" height="91.2" fill="url(#cb216)"/>
<text x="214.8" y="46.4" font-size="6.5" stroke="#1e1e1e" stroke-width="0.12" text-anchor="end" fill="#1e1e1e" textLength="2.4" lengthAdjust="spacingAndGlyphs">1</text>
<text x="214.8" y="65.8" font-size="6.5" stroke="#1e1e1e" stroke-width="0.12" text-anchor="end" fill="#1e1e1e" textLength="8.9" lengthAdjust="spacingAndGlyphs">0.5</text>
<text x="214.8" y="85.1" font-size="6.5" stroke="#1e1e1e" stroke-width="0.12" text-anchor="end" fill="#1e1e1e" textLength="3.9" lengthAdjust="spacingAndGlyphs">0</text>
<text x="214.8" y="104.5" font-size="6.5" stroke="#1e1e1e" stroke-width="0.12" text-anchor="end" fill="#1e1e1e" textLength="11.3" lengthAdjust="spacingAndGlyphs">-0.5</text>
<text x="214.8" y="123.9" font-size="6.5" stroke="#1e1e1e" stroke-width="0.12" text-anchor="end" fill="#1e1e1e" textLength="5.8" lengthAdjust="spacingAndGlyphs">-1</text>
<text x="197.9" y="82.5" font-size="8.2" stroke="#1e1e1e" stroke-width="0.12" text-anchor="middle" fill="#1e1e1e" textLength="57.2" lengthAdjust="spacingAndGlyphs" transform="rotate(-90 197.9 82.5)">Expression Z-score</text>
<circle cx="247.5" cy="39.4" r="2.2" fill="none" stroke="#111" stroke-width="1"/>
<text x="247.5" y="35.7" font-size="5.4" stroke="#111" stroke-width="0.12" text-anchor="middle" fill="#111">5</text>
<circle cx="266" cy="39.4" r="2.2" fill="none" stroke="#111" stroke-width="1"/>
<text x="266" y="35.7" font-size="5.4" stroke="#111" stroke-width="0.12" text-anchor="middle" fill="#111">1</text>
<circle cx="231.1" cy="50.7" r="2.2" fill="none" stroke="#111" stroke-width="1"/>
<text x="227.4" y="49.9" font-size="5.4" stroke="#111" stroke-width="0.12" text-anchor="middle" fill="#111">7</text>
<circle cx="272.7" cy="65.6" r="2.2" fill="none" stroke="#111" stroke-width="1"/>
<text x="278.2" y="66" font-size="5.4" stroke="#111" stroke-width="0.12" text-anchor="middle" fill="#111">3</text>
<circle cx="229.2" cy="84.4" r="2.2" fill="none" stroke="#111" stroke-width="1"/>
<text x="228.2" y="81" font-size="5.4" stroke="#111" stroke-width="0.12" text-anchor="middle" fill="#111">2</text>
<circle cx="235.7" cy="125.5" r="2.2" fill="none" stroke="#111" stroke-width="1"/>
<text x="235.7" y="133.4" font-size="5.4" stroke="#111" stroke-width="0.12" text-anchor="middle" fill="#111">6</text>
<circle cx="289.4" cy="121.8" r="2.2" fill="none" stroke="#111" stroke-width="1"/>
<text x="289.4" y="129.5" font-size="5.4" stroke="#111" stroke-width="0.12" text-anchor="middle" fill="#111">4</text>
<text x="433.4" y="28.6" font-size="6.8" text-anchor="middle" font-weight="bold" fill="#111" textLength="36" lengthAdjust="spacingAndGlyphs">fetal HSPCs</text>
<path fill="rgb(232,123,75)" stroke="rgb(232,123,75)" stroke-width="0.3" d="M379.28 38.95l2.13 1.23v2.46l-2.13 1.23l-2.13 -1.23v-2.46zM383.44 38.95l2.13 1.23v2.46l-2.13 1.23l-2.13 -1.23v-2.46zM387.6 38.95l2.13 1.23v2.46l-2.13 1.23l-2.13 -1.23v-2.46zM391.76 38.95l2.13 1.23v2.46l-2.13 1.23l-2.13 -1.23v-2.46z"/>
<path fill="rgb(233,132,75)" stroke="rgb(233,132,75)" stroke-width="0.3" d="M395.92 38.95l2.13 1.23v2.46l-2.13 1.23l-2.13 -1.23v-2.46zM381.36 42.56l2.13 1.23v2.46l-2.13 1.23l-2.13 -1.23v-2.46zM385.52 42.56l2.13 1.23v2.46l-2.13 1.23l-2.13 -1.23v-2.46zM389.68 42.56l2.13 1.23v2.46l-2.13 1.23l-2.13 -1.23v-2.46zM393.84 42.56l2.13 1.23v2.46l-2.13 1.23l-2.13 -1.23v-2.46zM379.28 46.17l2.13 1.23v2.46l-2.13 1.23l-2.13 -1.23v-2.46zM391.76 46.17l2.13 1.23v2.46l-2.13 1.23l-2.13 -1.23v-2.46z"/>
<path fill="rgb(222,80,82)" stroke="rgb(222,80,82)" stroke-width="0.3" d="M400.08 38.95l2.13 1.23v2.46l-2.13 1.23l-2.13 -1.23v-2.46zM404.24 38.95l2.13 1.23v2.46l-2.13 1.23l-2.13 -1.23v-2.46zM408.4 38.95l2.13 1.23v2.46l-2.13 1.23l-2.13 -1.23v-2.46zM412.56 38.95l2.13 1.23v2.46l-2.13 1.23l-2.13 -1.23v-2.46zM416.72 38.95l2.13 1.23v2.46l-2.13 1.23l-2.13 -1.23v-2.46zM420.88 38.95l2.13 1.23v2.46l-2.13 1.23l-2.13 -1.23v-2.46zM425.04 38.95l2.13 1.23v2.46l-2.13 1.23l-2.13 -1.23v-2.46zM429.2 38.95l2.13 1.23v2.46l-2.13 1.23l-2.13 -1.23v-2.46zM433.36 38.95l2.13 1.23v2.46l-2.13 1.23l-2.13 -1.23v-2.46zM437.52 38.95l2.13 1.23v2.46l-2.13 1.23l-2.13 -1.23v-2.46zM402.16 42.56l2.13 1.23v2.46l-2.13 1.23l-2.13 -1.23v-2.46zM406.32 42.56l2.13 1.23v2.46l-2.13 1.23l-2.13 -1.23v-2.46zM410.48 42.56l2.13 1.23v2.46l-2.13 1.23l-2.13 -1.23v-2.46zM414.64 42.56l2.13 1.23v2.46l-2.13 1.23l-2.13 -1.23v-2.46zM418.8 42.56l2.13 1.23v2.46l-2.13 1.23l-2.13 -1.23v-2.46zM422.96 42.56l2.13 1.23v2.46l-2.13 1.23l-2.13 -1.23v-2.46zM427.12 42.56l2.13 1.23v2.46l-2.13 1.23l-2.13 -1.23v-2.46zM431.28 42.56l2.13 1.23v2.46l-2.13 1.23l-2.13 -1.23v-2.46zM435.44 42.56l2.13 1.23v2.46l-2.13 1.23l-2.13 -1.23v-2.46zM439.6 42.56l2.13 1.23v2.46l-2.13 1.23l-2.13 -1.23v-2.46zM404.24 46.17l2.13 1.23v2.46l-2.13 1.23l-2.13 -1.23v-2.46zM408.4 46.17l2.13 1.23v2.46l-2.13 1.23l-2.13 -1.23v-2.46zM412.56 46.17l2.13 1.23v2.46l-2.13 1.23l-2.13 -1.23v-2.46zM416.72 46.17l2.13 1.23v2.46l-2.13 1.23l-2.13 -1.23v-2.46zM420.88 46.17l2.13 1.23v2.46l-2.13 1.23l-2.13 -1.23v-2.46zM425.04 46.17l2.13 1.23v2.46l-2.13 1.23l-2.13 -1.23v-2.46zM429.2 46.17l2.13 1.23v2.46l-2.13 1.23l-2.13 -1.23v-2.46zM433.36 46.17l2.13 1.23v2.46l-2.13 1.23l-2.13 -1.23v-2.46zM437.52 46.17l2.13 1.23v2.46l-2.13 1.23l-2.13 -1.23v-2.46zM406.32 49.78l2.13 1.23v2.46l-2.13 1.23l-2.13 -1.23v-2.46zM410.48 49.78l2.13 1.23v2.46l-2.13 1.23l-2.13 -1.23v-2.46zM414.64 49.78l2.13 1.23v2.46l-2.13 1.23l-2.13 -1.23v-2.46zM418.8 49.78l2.13 1.23v2.46l-2.13 1.23l-2.13 -1.23v-2.46zM422.96 49.78l2.13 1.23v2.46l-2.13 1.23l-2.13 -1.23v-2.46zM427.12 49.78l2.13 1.23v2.46l-2.13 1.23l-2.13 -1.23v-2.46zM431.28 49.78l2.13 1.23v2.46l-2.13 1.23l-2.13 -1.23v-2.46zM435.44 49.78l2.13 1.23v2.46l-2.13 1.23l-2.13 -1.23v-2.46zM439.6 49.78l2.13 1.23v2.46l-2.13 1.23l-2.13 -1.23v-2.46zM412.56 53.39l2.13 1.23v2.46l-2.13 1.23l-2.13 -1.23v-2.46zM416.72 53.39l2.13 1.23v2.46l-2.13 1.23l-2.13 -1.23v-2.46zM420.88 53.39l2.13 1.23v2.46l-2.13 1.23l-2.13 -1.23v-2.46zM425.04 53.39l2.13 1.23v2.46l-2.13 1.23l-2.13 -1.23v-2.46zM429.2 53.39l2.13 1.23v2.46l-2.13 1.23l-2.13 -1.23v-2.46zM433.36 53.39l2.13 1.23v2.46l-2.13 1.23l-2.13 -1.23v-2.46zM437.52 53.39l2.13 1.23v2.46l-2.13 1.23l-2.13 -1.23v-2.46zM418.8 57l2.13 1.23v2.46l-2.13 1.23l-2.13 -1.23v-2.46zM422.96 57l2.13 1.23v2.46l-2.13 1.23l-2.13 -1.23v-2.46zM427.12 57l2.13 1.23v2.46l-2.13 1.23l-2.13 -1.23v-2.46zM431.28 57l2.13 1.23v2.46l-2.13 1.23l-2.13 -1.23v-2.46zM435.44 57l2.13 1.23v2.46l-2.13 1.23l-2.13 -1.23v-2.46zM420.88 60.61l2.13 1.23v2.46l-2.13 1.23l-2.13 -1.23v-2.46zM425.04 60.61l2.13 1.23v2.46l-2.13 1.23l-2.13 -1.23v-2.46zM429.2 60.61l2.13 1.23v2.46l-2.13 1.23l-2.13 -1.23v-2.46zM433.36 60.61l2.13 1.23v2.46l-2.13 1.23l-2.13 -1.23v-2.46zM422.96 64.22l2.13 1.23v2.46l-2.13 1.23l-2.13 -1.23v-2.46zM427.12 64.22l2.13 1.23v2.46l-2.13 1.23l-2.13 -1.23v-2.46zM431.28 64.22l2.13 1.23v2.46l-2.13 1.23l-2.13 -1.23v-2.46zM425.04 67.83l2.13 1.23v2.46l-2.13 1.23l-2.13 -1.23v-2.46zM429.2 67.83l2.13 1.23v2.46l-2.13 1.23l-2.13 -1.23v-2.46zM427.12 71.44l2.13 1.23v2.46l-2.13 1.23l-2.13 -1.23v-2.46z"/>
<path fill="rgb(132,234,231)" stroke="rgb(132,234,231)" stroke-width="0.3" d="M441.68 38.95l2.13 1.23v2.46l-2.13 1.23l-2.13 -1.23v-2.46zM427.12 85.88l2.13 1.23v2.46l-2.13 1.23l-2.13 -1.23v-2.46zM429.2 89.49l2.13 1.23v2.46l-2.13 1.23l-2.13 -1.23v-2.46zM431.28 93.1l2.13 1.23v2.46l-2.13 1.23l-2.13 -1.23v-2.46zM429.2 96.71l2.13 1.23v2.46l-2.13 1.23l-2.13 -1.23v-2.46zM427.12 100.32l2.13 1.23v2.46l-2.13 1.23l-2.13 -1.23v-2.46zM431.28 100.32l2.13 1.23v2.46l-2.13 1.23l-2.13 -1.23v-2.46zM429.2 103.93l2.13 1.23v2.46l-2.13 1.23l-2.13 -1.23v-2.46zM433.36 103.93l2.13 1.23v2.46l-2.13 1.23l-2.13 -1.23v-2.46zM427.12 107.54l2.13 1.23v2.46l-2.13 1.23l-2.13 -1.23v-2.46zM429.2 111.15l2.13 1.23v2.46l-2.13 1.23l-2.13 -1.23v-2.46zM433.36 111.15l2.13 1.23v2.46l-2.13 1.23l-2.13 -1.23v-2.46zM427.12 114.76l2.13 1.23v2.46l-2.13 1.23l-2.13 -1.23v-2.46zM431.28 114.76l2.13 1.23v2.46l-2.13 1.23l-2.13 -1.23v-2.46zM425.04 118.37l2.13 1.23v2.46l-2.13 1.23l-2.13 -1.23v-2.46zM429.2 118.37l2.13 1.23v2.46l-2.13 1.23l-2.13 -1.23v-2.46zM427.12 121.98l2.13 1.23v2.46l-2.13 1.23l-2.13 -1.23v-2.46zM431.28 121.98l2.13 1.23v2.46l-2.13 1.23l-2.13 -1.23v-2.46zM425.04 125.59l2.13 1.23v2.46l-2.13 1.23l-2.13 -1.23v-2.46zM433.36 125.59l2.13 1.23v2.46l-2.13 1.23l-2.13 -1.23v-2.46z"/>
<path fill="rgb(95,125,250)" stroke="rgb(95,125,250)" stroke-width="0.3" d="M445.84 38.95l2.13 1.23v2.46l-2.13 1.23l-2.13 -1.23v-2.46zM447.92 42.56l2.13 1.23v2.46l-2.13 1.23l-2.13 -1.23v-2.46zM452.08 42.56l2.13 1.23v2.46l-2.13 1.23l-2.13 -1.23v-2.46zM445.84 46.17l2.13 1.23v2.46l-2.13 1.23l-2.13 -1.23v-2.46zM450 46.17l2.13 1.23v2.46l-2.13 1.23l-2.13 -1.23v-2.46zM454.16 46.17l2.13 1.23v2.46l-2.13 1.23l-2.13 -1.23v-2.46zM447.92 49.78l2.13 1.23v2.46l-2.13 1.23l-2.13 -1.23v-2.46zM452.08 49.78l2.13 1.23v2.46l-2.13 1.23l-2.13 -1.23v-2.46zM456.24 49.78l2.13 1.23v2.46l-2.13 1.23l-2.13 -1.23v-2.46zM454.16 53.39l2.13 1.23v2.46l-2.13 1.23l-2.13 -1.23v-2.46zM456.24 57l2.13 1.23v2.46l-2.13 1.23l-2.13 -1.23v-2.46zM460.4 57l2.13 1.23v2.46l-2.13 1.23l-2.13 -1.23v-2.46zM458.32 60.61l2.13 1.23v2.46l-2.13 1.23l-2.13 -1.23v-2.46zM460.4 64.22l2.13 1.23v2.46l-2.13 1.23l-2.13 -1.23v-2.46zM460.4 78.66l2.13 1.23v2.46l-2.13 1.23l-2.13 -1.23v-2.46zM462.48 89.49l2.13 1.23v2.46l-2.13 1.23l-2.13 -1.23v-2.46zM466.64 103.93l2.13 1.23v2.46l-2.13 1.23l-2.13 -1.23v-2.46zM468.72 107.54l2.13 1.23v2.46l-2.13 1.23l-2.13 -1.23v-2.46zM472.88 107.54l2.13 1.23v2.46l-2.13 1.23l-2.13 -1.23v-2.46zM477.04 107.54l2.13 1.23v2.46l-2.13 1.23l-2.13 -1.23v-2.46zM481.2 107.54l2.13 1.23v2.46l-2.13 1.23l-2.13 -1.23v-2.46zM485.36 107.54l2.13 1.23v2.46l-2.13 1.23l-2.13 -1.23v-2.46zM489.52 107.54l2.13 1.23v2.46l-2.13 1.23l-2.13 -1.23v-2.46zM479.12 111.15l2.13 1.23v2.46l-2.13 1.23l-2.13 -1.23v-2.46zM487.44 111.15l2.13 1.23v2.46l-2.13 1.23l-2.13 -1.23v-2.46z"/>
<path fill="rgb(91,115,250)" stroke="rgb(91,115,250)" stroke-width="0.3" d="M450 38.95l2.13 1.23v2.46l-2.13 1.23l-2.13 -1.23v-2.46zM454.16 38.95l2.13 1.23v2.46l-2.13 1.23l-2.13 -1.23v-2.46zM456.24 42.56l2.13 1.23v2.46l-2.13 1.23l-2.13 -1.23v-2.46zM458.32 46.17l2.13 1.23v2.46l-2.13 1.23l-2.13 -1.23v-2.46zM462.48 46.17l2.13 1.23v2.46l-2.13 1.23l-2.13 -1.23v-2.46zM460.4 49.78l2.13 1.23v2.46l-2.13 1.23l-2.13 -1.23v-2.46zM464.56 49.78l2.13 1.23v2.46l-2.13 1.23l-2.13 -1.23v-2.46zM458.32 53.39l2.13 1.23v2.46l-2.13 1.23l-2.13 -1.23v-2.46zM462.48 53.39l2.13 1.23v2.46l-2.13 1.23l-2.13 -1.23v-2.46zM460.4 71.44l2.13 1.23v2.46l-2.13 1.23l-2.13 -1.23v-2.46zM466.64 89.49l2.13 1.23v2.46l-2.13 1.23l-2.13 -1.23v-2.46zM462.48 96.71l2.13 1.23v2.46l-2.13 1.23l-2.13 -1.23v-2.46zM466.64 96.71l2.13 1.23v2.46l-2.13 1.23l-2.13 -1.23v-2.46zM468.72 100.32l2.13 1.23v2.46l-2.13 1.23l-2.13 -1.23v-2.46zM472.88 100.32l2.13 1.23v2.46l-2.13 1.23l-2.13 -1.23v-2.46zM477.04 100.32l2.13 1.23v2.46l-2.13 1.23l-2.13 -1.23v-2.46zM481.2 100.32l2.13 1.23v2.46l-2.13 1.23l-2.13 -1.23v-2.46zM485.36 100.32l2.13 1.23v2.46l-2.13 1.23l-2.13 -1.23v-2.46zM489.52 100.32l2.13 1.23v2.46l-2.13 1.23l-2.13 -1.23v-2.46zM470.8 103.93l2.13 1.23v2.46l-2.13 1.23l-2.13 -1.23v-2.46zM474.96 103.93l2.13 1.23v2.46l-2.13 1.23l-2.13 -1.23v-2.46zM479.12 103.93l2.13 1.23v2.46l-2.13 1.23l-2.13 -1.23v-2.46zM483.28 103.93l2.13 1.23v2.46l-2.13 1.23l-2.13 -1.23v-2.46zM487.44 103.93l2.13 1.23v2.46l-2.13 1.23l-2.13 -1.23v-2.46z"/>
<path fill="rgb(88,106,250)" stroke="rgb(88,106,250)" stroke-width="0.3" d="M458.32 38.95l2.13 1.23v2.46l-2.13 1.23l-2.13 -1.23v-2.46zM462.48 38.95l2.13 1.23v2.46l-2.13 1.23l-2.13 -1.23v-2.46zM460.4 42.56l2.13 1.23v2.46l-2.13 1.23l-2.13 -1.23v-2.46zM462.48 60.61l2.13 1.23v2.46l-2.13 1.23l-2.13 -1.23v-2.46zM466.64 82.27l2.13 1.23v2.46l-2.13 1.23l-2.13 -1.23v-2.46zM470.8 82.27l2.13 1.23v2.46l-2.13 1.23l-2.13 -1.23v-2.46zM468.72 85.88l2.13 1.23v2.46l-2.13 1.23l-2.13 -1.23v-2.46zM472.88 85.88l2.13 1.23v2.46l-2.13 1.23l-2.13 -1.23v-2.46zM470.8 89.49l2.13 1.23v2.46l-2.13 1.23l-2.13 -1.23v-2.46zM474.96 89.49l2.13 1.23v2.46l-2.13 1.23l-2.13 -1.23v-2.46zM479.12 89.49l2.13 1.23v2.46l-2.13 1.23l-2.13 -1.23v-2.46zM460.4 93.1l2.13 1.23v2.46l-2.13 1.23l-2.13 -1.23v-2.46zM464.56 93.1l2.13 1.23v2.46l-2.13 1.23l-2.13 -1.23v-2.46zM468.72 93.1l2.13 1.23v2.46l-2.13 1.23l-2.13 -1.23v-2.46zM472.88 93.1l2.13 1.23v2.46l-2.13 1.23l-2.13 -1.23v-2.46zM477.04 93.1l2.13 1.23v2.46l-2.13 1.23l-2.13 -1.23v-2.46zM481.2 93.1l2.13 1.23v2.46l-2.13 1.23l-2.13 -1.23v-2.46zM485.36 93.1l2.13 1.23v2.46l-2.13 1.23l-2.13 -1.23v-2.46zM470.8 96.71l2.13 1.23v2.46l-2.13 1.23l-2.13 -1.23v-2.46zM474.96 96.71l2.13 1.23v2.46l-2.13 1.23l-2.13 -1.23v-2.46zM479.12 96.71l2.13 1.23v2.46l-2.13 1.23l-2.13 -1.23v-2.46zM483.28 96.71l2.13 1.23v2.46l-2.13 1.23l-2.13 -1.23v-2.46zM487.44 96.71l2.13 1.23v2.46l-2.13 1.23l-2.13 -1.23v-2.46z"/>
<path fill="rgb(80,84,249)" stroke="rgb(80,84,249)" stroke-width="0.3" d="M466.64 38.95l2.13 1.23v2.46l-2.13 1.23l-2.13 -1.23v-2.46zM487.44 38.95l2.13 1.23v2.46l-2.13 1.23l-2.13 -1.23v-2.46zM468.72 42.56l2.13 1.23v2.46l-2.13 1.23l-2.13 -1.23v-2.46zM472.88 42.56l2.13 1.23v2.46l-2.13 1.23l-2.13 -1.23v-2.46zM485.36 42.56l2.13 1.23v2.46l-2.13 1.23l-2.13 -1.23v-2.46zM489.52 42.56l2.13 1.23v2.46l-2.13 1.23l-2.13 -1.23v-2.46zM474.96 46.17l2.13 1.23v2.46l-2.13 1.23l-2.13 -1.23v-2.46zM468.72 49.78l2.13 1.23v2.46l-2.13 1.23l-2.13 -1.23v-2.46zM472.88 49.78l2.13 1.23v2.46l-2.13 1.23l-2.13 -1.23v-2.46zM474.96 53.39l2.13 1.23v2.46l-2.13 1.23l-2.13 -1.23v-2.46zM468.72 57l2.13 1.23v2.46l-2.13 1.23l-2.13 -1.23v-2.46zM474.96 60.61l2.13 1.23v2.46l-2.13 1.23l-2.13 -1.23v-2.46zM477.04 64.22l2.13 1.23v2.46l-2.13 1.23l-2.13 -1.23v-2.46zM466.64 67.83l2.13 1.23v2.46l-2.13 1.23l-2.13 -1.23v-2.46zM474.96 67.83l2.13 1.23v2.46l-2.13 1.23l-2.13 -1.23v-2.46zM477.04 71.44l2.13 1.23v2.46l-2.13 1.23l-2.13 -1.23v-2.46zM485.36 71.44l2.13 1.23v2.46l-2.13 1.23l-2.13 -1.23v-2.46zM477.04 78.66l2.13 1.23v2.46l-2.13 1.23l-2.13 -1.23v-2.46zM485.36 78.66l2.13 1.23v2.46l-2.13 1.23l-2.13 -1.23v-2.46zM483.28 82.27l2.13 1.23v2.46l-2.13 1.23l-2.13 -1.23v-2.46zM487.44 82.27l2.13 1.23v2.46l-2.13 1.23l-2.13 -1.23v-2.46zM489.52 85.88l2.13 1.23v2.46l-2.13 1.23l-2.13 -1.23v-2.46z"/>
<path fill="rgb(79,80,248)" stroke="rgb(79,80,248)" stroke-width="0.3" d="M470.8 38.95l2.13 1.23v2.46l-2.13 1.23l-2.13 -1.23v-2.46zM474.96 38.95l2.13 1.23v2.46l-2.13 1.23l-2.13 -1.23v-2.46zM479.12 38.95l2.13 1.23v2.46l-2.13 1.23l-2.13 -1.23v-2.46zM483.28 38.95l2.13 1.23v2.46l-2.13 1.23l-2.13 -1.23v-2.46zM477.04 42.56l2.13 1.23v2.46l-2.13 1.23l-2.13 -1.23v-2.46zM481.2 42.56l2.13 1.23v2.46l-2.13 1.23l-2.13 -1.23v-2.46zM470.8 46.17l2.13 1.23v2.46l-2.13 1.23l-2.13 -1.23v-2.46zM479.12 46.17l2.13 1.23v2.46l-2.13 1.23l-2.13 -1.23v-2.46zM483.28 46.17l2.13 1.23v2.46l-2.13 1.23l-2.13 -1.23v-2.46zM487.44 46.17l2.13 1.23v2.46l-2.13 1.23l-2.13 -1.23v-2.46zM477.04 49.78l2.13 1.23v2.46l-2.13 1.23l-2.13 -1.23v-2.46zM481.2 49.78l2.13 1.23v2.46l-2.13 1.23l-2.13 -1.23v-2.46zM485.36 49.78l2.13 1.23v2.46l-2.13 1.23l-2.13 -1.23v-2.46zM489.52 49.78l2.13 1.23v2.46l-2.13 1.23l-2.13 -1.23v-2.46zM479.12 53.39l2.13 1.23v2.46l-2.13 1.23l-2.13 -1.23v-2.46zM483.28 53.39l2.13 1.23v2.46l-2.13 1.23l-2.13 -1.23v-2.46zM487.44 53.39l2.13 1.23v2.46l-2.13 1.23l-2.13 -1.23v-2.46zM477.04 57l2.13 1.23v2.46l-2.13 1.23l-2.13 -1.23v-2.46zM481.2 57l2.13 1.23v2.46l-2.13 1.23l-2.13 -1.23v-2.46zM485.36 57l2.13 1.23v2.46l-2.13 1.23l-2.13 -1.23v-2.46zM489.52 57l2.13 1.23v2.46l-2.13 1.23l-2.13 -1.23v-2.46zM479.12 60.61l2.13 1.23v2.46l-2.13 1.23l-2.13 -1.23v-2.46zM483.28 60.61l2.13 1.23v2.46l-2.13 1.23l-2.13 -1.23v-2.46zM487.44 60.61l2.13 1.23v2.46l-2.13 1.23l-2.13 -1.23v-2.46zM481.2 64.22l2.13 1.23v2.46l-2.13 1.23l-2.13 -1.23v-2.46zM485.36 64.22l2.13 1.23v2.46l-2.13 1.23l-2.13 -1.23v-2.46zM489.52 64.22l2.13 1.23v2.46l-2.13 1.23l-2.13 -1.23v-2.46zM479.12 67.83l2.13 1.23v2.46l-2.13 1.23l-2.13 -1.23v-2.46zM483.28 67.83l2.13 1.23v2.46l-2.13 1.23l-2.13 -1.23v-2.46zM487.44 67.83l2.13 1.23v2.46l-2.13 1.23l-2.13 -1.23v-2.46zM481.2 71.44l2.13 1.23v2.46l-2.13 1.23l-2.13 -1.23v-2.46zM489.52 71.44l2.13 1.23v2.46l-2.13 1.23l-2.13 -1.23v-2.46zM479.12 75.05l2.13 1.23v2.46l-2.13 1.23l-2.13 -1.23v-2.46zM483.28 75.05l2.13 1.23v2.46l-2.13 1.23l-2.13 -1.23v-2.46zM487.44 75.05l2.13 1.23v2.46l-2.13 1.23l-2.13 -1.23v-2.46zM481.2 78.66l2.13 1.23v2.46l-2.13 1.23l-2.13 -1.23v-2.46zM489.52 78.66l2.13 1.23v2.46l-2.13 1.23l-2.13 -1.23v-2.46z"/>
<path fill="rgb(235,140,75)" stroke="rgb(235,140,75)" stroke-width="0.3" d="M398 42.56l2.13 1.23v2.46l-2.13 1.23l-2.13 -1.23v-2.46zM383.44 46.17l2.13 1.23v2.46l-2.13 1.23l-2.13 -1.23v-2.46zM387.6 46.17l2.13 1.23v2.46l-2.13 1.23l-2.13 -1.23v-2.46zM395.92 46.17l2.13 1.23v2.46l-2.13 1.23l-2.13 -1.23v-2.46zM381.36 49.78l2.13 1.23v2.46l-2.13 1.23l-2.13 -1.23v-2.46zM385.52 49.78l2.13 1.23v2.46l-2.13 1.23l-2.13 -1.23v-2.46zM389.68 49.78l2.13 1.23v2.46l-2.13 1.23l-2.13 -1.23v-2.46zM393.84 49.78l2.13 1.23v2.46l-2.13 1.23l-2.13 -1.23v-2.46zM398 49.78l2.13 1.23v2.46l-2.13 1.23l-2.13 -1.23v-2.46zM402.16 49.78l2.13 1.23v2.46l-2.13 1.23l-2.13 -1.23v-2.46zM379.28 53.39l2.13 1.23v2.46l-2.13 1.23l-2.13 -1.23v-2.46zM391.76 53.39l2.13 1.23v2.46l-2.13 1.23l-2.13 -1.23v-2.46zM400.08 53.39l2.13 1.23v2.46l-2.13 1.23l-2.13 -1.23v-2.46zM410.48 57l2.13 1.23v2.46l-2.13 1.23l-2.13 -1.23v-2.46zM418.8 64.22l2.13 1.23v2.46l-2.13 1.23l-2.13 -1.23v-2.46zM420.88 67.83l2.13 1.23v2.46l-2.13 1.23l-2.13 -1.23v-2.46z"/>
<path fill="rgb(100,139,250)" stroke="rgb(100,139,250)" stroke-width="0.3" d="M443.76 42.56l2.13 1.23v2.46l-2.13 1.23l-2.13 -1.23v-2.46zM443.76 49.78l2.13 1.23v2.46l-2.13 1.23l-2.13 -1.23v-2.46zM441.68 53.39l2.13 1.23v2.46l-2.13 1.23l-2.13 -1.23v-2.46zM445.84 53.39l2.13 1.23v2.46l-2.13 1.23l-2.13 -1.23v-2.46zM450 53.39l2.13 1.23v2.46l-2.13 1.23l-2.13 -1.23v-2.46zM443.76 57l2.13 1.23v2.46l-2.13 1.23l-2.13 -1.23v-2.46zM447.92 57l2.13 1.23v2.46l-2.13 1.23l-2.13 -1.23v-2.46zM452.08 57l2.13 1.23v2.46l-2.13 1.23l-2.13 -1.23v-2.46zM441.68 60.61l2.13 1.23v2.46l-2.13 1.23l-2.13 -1.23v-2.46zM450 60.61l2.13 1.23v2.46l-2.13 1.23l-2.13 -1.23v-2.46zM454.16 60.61l2.13 1.23v2.46l-2.13 1.23l-2.13 -1.23v-2.46zM458.32 67.83l2.13 1.23v2.46l-2.13 1.23l-2.13 -1.23v-2.46zM462.48 82.27l2.13 1.23v2.46l-2.13 1.23l-2.13 -1.23v-2.46zM458.32 89.49l2.13 1.23v2.46l-2.13 1.23l-2.13 -1.23v-2.46zM458.32 96.71l2.13 1.23v2.46l-2.13 1.23l-2.13 -1.23v-2.46zM460.4 100.32l2.13 1.23v2.46l-2.13 1.23l-2.13 -1.23v-2.46zM464.56 100.32l2.13 1.23v2.46l-2.13 1.23l-2.13 -1.23v-2.46zM462.48 103.93l2.13 1.23v2.46l-2.13 1.23l-2.13 -1.23v-2.46zM464.56 107.54l2.13 1.23v2.46l-2.13 1.23l-2.13 -1.23v-2.46zM470.8 111.15l2.13 1.23v2.46l-2.13 1.23l-2.13 -1.23v-2.46zM474.96 111.15l2.13 1.23v2.46l-2.13 1.23l-2.13 -1.23v-2.46zM483.28 111.15l2.13 1.23v2.46l-2.13 1.23l-2.13 -1.23v-2.46zM468.72 114.76l2.13 1.23v2.46l-2.13 1.23l-2.13 -1.23v-2.46zM472.88 114.76l2.13 1.23v2.46l-2.13 1.23l-2.13 -1.23v-2.46zM477.04 114.76l2.13 1.23v2.46l-2.13 1.23l-2.13 -1.23v-2.46zM481.2 114.76l2.13 1.23v2.46l-2.13 1.23l-2.13 -1.23v-2.46zM485.36 114.76l2.13 1.23v2.46l-2.13 1.23l-2.13 -1.23v-2.46zM489.52 114.76l2.13 1.23v2.46l-2.13 1.23l-2.13 -1.23v-2.46zM470.8 118.37l2.13 1.23v2.46l-2.13 1.23l-2.13 -1.23v-2.46zM474.96 118.37l2.13 1.23v2.46l-2.13 1.23l-2.13 -1.23v-2.46zM479.12 118.37l2.13 1.23v2.46l-2.13 1.23l-2.13 -1.23v-2.46zM483.28 118.37l2.13 1.23v2.46l-2.13 1.23l-2.13 -1.23v-2.46zM487.44 118.37l2.13 1.23v2.46l-2.13 1.23l-2.13 -1.23v-2.46zM472.88 121.98l2.13 1.23v2.46l-2.13 1.23l-2.13 -1.23v-2.46zM477.04 121.98l2.13 1.23v2.46l-2.13 1.23l-2.13 -1.23v-2.46zM481.2 121.98l2.13 1.23v2.46l-2.13 1.23l-2.13 -1.23v-2.46zM485.36 121.98l2.13 1.23v2.46l-2.13 1.23l-2.13 -1.23v-2.46zM489.52 121.98l2.13 1.23v2.46l-2.13 1.23l-2.13 -1.23v-2.46zM470.8 125.59l2.13 1.23v2.46l-2.13 1.23l-2.13 -1.23v-2.46zM474.96 125.59l2.13 1.23v2.46l-2.13 1.23l-2.13 -1.23v-2.46zM479.12 125.59l2.13 1.23v2.46l-2.13 1.23l-2.13 -1.23v-2.46zM483.28 125.59l2.13 1.23v2.46l-2.13 1.23l-2.13 -1.23v-2.46zM487.44 125.59l2.13 1.23v2.46l-2.13 1.23l-2.13 -1.23v-2.46z"/>
<path fill="rgb(83,92,250)" stroke="rgb(83,92,250)" stroke-width="0.3" d="M464.56 42.56l2.13 1.23v2.46l-2.13 1.23l-2.13 -1.23v-2.46zM466.64 53.39l2.13 1.23v2.46l-2.13 1.23l-2.13 -1.23v-2.46zM462.48 67.83l2.13 1.23v2.46l-2.13 1.23l-2.13 -1.23v-2.46zM464.56 71.44l2.13 1.23v2.46l-2.13 1.23l-2.13 -1.23v-2.46zM470.8 75.05l2.13 1.23v2.46l-2.13 1.23l-2.13 -1.23v-2.46zM468.72 78.66l2.13 1.23v2.46l-2.13 1.23l-2.13 -1.23v-2.46zM472.88 78.66l2.13 1.23v2.46l-2.13 1.23l-2.13 -1.23v-2.46zM481.2 85.88l2.13 1.23v2.46l-2.13 1.23l-2.13 -1.23v-2.46zM487.44 89.49l2.13 1.23v2.46l-2.13 1.23l-2.13 -1.23v-2.46z"/>
<path fill="rgb(237,153,77)" stroke="rgb(237,153,77)" stroke-width="0.3" d="M400.08 46.17l2.13 1.23v2.46l-2.13 1.23l-2.13 -1.23v-2.46zM383.44 53.39l2.13 1.23v2.46l-2.13 1.23l-2.13 -1.23v-2.46zM387.6 53.39l2.13 1.23v2.46l-2.13 1.23l-2.13 -1.23v-2.46zM395.92 53.39l2.13 1.23v2.46l-2.13 1.23l-2.13 -1.23v-2.46zM404.24 53.39l2.13 1.23v2.46l-2.13 1.23l-2.13 -1.23v-2.46zM408.4 53.39l2.13 1.23v2.46l-2.13 1.23l-2.13 -1.23v-2.46zM406.32 57l2.13 1.23v2.46l-2.13 1.23l-2.13 -1.23v-2.46zM414.64 57l2.13 1.23v2.46l-2.13 1.23l-2.13 -1.23v-2.46zM412.56 60.61l2.13 1.23v2.46l-2.13 1.23l-2.13 -1.23v-2.46zM416.72 60.61l2.13 1.23v2.46l-2.13 1.23l-2.13 -1.23v-2.46z"/>
<path fill="rgb(240,180,80)" stroke="rgb(240,180,80)" stroke-width="0.3" d="M441.68 46.17l2.13 1.23v2.46l-2.13 1.23l-2.13 -1.23v-2.46zM381.36 57l2.13 1.23v2.46l-2.13 1.23l-2.13 -1.23v-2.46zM385.52 57l2.13 1.23v2.46l-2.13 1.23l-2.13 -1.23v-2.46zM389.68 57l2.13 1.23v2.46l-2.13 1.23l-2.13 -1.23v-2.46zM393.84 57l2.13 1.23v2.46l-2.13 1.23l-2.13 -1.23v-2.46zM379.28 60.61l2.13 1.23v2.46l-2.13 1.23l-2.13 -1.23v-2.46zM383.44 60.61l2.13 1.23v2.46l-2.13 1.23l-2.13 -1.23v-2.46zM387.6 60.61l2.13 1.23v2.46l-2.13 1.23l-2.13 -1.23v-2.46zM391.76 60.61l2.13 1.23v2.46l-2.13 1.23l-2.13 -1.23v-2.46zM395.92 60.61l2.13 1.23v2.46l-2.13 1.23l-2.13 -1.23v-2.46zM400.08 60.61l2.13 1.23v2.46l-2.13 1.23l-2.13 -1.23v-2.46zM404.24 60.61l2.13 1.23v2.46l-2.13 1.23l-2.13 -1.23v-2.46zM406.32 64.22l2.13 1.23v2.46l-2.13 1.23l-2.13 -1.23v-2.46zM412.56 67.83l2.13 1.23v2.46l-2.13 1.23l-2.13 -1.23v-2.46z"/>
<path fill="rgb(82,88,249)" stroke="rgb(82,88,249)" stroke-width="0.3" d="M466.64 46.17l2.13 1.23v2.46l-2.13 1.23l-2.13 -1.23v-2.46zM470.8 53.39l2.13 1.23v2.46l-2.13 1.23l-2.13 -1.23v-2.46zM464.56 57l2.13 1.23v2.46l-2.13 1.23l-2.13 -1.23v-2.46zM472.88 57l2.13 1.23v2.46l-2.13 1.23l-2.13 -1.23v-2.46zM466.64 60.61l2.13 1.23v2.46l-2.13 1.23l-2.13 -1.23v-2.46zM470.8 60.61l2.13 1.23v2.46l-2.13 1.23l-2.13 -1.23v-2.46zM464.56 64.22l2.13 1.23v2.46l-2.13 1.23l-2.13 -1.23v-2.46zM468.72 64.22l2.13 1.23v2.46l-2.13 1.23l-2.13 -1.23v-2.46zM472.88 64.22l2.13 1.23v2.46l-2.13 1.23l-2.13 -1.23v-2.46zM470.8 67.83l2.13 1.23v2.46l-2.13 1.23l-2.13 -1.23v-2.46zM468.72 71.44l2.13 1.23v2.46l-2.13 1.23l-2.13 -1.23v-2.46zM472.88 71.44l2.13 1.23v2.46l-2.13 1.23l-2.13 -1.23v-2.46zM466.64 75.05l2.13 1.23v2.46l-2.13 1.23l-2.13 -1.23v-2.46zM474.96 75.05l2.13 1.23v2.46l-2.13 1.23l-2.13 -1.23v-2.46zM464.56 78.66l2.13 1.23v2.46l-2.13 1.23l-2.13 -1.23v-2.46zM479.12 82.27l2.13 1.23v2.46l-2.13 1.23l-2.13 -1.23v-2.46zM485.36 85.88l2.13 1.23v2.46l-2.13 1.23l-2.13 -1.23v-2.46z"/>
<path fill="rgb(238,167,78)" stroke="rgb(238,167,78)" stroke-width="0.3" d="M398 57l2.13 1.23v2.46l-2.13 1.23l-2.13 -1.23v-2.46zM402.16 57l2.13 1.23v2.46l-2.13 1.23l-2.13 -1.23v-2.46zM408.4 60.61l2.13 1.23v2.46l-2.13 1.23l-2.13 -1.23v-2.46zM410.48 64.22l2.13 1.23v2.46l-2.13 1.23l-2.13 -1.23v-2.46zM414.64 64.22l2.13 1.23v2.46l-2.13 1.23l-2.13 -1.23v-2.46zM416.72 67.83l2.13 1.23v2.46l-2.13 1.23l-2.13 -1.23v-2.46zM418.8 71.44l2.13 1.23v2.46l-2.13 1.23l-2.13 -1.23v-2.46z"/>
<path fill="rgb(162,243,92)" stroke="rgb(162,243,92)" stroke-width="0.3" d="M439.6 57l2.13 1.23v2.46l-2.13 1.23l-2.13 -1.23v-2.46zM412.56 82.27l2.13 1.23v2.46l-2.13 1.23l-2.13 -1.23v-2.46zM416.72 82.27l2.13 1.23v2.46l-2.13 1.23l-2.13 -1.23v-2.46zM410.48 85.88l2.13 1.23v2.46l-2.13 1.23l-2.13 -1.23v-2.46zM414.64 85.88l2.13 1.23v2.46l-2.13 1.23l-2.13 -1.23v-2.46zM400.08 89.49l2.13 1.23v2.46l-2.13 1.23l-2.13 -1.23v-2.46zM404.24 89.49l2.13 1.23v2.46l-2.13 1.23l-2.13 -1.23v-2.46zM402.16 93.1l2.13 1.23v2.46l-2.13 1.23l-2.13 -1.23v-2.46zM400.08 96.71l2.13 1.23v2.46l-2.13 1.23l-2.13 -1.23v-2.46zM398 100.32l2.13 1.23v2.46l-2.13 1.23l-2.13 -1.23v-2.46zM402.16 100.32l2.13 1.23v2.46l-2.13 1.23l-2.13 -1.23v-2.46zM387.6 103.93l2.13 1.23v2.46l-2.13 1.23l-2.13 -1.23v-2.46zM391.76 103.93l2.13 1.23v2.46l-2.13 1.23l-2.13 -1.23v-2.46zM395.92 103.93l2.13 1.23v2.46l-2.13 1.23l-2.13 -1.23v-2.46zM385.52 107.54l2.13 1.23v2.46l-2.13 1.23l-2.13 -1.23v-2.46zM389.68 107.54l2.13 1.23v2.46l-2.13 1.23l-2.13 -1.23v-2.46zM393.84 107.54l2.13 1.23v2.46l-2.13 1.23l-2.13 -1.23v-2.46zM383.44 111.15l2.13 1.23v2.46l-2.13 1.23l-2.13 -1.23v-2.46zM387.6 111.15l2.13 1.23v2.46l-2.13 1.23l-2.13 -1.23v-2.46zM391.76 111.15l2.13 1.23v2.46l-2.13 1.23l-2.13 -1.23v-2.46zM381.36 114.76l2.13 1.23v2.46l-2.13 1.23l-2.13 -1.23v-2.46zM385.52 114.76l2.13 1.23v2.46l-2.13 1.23l-2.13 -1.23v-2.46zM379.28 118.37l2.13 1.23v2.46l-2.13 1.23l-2.13 -1.23v-2.46zM383.44 118.37l2.13 1.23v2.46l-2.13 1.23l-2.13 -1.23v-2.46zM381.36 121.98l2.13 1.23v2.46l-2.13 1.23l-2.13 -1.23v-2.46z"/>
<path fill="rgb(105,154,250)" stroke="rgb(105,154,250)" stroke-width="0.3" d="M437.52 60.61l2.13 1.23v2.46l-2.13 1.23l-2.13 -1.23v-2.46zM445.84 60.61l2.13 1.23v2.46l-2.13 1.23l-2.13 -1.23v-2.46zM439.6 64.22l2.13 1.23v2.46l-2.13 1.23l-2.13 -1.23v-2.46zM443.76 64.22l2.13 1.23v2.46l-2.13 1.23l-2.13 -1.23v-2.46zM447.92 64.22l2.13 1.23v2.46l-2.13 1.23l-2.13 -1.23v-2.46zM452.08 64.22l2.13 1.23v2.46l-2.13 1.23l-2.13 -1.23v-2.46zM456.24 64.22l2.13 1.23v2.46l-2.13 1.23l-2.13 -1.23v-2.46zM450 67.83l2.13 1.23v2.46l-2.13 1.23l-2.13 -1.23v-2.46zM454.16 67.83l2.13 1.23v2.46l-2.13 1.23l-2.13 -1.23v-2.46zM452.08 71.44l2.13 1.23v2.46l-2.13 1.23l-2.13 -1.23v-2.46zM456.24 71.44l2.13 1.23v2.46l-2.13 1.23l-2.13 -1.23v-2.46zM458.32 82.27l2.13 1.23v2.46l-2.13 1.23l-2.13 -1.23v-2.46zM460.4 85.88l2.13 1.23v2.46l-2.13 1.23l-2.13 -1.23v-2.46zM464.56 85.88l2.13 1.23v2.46l-2.13 1.23l-2.13 -1.23v-2.46zM458.32 103.93l2.13 1.23v2.46l-2.13 1.23l-2.13 -1.23v-2.46zM460.4 107.54l2.13 1.23v2.46l-2.13 1.23l-2.13 -1.23v-2.46zM466.64 111.15l2.13 1.23v2.46l-2.13 1.23l-2.13 -1.23v-2.46zM466.64 118.37l2.13 1.23v2.46l-2.13 1.23l-2.13 -1.23v-2.46zM468.72 121.98l2.13 1.23v2.46l-2.13 1.23l-2.13 -1.23v-2.46z"/>
<path fill="rgb(245,210,85)" stroke="rgb(245,210,85)" stroke-width="0.3" d="M381.36 64.22l2.13 1.23v2.46l-2.13 1.23l-2.13 -1.23v-2.46zM379.28 67.83l2.13 1.23v2.46l-2.13 1.23l-2.13 -1.23v-2.46zM383.44 67.83l2.13 1.23v2.46l-2.13 1.23l-2.13 -1.23v-2.46zM387.6 67.83l2.13 1.23v2.46l-2.13 1.23l-2.13 -1.23v-2.46zM395.92 67.83l2.13 1.23v2.46l-2.13 1.23l-2.13 -1.23v-2.46zM404.24 67.83l2.13 1.23v2.46l-2.13 1.23l-2.13 -1.23v-2.46zM408.4 67.83l2.13 1.23v2.46l-2.13 1.23l-2.13 -1.23v-2.46zM414.64 71.44l2.13 1.23v2.46l-2.13 1.23l-2.13 -1.23v-2.46z"/>
<path fill="rgb(242,195,82)" stroke="rgb(242,195,82)" stroke-width="0.3" d="M385.52 64.22l2.13 1.23v2.46l-2.13 1.23l-2.13 -1.23v-2.46zM389.68 64.22l2.13 1.23v2.46l-2.13 1.23l-2.13 -1.23v-2.46zM393.84 64.22l2.13 1.23v2.46l-2.13 1.23l-2.13 -1.23v-2.46zM398 64.22l2.13 1.23v2.46l-2.13 1.23l-2.13 -1.23v-2.46zM402.16 64.22l2.13 1.23v2.46l-2.13 1.23l-2.13 -1.23v-2.46zM391.76 67.83l2.13 1.23v2.46l-2.13 1.23l-2.13 -1.23v-2.46zM422.96 71.44l2.13 1.23v2.46l-2.13 1.23l-2.13 -1.23v-2.46z"/>
<path fill="rgb(110,168,250)" stroke="rgb(110,168,250)" stroke-width="0.3" d="M435.44 64.22l2.13 1.23v2.46l-2.13 1.23l-2.13 -1.23v-2.46zM433.36 67.83l2.13 1.23v2.46l-2.13 1.23l-2.13 -1.23v-2.46zM437.52 67.83l2.13 1.23v2.46l-2.13 1.23l-2.13 -1.23v-2.46zM441.68 67.83l2.13 1.23v2.46l-2.13 1.23l-2.13 -1.23v-2.46zM445.84 67.83l2.13 1.23v2.46l-2.13 1.23l-2.13 -1.23v-2.46zM447.92 71.44l2.13 1.23v2.46l-2.13 1.23l-2.13 -1.23v-2.46zM450 75.05l2.13 1.23v2.46l-2.13 1.23l-2.13 -1.23v-2.46zM454.16 75.05l2.13 1.23v2.46l-2.13 1.23l-2.13 -1.23v-2.46zM458.32 75.05l2.13 1.23v2.46l-2.13 1.23l-2.13 -1.23v-2.46zM456.24 78.66l2.13 1.23v2.46l-2.13 1.23l-2.13 -1.23v-2.46zM456.24 85.88l2.13 1.23v2.46l-2.13 1.23l-2.13 -1.23v-2.46zM456.24 93.1l2.13 1.23v2.46l-2.13 1.23l-2.13 -1.23v-2.46zM456.24 100.32l2.13 1.23v2.46l-2.13 1.23l-2.13 -1.23v-2.46zM458.32 111.15l2.13 1.23v2.46l-2.13 1.23l-2.13 -1.23v-2.46zM462.48 111.15l2.13 1.23v2.46l-2.13 1.23l-2.13 -1.23v-2.46zM460.4 114.76l2.13 1.23v2.46l-2.13 1.23l-2.13 -1.23v-2.46zM464.56 114.76l2.13 1.23v2.46l-2.13 1.23l-2.13 -1.23v-2.46zM462.48 118.37l2.13 1.23v2.46l-2.13 1.23l-2.13 -1.23v-2.46zM460.4 121.98l2.13 1.23v2.46l-2.13 1.23l-2.13 -1.23v-2.46zM464.56 121.98l2.13 1.23v2.46l-2.13 1.23l-2.13 -1.23v-2.46zM462.48 125.59l2.13 1.23v2.46l-2.13 1.23l-2.13 -1.23v-2.46zM466.64 125.59l2.13 1.23v2.46l-2.13 1.23l-2.13 -1.23v-2.46z"/>
<path fill="rgb(247,222,87)" stroke="rgb(247,222,87)" stroke-width="0.3" d="M400.08 67.83l2.13 1.23v2.46l-2.13 1.23l-2.13 -1.23v-2.46zM393.84 71.44l2.13 1.23v2.46l-2.13 1.23l-2.13 -1.23v-2.46zM406.32 71.44l2.13 1.23v2.46l-2.13 1.23l-2.13 -1.23v-2.46z"/>
<path fill="rgb(248,233,88)" stroke="rgb(248,233,88)" stroke-width="0.3" d="M381.36 71.44l2.13 1.23v2.46l-2.13 1.23l-2.13 -1.23v-2.46zM385.52 71.44l2.13 1.23v2.46l-2.13 1.23l-2.13 -1.23v-2.46zM389.68 71.44l2.13 1.23v2.46l-2.13 1.23l-2.13 -1.23v-2.46zM410.48 71.44l2.13 1.23v2.46l-2.13 1.23l-2.13 -1.23v-2.46zM379.28 75.05l2.13 1.23v2.46l-2.13 1.23l-2.13 -1.23v-2.46zM383.44 75.05l2.13 1.23v2.46l-2.13 1.23l-2.13 -1.23v-2.46z"/>
<path fill="rgb(250,245,90)" stroke="rgb(250,245,90)" stroke-width="0.3" d="M398 71.44l2.13 1.23v2.46l-2.13 1.23l-2.13 -1.23v-2.46zM402.16 71.44l2.13 1.23v2.46l-2.13 1.23l-2.13 -1.23v-2.46zM387.6 75.05l2.13 1.23v2.46l-2.13 1.23l-2.13 -1.23v-2.46zM391.76 75.05l2.13 1.23v2.46l-2.13 1.23l-2.13 -1.23v-2.46zM395.92 75.05l2.13 1.23v2.46l-2.13 1.23l-2.13 -1.23v-2.46zM381.36 78.66l2.13 1.23v2.46l-2.13 1.23l-2.13 -1.23v-2.46zM385.52 78.66l2.13 1.23v2.46l-2.13 1.23l-2.13 -1.23v-2.46zM389.68 78.66l2.13 1.23v2.46l-2.13 1.23l-2.13 -1.23v-2.46zM393.84 78.66l2.13 1.23v2.46l-2.13 1.23l-2.13 -1.23v-2.46zM379.28 82.27l2.13 1.23v2.46l-2.13 1.23l-2.13 -1.23v-2.46zM383.44 82.27l2.13 1.23v2.46l-2.13 1.23l-2.13 -1.23v-2.46zM391.76 82.27l2.13 1.23v2.46l-2.13 1.23l-2.13 -1.23v-2.46z"/>
<path fill="rgb(117,189,250)" stroke="rgb(117,189,250)" stroke-width="0.3" d="M431.28 71.44l2.13 1.23v2.46l-2.13 1.23l-2.13 -1.23v-2.46zM435.44 71.44l2.13 1.23v2.46l-2.13 1.23l-2.13 -1.23v-2.46zM433.36 75.05l2.13 1.23v2.46l-2.13 1.23l-2.13 -1.23v-2.46zM437.52 75.05l2.13 1.23v2.46l-2.13 1.23l-2.13 -1.23v-2.46zM439.6 78.66l2.13 1.23v2.46l-2.13 1.23l-2.13 -1.23v-2.46zM450 82.27l2.13 1.23v2.46l-2.13 1.23l-2.13 -1.23v-2.46zM454.16 82.27l2.13 1.23v2.46l-2.13 1.23l-2.13 -1.23v-2.46zM447.92 85.88l2.13 1.23v2.46l-2.13 1.23l-2.13 -1.23v-2.46zM452.08 85.88l2.13 1.23v2.46l-2.13 1.23l-2.13 -1.23v-2.46zM450 89.49l2.13 1.23v2.46l-2.13 1.23l-2.13 -1.23v-2.46zM452.08 93.1l2.13 1.23v2.46l-2.13 1.23l-2.13 -1.23v-2.46zM450 96.71l2.13 1.23v2.46l-2.13 1.23l-2.13 -1.23v-2.46zM454.16 96.71l2.13 1.23v2.46l-2.13 1.23l-2.13 -1.23v-2.46zM452.08 100.32l2.13 1.23v2.46l-2.13 1.23l-2.13 -1.23v-2.46zM450 103.93l2.13 1.23v2.46l-2.13 1.23l-2.13 -1.23v-2.46zM454.16 103.93l2.13 1.23v2.46l-2.13 1.23l-2.13 -1.23v-2.46zM452.08 107.54l2.13 1.23v2.46l-2.13 1.23l-2.13 -1.23v-2.46zM450 111.15l2.13 1.23v2.46l-2.13 1.23l-2.13 -1.23v-2.46zM454.16 111.15l2.13 1.23v2.46l-2.13 1.23l-2.13 -1.23v-2.46zM452.08 114.76l2.13 1.23v2.46l-2.13 1.23l-2.13 -1.23v-2.46zM456.24 114.76l2.13 1.23v2.46l-2.13 1.23l-2.13 -1.23v-2.46zM454.16 118.37l2.13 1.23v2.46l-2.13 1.23l-2.13 -1.23v-2.46zM452.08 121.98l2.13 1.23v2.46l-2.13 1.23l-2.13 -1.23v-2.46zM456.24 121.98l2.13 1.23v2.46l-2.13 1.23l-2.13 -1.23v-2.46zM450 125.59l2.13 1.23v2.46l-2.13 1.23l-2.13 -1.23v-2.46zM454.16 125.59l2.13 1.23v2.46l-2.13 1.23l-2.13 -1.23v-2.46z"/>
<path fill="rgb(113,179,250)" stroke="rgb(113,179,250)" stroke-width="0.3" d="M439.6 71.44l2.13 1.23v2.46l-2.13 1.23l-2.13 -1.23v-2.46zM443.76 71.44l2.13 1.23v2.46l-2.13 1.23l-2.13 -1.23v-2.46zM441.68 75.05l2.13 1.23v2.46l-2.13 1.23l-2.13 -1.23v-2.46zM445.84 75.05l2.13 1.23v2.46l-2.13 1.23l-2.13 -1.23v-2.46zM443.76 78.66l2.13 1.23v2.46l-2.13 1.23l-2.13 -1.23v-2.46zM447.92 78.66l2.13 1.23v2.46l-2.13 1.23l-2.13 -1.23v-2.46zM452.08 78.66l2.13 1.23v2.46l-2.13 1.23l-2.13 -1.23v-2.46zM454.16 89.49l2.13 1.23v2.46l-2.13 1.23l-2.13 -1.23v-2.46zM456.24 107.54l2.13 1.23v2.46l-2.13 1.23l-2.13 -1.23v-2.46zM458.32 118.37l2.13 1.23v2.46l-2.13 1.23l-2.13 -1.23v-2.46zM458.32 125.59l2.13 1.23v2.46l-2.13 1.23l-2.13 -1.23v-2.46z"/>
<path fill="rgb(235,245,88)" stroke="rgb(235,245,88)" stroke-width="0.3" d="M400.08 75.05l2.13 1.23v2.46l-2.13 1.23l-2.13 -1.23v-2.46zM404.24 75.05l2.13 1.23v2.46l-2.13 1.23l-2.13 -1.23v-2.46zM387.6 82.27l2.13 1.23v2.46l-2.13 1.23l-2.13 -1.23v-2.46zM395.92 82.27l2.13 1.23v2.46l-2.13 1.23l-2.13 -1.23v-2.46zM381.36 85.88l2.13 1.23v2.46l-2.13 1.23l-2.13 -1.23v-2.46zM389.68 85.88l2.13 1.23v2.46l-2.13 1.23l-2.13 -1.23v-2.46z"/>
<path fill="rgb(208,245,85)" stroke="rgb(208,245,85)" stroke-width="0.3" d="M408.4 75.05l2.13 1.23v2.46l-2.13 1.23l-2.13 -1.23v-2.46zM406.32 78.66l2.13 1.23v2.46l-2.13 1.23l-2.13 -1.23v-2.46zM387.6 89.49l2.13 1.23v2.46l-2.13 1.23l-2.13 -1.23v-2.46zM391.76 89.49l2.13 1.23v2.46l-2.13 1.23l-2.13 -1.23v-2.46zM381.36 93.1l2.13 1.23v2.46l-2.13 1.23l-2.13 -1.23v-2.46z"/>
<path fill="rgb(220,245,85)" stroke="rgb(220,245,85)" stroke-width="0.3" d="M412.56 75.05l2.13 1.23v2.46l-2.13 1.23l-2.13 -1.23v-2.46zM416.72 75.05l2.13 1.23v2.46l-2.13 1.23l-2.13 -1.23v-2.46zM398 78.66l2.13 1.23v2.46l-2.13 1.23l-2.13 -1.23v-2.46zM385.52 85.88l2.13 1.23v2.46l-2.13 1.23l-2.13 -1.23v-2.46zM393.84 85.88l2.13 1.23v2.46l-2.13 1.23l-2.13 -1.23v-2.46zM379.28 89.49l2.13 1.23v2.46l-2.13 1.23l-2.13 -1.23v-2.46zM383.44 89.49l2.13 1.23v2.46l-2.13 1.23l-2.13 -1.23v-2.46z"/>
<path fill="rgb(185,245,85)" stroke="rgb(185,245,85)" stroke-width="0.3" d="M420.88 75.05l2.13 1.23v2.46l-2.13 1.23l-2.13 -1.23v-2.46zM400.08 82.27l2.13 1.23v2.46l-2.13 1.23l-2.13 -1.23v-2.46zM404.24 82.27l2.13 1.23v2.46l-2.13 1.23l-2.13 -1.23v-2.46zM402.16 85.88l2.13 1.23v2.46l-2.13 1.23l-2.13 -1.23v-2.46zM379.28 96.71l2.13 1.23v2.46l-2.13 1.23l-2.13 -1.23v-2.46zM383.44 96.71l2.13 1.23v2.46l-2.13 1.23l-2.13 -1.23v-2.46zM381.36 100.32l2.13 1.23v2.46l-2.13 1.23l-2.13 -1.23v-2.46z"/>
<path fill="rgb(197,245,85)" stroke="rgb(197,245,85)" stroke-width="0.3" d="M425.04 75.05l2.13 1.23v2.46l-2.13 1.23l-2.13 -1.23v-2.46zM429.2 75.05l2.13 1.23v2.46l-2.13 1.23l-2.13 -1.23v-2.46zM402.16 78.66l2.13 1.23v2.46l-2.13 1.23l-2.13 -1.23v-2.46zM410.48 78.66l2.13 1.23v2.46l-2.13 1.23l-2.13 -1.23v-2.46zM414.64 78.66l2.13 1.23v2.46l-2.13 1.23l-2.13 -1.23v-2.46zM398 85.88l2.13 1.23v2.46l-2.13 1.23l-2.13 -1.23v-2.46zM395.92 89.49l2.13 1.23v2.46l-2.13 1.23l-2.13 -1.23v-2.46zM385.52 93.1l2.13 1.23v2.46l-2.13 1.23l-2.13 -1.23v-2.46zM389.68 93.1l2.13 1.23v2.46l-2.13 1.23l-2.13 -1.23v-2.46zM393.84 93.1l2.13 1.23v2.46l-2.13 1.23l-2.13 -1.23v-2.46z"/>
<path fill="rgb(84,96,250)" stroke="rgb(84,96,250)" stroke-width="0.3" d="M462.48 75.05l2.13 1.23v2.46l-2.13 1.23l-2.13 -1.23v-2.46zM474.96 82.27l2.13 1.23v2.46l-2.13 1.23l-2.13 -1.23v-2.46zM477.04 85.88l2.13 1.23v2.46l-2.13 1.23l-2.13 -1.23v-2.46zM483.28 89.49l2.13 1.23v2.46l-2.13 1.23l-2.13 -1.23v-2.46zM489.52 93.1l2.13 1.23v2.46l-2.13 1.23l-2.13 -1.23v-2.46z"/>
<path fill="rgb(173,244,88)" stroke="rgb(173,244,88)" stroke-width="0.3" d="M418.8 78.66l2.13 1.23v2.46l-2.13 1.23l-2.13 -1.23v-2.46zM408.4 82.27l2.13 1.23v2.46l-2.13 1.23l-2.13 -1.23v-2.46zM406.32 85.88l2.13 1.23v2.46l-2.13 1.23l-2.13 -1.23v-2.46zM398 93.1l2.13 1.23v2.46l-2.13 1.23l-2.13 -1.23v-2.46zM387.6 96.71l2.13 1.23v2.46l-2.13 1.23l-2.13 -1.23v-2.46zM391.76 96.71l2.13 1.23v2.46l-2.13 1.23l-2.13 -1.23v-2.46zM395.92 96.71l2.13 1.23v2.46l-2.13 1.23l-2.13 -1.23v-2.46zM385.52 100.32l2.13 1.23v2.46l-2.13 1.23l-2.13 -1.23v-2.46zM389.68 100.32l2.13 1.23v2.46l-2.13 1.23l-2.13 -1.23v-2.46zM393.84 100.32l2.13 1.23v2.46l-2.13 1.23l-2.13 -1.23v-2.46zM379.28 103.93l2.13 1.23v2.46l-2.13 1.23l-2.13 -1.23v-2.46zM383.44 103.93l2.13 1.23v2.46l-2.13 1.23l-2.13 -1.23v-2.46zM381.36 107.54l2.13 1.23v2.46l-2.13 1.23l-2.13 -1.23v-2.46zM379.28 111.15l2.13 1.23v2.46l-2.13 1.23l-2.13 -1.23v-2.46z"/>
<path fill="rgb(148,242,119)" stroke="rgb(148,242,119)" stroke-width="0.3" d="M422.96 78.66l2.13 1.23v2.46l-2.13 1.23l-2.13 -1.23v-2.46zM414.64 93.1l2.13 1.23v2.46l-2.13 1.23l-2.13 -1.23v-2.46zM404.24 103.93l2.13 1.23v2.46l-2.13 1.23l-2.13 -1.23v-2.46zM398 107.54l2.13 1.23v2.46l-2.13 1.23l-2.13 -1.23v-2.46zM402.16 107.54l2.13 1.23v2.46l-2.13 1.23l-2.13 -1.23v-2.46zM395.92 111.15l2.13 1.23v2.46l-2.13 1.23l-2.13 -1.23v-2.46zM400.08 111.15l2.13 1.23v2.46l-2.13 1.23l-2.13 -1.23v-2.46zM395.92 118.37l2.13 1.23v2.46l-2.13 1.23l-2.13 -1.23v-2.46zM398 121.98l2.13 1.23v2.46l-2.13 1.23l-2.13 -1.23v-2.46z"/>
<path fill="rgb(150,242,95)" stroke="rgb(150,242,95)" stroke-width="0.3" d="M427.12 78.66l2.13 1.23v2.46l-2.13 1.23l-2.13 -1.23v-2.46zM408.4 89.49l2.13 1.23v2.46l-2.13 1.23l-2.13 -1.23v-2.46zM412.56 89.49l2.13 1.23v2.46l-2.13 1.23l-2.13 -1.23v-2.46zM406.32 93.1l2.13 1.23v2.46l-2.13 1.23l-2.13 -1.23v-2.46zM410.48 93.1l2.13 1.23v2.46l-2.13 1.23l-2.13 -1.23v-2.46zM404.24 96.71l2.13 1.23v2.46l-2.13 1.23l-2.13 -1.23v-2.46zM400.08 103.93l2.13 1.23v2.46l-2.13 1.23l-2.13 -1.23v-2.46zM389.68 114.76l2.13 1.23v2.46l-2.13 1.23l-2.13 -1.23v-2.46zM393.84 114.76l2.13 1.23v2.46l-2.13 1.23l-2.13 -1.23v-2.46zM387.6 118.37l2.13 1.23v2.46l-2.13 1.23l-2.13 -1.23v-2.46zM391.76 118.37l2.13 1.23v2.46l-2.13 1.23l-2.13 -1.23v-2.46zM385.52 121.98l2.13 1.23v2.46l-2.13 1.23l-2.13 -1.23v-2.46zM389.68 121.98l2.13 1.23v2.46l-2.13 1.23l-2.13 -1.23v-2.46zM393.84 121.98l2.13 1.23v2.46l-2.13 1.23l-2.13 -1.23v-2.46zM379.28 125.59l2.13 1.23v2.46l-2.13 1.23l-2.13 -1.23v-2.46zM383.44 125.59l2.13 1.23v2.46l-2.13 1.23l-2.13 -1.23v-2.46zM387.6 125.59l2.13 1.23v2.46l-2.13 1.23l-2.13 -1.23v-2.46zM391.76 125.59l2.13 1.23v2.46l-2.13 1.23l-2.13 -1.23v-2.46zM395.92 125.59l2.13 1.23v2.46l-2.13 1.23l-2.13 -1.23v-2.46z"/>
<path fill="rgb(123,211,248)" stroke="rgb(123,211,248)" stroke-width="0.3" d="M431.28 78.66l2.13 1.23v2.46l-2.13 1.23l-2.13 -1.23v-2.46zM437.52 82.27l2.13 1.23v2.46l-2.13 1.23l-2.13 -1.23v-2.46zM441.68 82.27l2.13 1.23v2.46l-2.13 1.23l-2.13 -1.23v-2.46zM439.6 85.88l2.13 1.23v2.46l-2.13 1.23l-2.13 -1.23v-2.46zM437.52 89.49l2.13 1.23v2.46l-2.13 1.23l-2.13 -1.23v-2.46zM441.68 89.49l2.13 1.23v2.46l-2.13 1.23l-2.13 -1.23v-2.46zM439.6 93.1l2.13 1.23v2.46l-2.13 1.23l-2.13 -1.23v-2.46zM443.76 93.1l2.13 1.23v2.46l-2.13 1.23l-2.13 -1.23v-2.46zM441.68 96.71l2.13 1.23v2.46l-2.13 1.23l-2.13 -1.23v-2.46zM443.76 100.32l2.13 1.23v2.46l-2.13 1.23l-2.13 -1.23v-2.46zM445.84 103.93l2.13 1.23v2.46l-2.13 1.23l-2.13 -1.23v-2.46zM445.84 111.15l2.13 1.23v2.46l-2.13 1.23l-2.13 -1.23v-2.46zM445.84 118.37l2.13 1.23v2.46l-2.13 1.23l-2.13 -1.23v-2.46z"/>
<path fill="rgb(120,200,250)" stroke="rgb(120,200,250)" stroke-width="0.3" d="M435.44 78.66l2.13 1.23v2.46l-2.13 1.23l-2.13 -1.23v-2.46zM445.84 82.27l2.13 1.23v2.46l-2.13 1.23l-2.13 -1.23v-2.46zM443.76 85.88l2.13 1.23v2.46l-2.13 1.23l-2.13 -1.23v-2.46zM445.84 89.49l2.13 1.23v2.46l-2.13 1.23l-2.13 -1.23v-2.46zM447.92 93.1l2.13 1.23v2.46l-2.13 1.23l-2.13 -1.23v-2.46zM445.84 96.71l2.13 1.23v2.46l-2.13 1.23l-2.13 -1.23v-2.46zM447.92 100.32l2.13 1.23v2.46l-2.13 1.23l-2.13 -1.23v-2.46zM447.92 107.54l2.13 1.23v2.46l-2.13 1.23l-2.13 -1.23v-2.46zM447.92 114.76l2.13 1.23v2.46l-2.13 1.23l-2.13 -1.23v-2.46zM450 118.37l2.13 1.23v2.46l-2.13 1.23l-2.13 -1.23v-2.46zM447.92 121.98l2.13 1.23v2.46l-2.13 1.23l-2.13 -1.23v-2.46z"/>
<path fill="rgb(145,241,142)" stroke="rgb(145,241,142)" stroke-width="0.3" d="M420.88 82.27l2.13 1.23v2.46l-2.13 1.23l-2.13 -1.23v-2.46zM425.04 82.27l2.13 1.23v2.46l-2.13 1.23l-2.13 -1.23v-2.46zM418.8 85.88l2.13 1.23v2.46l-2.13 1.23l-2.13 -1.23v-2.46zM416.72 89.49l2.13 1.23v2.46l-2.13 1.23l-2.13 -1.23v-2.46zM408.4 96.71l2.13 1.23v2.46l-2.13 1.23l-2.13 -1.23v-2.46zM412.56 96.71l2.13 1.23v2.46l-2.13 1.23l-2.13 -1.23v-2.46zM406.32 100.32l2.13 1.23v2.46l-2.13 1.23l-2.13 -1.23v-2.46zM404.24 111.15l2.13 1.23v2.46l-2.13 1.23l-2.13 -1.23v-2.46zM398 114.76l2.13 1.23v2.46l-2.13 1.23l-2.13 -1.23v-2.46zM402.16 114.76l2.13 1.23v2.46l-2.13 1.23l-2.13 -1.23v-2.46zM400.08 118.37l2.13 1.23v2.46l-2.13 1.23l-2.13 -1.23v-2.46zM404.24 118.37l2.13 1.23v2.46l-2.13 1.23l-2.13 -1.23v-2.46zM402.16 121.98l2.13 1.23v2.46l-2.13 1.23l-2.13 -1.23v-2.46zM400.08 125.59l2.13 1.23v2.46l-2.13 1.23l-2.13 -1.23v-2.46zM404.24 125.59l2.13 1.23v2.46l-2.13 1.23l-2.13 -1.23v-2.46z"/>
<path fill="rgb(142,240,166)" stroke="rgb(142,240,166)" stroke-width="0.3" d="M429.2 82.27l2.13 1.23v2.46l-2.13 1.23l-2.13 -1.23v-2.46zM422.96 85.88l2.13 1.23v2.46l-2.13 1.23l-2.13 -1.23v-2.46zM410.48 100.32l2.13 1.23v2.46l-2.13 1.23l-2.13 -1.23v-2.46zM408.4 103.93l2.13 1.23v2.46l-2.13 1.23l-2.13 -1.23v-2.46zM412.56 103.93l2.13 1.23v2.46l-2.13 1.23l-2.13 -1.23v-2.46zM406.32 107.54l2.13 1.23v2.46l-2.13 1.23l-2.13 -1.23v-2.46zM406.32 114.76l2.13 1.23v2.46l-2.13 1.23l-2.13 -1.23v-2.46zM406.32 121.98l2.13 1.23v2.46l-2.13 1.23l-2.13 -1.23v-2.46zM408.4 125.59l2.13 1.23v2.46l-2.13 1.23l-2.13 -1.23v-2.46z"/>
<path fill="rgb(130,232,245)" stroke="rgb(130,232,245)" stroke-width="0.3" d="M433.36 82.27l2.13 1.23v2.46l-2.13 1.23l-2.13 -1.23v-2.46zM431.28 85.88l2.13 1.23v2.46l-2.13 1.23l-2.13 -1.23v-2.46zM433.36 89.49l2.13 1.23v2.46l-2.13 1.23l-2.13 -1.23v-2.46zM435.44 93.1l2.13 1.23v2.46l-2.13 1.23l-2.13 -1.23v-2.46zM433.36 96.71l2.13 1.23v2.46l-2.13 1.23l-2.13 -1.23v-2.46zM435.44 100.32l2.13 1.23v2.46l-2.13 1.23l-2.13 -1.23v-2.46zM431.28 107.54l2.13 1.23v2.46l-2.13 1.23l-2.13 -1.23v-2.46zM435.44 107.54l2.13 1.23v2.46l-2.13 1.23l-2.13 -1.23v-2.46zM437.52 111.15l2.13 1.23v2.46l-2.13 1.23l-2.13 -1.23v-2.46zM435.44 114.76l2.13 1.23v2.46l-2.13 1.23l-2.13 -1.23v-2.46zM439.6 114.76l2.13 1.23v2.46l-2.13 1.23l-2.13 -1.23v-2.46zM433.36 118.37l2.13 1.23v2.46l-2.13 1.23l-2.13 -1.23v-2.46zM437.52 118.37l2.13 1.23v2.46l-2.13 1.23l-2.13 -1.23v-2.46zM435.44 121.98l2.13 1.23v2.46l-2.13 1.23l-2.13 -1.23v-2.46zM439.6 121.98l2.13 1.23v2.46l-2.13 1.23l-2.13 -1.23v-2.46zM437.52 125.59l2.13 1.23v2.46l-2.13 1.23l-2.13 -1.23v-2.46zM441.68 125.59l2.13 1.23v2.46l-2.13 1.23l-2.13 -1.23v-2.46z"/>
<path fill="rgb(127,221,247)" stroke="rgb(127,221,247)" stroke-width="0.3" d="M435.44 85.88l2.13 1.23v2.46l-2.13 1.23l-2.13 -1.23v-2.46zM437.52 96.71l2.13 1.23v2.46l-2.13 1.23l-2.13 -1.23v-2.46zM439.6 100.32l2.13 1.23v2.46l-2.13 1.23l-2.13 -1.23v-2.46zM437.52 103.93l2.13 1.23v2.46l-2.13 1.23l-2.13 -1.23v-2.46zM441.68 103.93l2.13 1.23v2.46l-2.13 1.23l-2.13 -1.23v-2.46zM439.6 107.54l2.13 1.23v2.46l-2.13 1.23l-2.13 -1.23v-2.46zM443.76 107.54l2.13 1.23v2.46l-2.13 1.23l-2.13 -1.23v-2.46zM441.68 111.15l2.13 1.23v2.46l-2.13 1.23l-2.13 -1.23v-2.46zM443.76 114.76l2.13 1.23v2.46l-2.13 1.23l-2.13 -1.23v-2.46zM441.68 118.37l2.13 1.23v2.46l-2.13 1.23l-2.13 -1.23v-2.46zM443.76 121.98l2.13 1.23v2.46l-2.13 1.23l-2.13 -1.23v-2.46zM445.84 125.59l2.13 1.23v2.46l-2.13 1.23l-2.13 -1.23v-2.46z"/>
<path fill="rgb(140,240,190)" stroke="rgb(140,240,190)" stroke-width="0.3" d="M420.88 89.49l2.13 1.23v2.46l-2.13 1.23l-2.13 -1.23v-2.46zM418.8 93.1l2.13 1.23v2.46l-2.13 1.23l-2.13 -1.23v-2.46zM422.96 93.1l2.13 1.23v2.46l-2.13 1.23l-2.13 -1.23v-2.46zM416.72 96.71l2.13 1.23v2.46l-2.13 1.23l-2.13 -1.23v-2.46zM414.64 100.32l2.13 1.23v2.46l-2.13 1.23l-2.13 -1.23v-2.46zM410.48 107.54l2.13 1.23v2.46l-2.13 1.23l-2.13 -1.23v-2.46zM414.64 107.54l2.13 1.23v2.46l-2.13 1.23l-2.13 -1.23v-2.46zM408.4 111.15l2.13 1.23v2.46l-2.13 1.23l-2.13 -1.23v-2.46zM412.56 111.15l2.13 1.23v2.46l-2.13 1.23l-2.13 -1.23v-2.46zM410.48 114.76l2.13 1.23v2.46l-2.13 1.23l-2.13 -1.23v-2.46zM408.4 118.37l2.13 1.23v2.46l-2.13 1.23l-2.13 -1.23v-2.46zM412.56 118.37l2.13 1.23v2.46l-2.13 1.23l-2.13 -1.23v-2.46zM410.48 121.98l2.13 1.23v2.46l-2.13 1.23l-2.13 -1.23v-2.46z"/>
<path fill="rgb(135,236,218)" stroke="rgb(135,236,218)" stroke-width="0.3" d="M425.04 89.49l2.13 1.23v2.46l-2.13 1.23l-2.13 -1.23v-2.46zM425.04 96.71l2.13 1.23v2.46l-2.13 1.23l-2.13 -1.23v-2.46zM418.8 100.32l2.13 1.23v2.46l-2.13 1.23l-2.13 -1.23v-2.46zM422.96 100.32l2.13 1.23v2.46l-2.13 1.23l-2.13 -1.23v-2.46zM420.88 103.93l2.13 1.23v2.46l-2.13 1.23l-2.13 -1.23v-2.46zM425.04 103.93l2.13 1.23v2.46l-2.13 1.23l-2.13 -1.23v-2.46zM418.8 107.54l2.13 1.23v2.46l-2.13 1.23l-2.13 -1.23v-2.46zM422.96 107.54l2.13 1.23v2.46l-2.13 1.23l-2.13 -1.23v-2.46zM416.72 111.15l2.13 1.23v2.46l-2.13 1.23l-2.13 -1.23v-2.46zM420.88 111.15l2.13 1.23v2.46l-2.13 1.23l-2.13 -1.23v-2.46zM425.04 111.15l2.13 1.23v2.46l-2.13 1.23l-2.13 -1.23v-2.46zM418.8 114.76l2.13 1.23v2.46l-2.13 1.23l-2.13 -1.23v-2.46zM422.96 114.76l2.13 1.23v2.46l-2.13 1.23l-2.13 -1.23v-2.46zM416.72 118.37l2.13 1.23v2.46l-2.13 1.23l-2.13 -1.23v-2.46zM420.88 118.37l2.13 1.23v2.46l-2.13 1.23l-2.13 -1.23v-2.46zM418.8 121.98l2.13 1.23v2.46l-2.13 1.23l-2.13 -1.23v-2.46zM422.96 121.98l2.13 1.23v2.46l-2.13 1.23l-2.13 -1.23v-2.46zM420.88 125.59l2.13 1.23v2.46l-2.13 1.23l-2.13 -1.23v-2.46zM429.2 125.59l2.13 1.23v2.46l-2.13 1.23l-2.13 -1.23v-2.46z"/>
<path fill="rgb(138,238,204)" stroke="rgb(138,238,204)" stroke-width="0.3" d="M427.12 93.1l2.13 1.23v2.46l-2.13 1.23l-2.13 -1.23v-2.46zM420.88 96.71l2.13 1.23v2.46l-2.13 1.23l-2.13 -1.23v-2.46zM416.72 103.93l2.13 1.23v2.46l-2.13 1.23l-2.13 -1.23v-2.46zM414.64 114.76l2.13 1.23v2.46l-2.13 1.23l-2.13 -1.23v-2.46zM414.64 121.98l2.13 1.23v2.46l-2.13 1.23l-2.13 -1.23v-2.46zM412.56 125.59l2.13 1.23v2.46l-2.13 1.23l-2.13 -1.23v-2.46zM416.72 125.59l2.13 1.23v2.46l-2.13 1.23l-2.13 -1.23v-2.46z"/>
<defs><linearGradient id="cb371" x1="0" y1="0" x2="0" y2="1"><stop offset="0" stop-color="#b83434"/><stop offset="0.18" stop-color="#cc6a3a"/><stop offset="0.33" stop-color="#d0b444"/><stop offset="0.5" stop-color="#7cbc48"/><stop offset="0.68" stop-color="#5cbcbc"/><stop offset="0.85" stop-color="#4a78d0"/><stop offset="1" stop-color="#3436b0"/></linearGradient></defs>
<rect x="371.4" y="39.1" width="2" height="91.2" fill="url(#cb371)"/>
<text x="370.2" y="49.2" font-size="6.5" stroke="#1e1e1e" stroke-width="0.12" text-anchor="end" fill="#1e1e1e" textLength="2.4" lengthAdjust="spacingAndGlyphs">1</text>
<text x="370.2" y="68.1" font-size="6.5" stroke="#1e1e1e" stroke-width="0.12" text-anchor="end" fill="#1e1e1e" textLength="8.9" lengthAdjust="spacingAndGlyphs">0.5</text>
<text x="370.2" y="87.6" font-size="6.5" stroke="#1e1e1e" stroke-width="0.12" text-anchor="end" fill="#1e1e1e" textLength="3.9" lengthAdjust="spacingAndGlyphs">0</text>
<text x="370.2" y="106.6" font-size="6.5" stroke="#1e1e1e" stroke-width="0.12" text-anchor="end" fill="#1e1e1e" textLength="11.3" lengthAdjust="spacingAndGlyphs">-0.5</text>
<text x="370.2" y="126.5" font-size="6.5" stroke="#1e1e1e" stroke-width="0.12" text-anchor="end" fill="#1e1e1e" textLength="5.8" lengthAdjust="spacingAndGlyphs">-1</text>
<text x="353.3" y="84.8" font-size="8.2" stroke="#1e1e1e" stroke-width="0.12" text-anchor="middle" fill="#1e1e1e" textLength="57.2" lengthAdjust="spacingAndGlyphs" transform="rotate(-90 353.3 84.8)">Expression Z-score</text>
<circle cx="403" cy="41.4" r="2.2" fill="none" stroke="#111" stroke-width="1"/>
<text x="403" y="37.7" font-size="5.4" stroke="#111" stroke-width="0.12" text-anchor="middle" fill="#111">5</text>
<circle cx="421.5" cy="41.4" r="2.2" fill="none" stroke="#111" stroke-width="1"/>
<text x="421.5" y="37.7" font-size="5.4" stroke="#111" stroke-width="0.12" text-anchor="middle" fill="#111">1</text>
<circle cx="386.6" cy="52.7" r="2.2" fill="none" stroke="#111" stroke-width="1"/>
<text x="382.9" y="51.9" font-size="5.4" stroke="#111" stroke-width="0.12" text-anchor="middle" fill="#111">7</text>
<circle cx="428.2" cy="67.6" r="2.2" fill="none" stroke="#111" stroke-width="1"/>
<text x="433.7" y="68" font-size="5.4" stroke="#111" stroke-width="0.12" text-anchor="middle" fill="#111">3</text>
<circle cx="384.7" cy="86.4" r="2.2" fill="none" stroke="#111" stroke-width="1"/>
<text x="383.7" y="83" font-size="5.4" stroke="#111" stroke-width="0.12" text-anchor="middle" fill="#111">2</text>
<circle cx="391.2" cy="127.5" r="2.2" fill="none" stroke="#111" stroke-width="1"/>
<text x="391.2" y="135.4" font-size="5.4" stroke="#111" stroke-width="0.12" text-anchor="middle" fill="#111">6</text>
<circle cx="444.9" cy="123.8" r="2.2" fill="none" stroke="#111" stroke-width="1"/>
<text x="444.9" y="131.5" font-size="5.4" stroke="#111" stroke-width="0.12" text-anchor="middle" fill="#111">4</text>
<text x="281.1" y="148.1" font-size="6.9" font-weight="bold" fill="#111" textLength="5" lengthAdjust="spacingAndGlyphs">1.</text>
<text x="288.8" y="148.1" font-size="6.5" stroke="#3a3a3a" stroke-width="0.05" font-style="italic" fill="#3a3a3a" textLength="24.2" lengthAdjust="spacingAndGlyphs">smarca5</text>
<text x="281.1" y="157.9" font-size="6.9" font-weight="bold" fill="#111" textLength="5" lengthAdjust="spacingAndGlyphs">2.</text>
<text x="289" y="157.9" font-size="6.5" stroke="#3a3a3a" stroke-width="0.05" font-style="italic" fill="#3a3a3a" textLength="11.9" lengthAdjust="spacingAndGlyphs">bptf</text>
<text x="322.6" y="148.1" font-size="6.9" font-weight="bold" fill="#111" textLength="5" lengthAdjust="spacingAndGlyphs">3.</text>
<text x="329.9" y="148.1" font-size="6.5" stroke="#3a3a3a" stroke-width="0.05" font-style="italic" fill="#3a3a3a" textLength="27" lengthAdjust="spacingAndGlyphs">smarca4a</text>
<text x="322.6" y="157.9" font-size="6.9" font-weight="bold" fill="#111" textLength="5" lengthAdjust="spacingAndGlyphs">4.</text>
<text x="329.9" y="157.9" font-size="6.5" stroke="#3a3a3a" stroke-width="0.05" font-style="italic" fill="#3a3a3a" textLength="24.3" lengthAdjust="spacingAndGlyphs">smarca2</text>
<text x="367.2" y="148.1" font-size="6.9" font-weight="bold" fill="#111" textLength="5" lengthAdjust="spacingAndGlyphs">5.</text>
<text x="374.7" y="148.1" font-size="6.5" stroke="#3a3a3a" stroke-width="0.05" font-style="italic" fill="#3a3a3a" textLength="14.4" lengthAdjust="spacingAndGlyphs">chd2</text>
<text x="367.2" y="157.9" font-size="6.9" font-weight="bold" fill="#111" textLength="5" lengthAdjust="spacingAndGlyphs">6.</text>
<text x="374.7" y="157.9" font-size="6.5" stroke="#3a3a3a" stroke-width="0.05" font-style="italic" fill="#3a3a3a" textLength="18.4" lengthAdjust="spacingAndGlyphs">chd4b</text>
<text x="403" y="148.1" font-size="6.9" font-weight="bold" fill="#111" textLength="5.1" lengthAdjust="spacingAndGlyphs">7.</text>
<text x="409.9" y="148.1" font-size="6.5" stroke="#3a3a3a" stroke-width="0.05" font-style="italic" fill="#3a3a3a" textLength="17" lengthAdjust="spacingAndGlyphs">ino80</text>
<text x="6.9" y="194.9" font-size="11.6" font-weight="bold" fill="#000" stroke="#000" stroke-width="0.45">C</text>
<line x1="44.6" y1="222.5" x2="44.6" y2="324" stroke="#111" stroke-width="1.1"/>
<line x1="44" y1="323.6" x2="177" y2="323.6" stroke="#111" stroke-width="1.5"/>
<line x1="42" y1="323.6" x2="44.6" y2="323.6" stroke="#111" stroke-width="0.9"/>
<text x="38.8" y="326.1" font-size="7" stroke="#1e1e1e" stroke-width="0.12" text-anchor="end" fill="#1e1e1e" textLength="3.8" lengthAdjust="spacingAndGlyphs">0</text>
<line x1="42" y1="291.3" x2="44.6" y2="291.3" stroke="#111" stroke-width="0.9"/>
<text x="38.8" y="293.8" font-size="7" stroke="#1e1e1e" stroke-width="0.12" text-anchor="end" fill="#1e1e1e" textLength="7.5" lengthAdjust="spacingAndGlyphs">20</text>
<line x1="42" y1="259" x2="44.6" y2="259" stroke="#111" stroke-width="0.9"/>
<text x="38.8" y="261.5" font-size="7" stroke="#1e1e1e" stroke-width="0.12" text-anchor="end" fill="#1e1e1e" textLength="7.5" lengthAdjust="spacingAndGlyphs">40</text>
<line x1="42" y1="226.7" x2="44.6" y2="226.7" stroke="#111" stroke-width="0.9"/>
<text x="38.8" y="229.2" font-size="7" stroke="#1e1e1e" stroke-width="0.12" text-anchor="end" fill="#1e1e1e" textLength="7.5" lengthAdjust="spacingAndGlyphs">60</text>
<text x="14.6" y="272.2" font-size="7.4" stroke="#1e1e1e" stroke-width="0.12" text-anchor="middle" fill="#1e1e1e" textLength="61.6" lengthAdjust="spacingAndGlyphs" transform="rotate(-90 14.6 272.2)">Relative mRNA level</text>
<text x="26.4" y="272.5" font-size="7.4" stroke="#1e1e1e" stroke-width="0.12" text-anchor="middle" fill="#1e1e1e" textLength="71" lengthAdjust="spacingAndGlyphs" transform="rotate(-90 26.4 272.5)">(normalized to β-actin)</text>
<rect x="48.2" y="322.31" width="6.8" height="1.29" fill="#8d97c6"/>
<circle cx="50.3" cy="322.74" r="0.85" fill="#1c2f7a"/>
<circle cx="51.6" cy="322.31" r="0.85" fill="#1c2f7a"/>
<circle cx="52.9" cy="321.87" r="0.85" fill="#1c2f7a"/>
<line x1="49.8" y1="322.31" x2="53.4" y2="322.31" stroke="#111" stroke-width="0.8"/>
<rect x="56.7" y="320.05" width="6.8" height="3.55" fill="#d38a7e"/>
<circle cx="58.8" cy="320.77" r="0.85" fill="#b0102a"/>
<circle cx="60.1" cy="320.05" r="0.85" fill="#b0102a"/>
<circle cx="61.4" cy="319.32" r="0.85" fill="#b0102a"/>
<line x1="58.3" y1="320.05" x2="61.9" y2="320.05" stroke="#111" stroke-width="0.8"/>
<path d="M51.6 307.2V305H60.1V307.2" fill="none" stroke="#111" stroke-width="0.9"/>
<path d="M54.08 302.1l1.24 0M54.39 301.56l0.62 1.08M55.01 301.56l-0.62 1.08" stroke="#1a1a1a" stroke-width="0.5" stroke-linecap="round"/>
<path d="M56.28 302.1l1.24 0M56.59 301.56l0.62 1.08M57.21 301.56l-0.62 1.08" stroke="#1a1a1a" stroke-width="0.5" stroke-linecap="round"/>
<path d="M51.6 324.1V327.9M60.1 324.1V327.9M49.6 327.9H62" fill="none" stroke="#555" stroke-width="0.9"/>
<text x="59" y="332.6" font-size="7" stroke="#1e1e1e" stroke-width="0.12" text-anchor="end" font-style="italic" fill="#1e1e1e" transform="rotate(-45 59 332.6)">chd2</text>
<rect x="66.75" y="309.87" width="6.8" height="13.73" fill="#8d97c6"/>
<line x1="70.15" y1="308.58" x2="70.15" y2="311.16" stroke="#111" stroke-width="0.9"/>
<line x1="68.55" y1="308.58" x2="71.75" y2="308.58" stroke="#111" stroke-width="0.9"/>
<line x1="68.55" y1="311.16" x2="71.75" y2="311.16" stroke="#111" stroke-width="0.9"/>
<circle cx="68.85" cy="311.04" r="0.85" fill="#1c2f7a"/>
<circle cx="70.15" cy="309.87" r="0.85" fill="#1c2f7a"/>
<circle cx="71.45" cy="308.71" r="0.85" fill="#1c2f7a"/>
<line x1="68.35" y1="309.87" x2="71.95" y2="309.87" stroke="#111" stroke-width="0.8"/>
<rect x="75.25" y="284.03" width="6.8" height="39.57" fill="#d38a7e"/>
<line x1="78.65" y1="277.9" x2="78.65" y2="290.17" stroke="#111" stroke-width="0.9"/>
<line x1="77.05" y1="277.9" x2="80.25" y2="277.9" stroke="#111" stroke-width="0.9"/>
<line x1="77.05" y1="290.17" x2="80.25" y2="290.17" stroke="#111" stroke-width="0.9"/>
<circle cx="77.35" cy="289.56" r="0.85" fill="#b0102a"/>
<circle cx="78.65" cy="284.03" r="0.85" fill="#b0102a"/>
<circle cx="79.95" cy="278.51" r="0.85" fill="#b0102a"/>
<line x1="76.85" y1="284.03" x2="80.45" y2="284.03" stroke="#111" stroke-width="0.8"/>
<path d="M70.15 272.2V270H78.65V272.2" fill="none" stroke="#111" stroke-width="0.9"/>
<path d="M72.63 267.1l1.24 0M72.94 266.56l0.62 1.08M73.56 266.56l-0.62 1.08" stroke="#1a1a1a" stroke-width="0.5" stroke-linecap="round"/>
<path d="M74.83 267.1l1.24 0M75.14 266.56l0.62 1.08M75.76 266.56l-0.62 1.08" stroke="#1a1a1a" stroke-width="0.5" stroke-linecap="round"/>
<path d="M70.15 324.1V327.9M78.65 324.1V327.9M68.15 327.9H80.55" fill="none" stroke="#555" stroke-width="0.9"/>
<text x="77.55" y="332.6" font-size="7" stroke="#1e1e1e" stroke-width="0.12" text-anchor="end" font-style="italic" fill="#1e1e1e" transform="rotate(-45 77.55 332.6)">chd4b</text>
<rect x="85.3" y="323.12" width="6.8" height="0.48" fill="#8d97c6"/>
<circle cx="87.4" cy="323.26" r="0.85" fill="#1c2f7a"/>
<circle cx="88.7" cy="323.12" r="0.85" fill="#1c2f7a"/>
<circle cx="90" cy="322.97" r="0.85" fill="#1c2f7a"/>
<line x1="86.9" y1="323.12" x2="90.5" y2="323.12" stroke="#111" stroke-width="0.8"/>
<rect x="93.8" y="321.99" width="6.8" height="1.62" fill="#d38a7e"/>
<circle cx="95.9" cy="322.42" r="0.85" fill="#b0102a"/>
<circle cx="97.2" cy="321.99" r="0.85" fill="#b0102a"/>
<circle cx="98.5" cy="321.55" r="0.85" fill="#b0102a"/>
<line x1="95.4" y1="321.99" x2="99" y2="321.99" stroke="#111" stroke-width="0.8"/>
<path d="M88.7 315.4V313.2H97.2V315.4" fill="none" stroke="#111" stroke-width="0.9"/>
<path d="M92.28 310.3l1.24 0M92.59 309.76l0.62 1.08M93.21 309.76l-0.62 1.08" stroke="#1a1a1a" stroke-width="0.5" stroke-linecap="round"/>
<path d="M88.7 324.1V327.9M97.2 324.1V327.9M86.7 327.9H99.1" fill="none" stroke="#555" stroke-width="0.9"/>
<text x="96.1" y="332.6" font-size="7" stroke="#1e1e1e" stroke-width="0.12" text-anchor="end" font-style="italic" fill="#1e1e1e" transform="rotate(-45 96.1 332.6)">smarca2</text>
<rect x="103.85" y="298.89" width="6.8" height="24.71" fill="#8d97c6"/>
<line x1="107.25" y1="294.85" x2="107.25" y2="302.93" stroke="#111" stroke-width="0.9"/>
<line x1="105.65" y1="294.85" x2="108.85" y2="294.85" stroke="#111" stroke-width="0.9"/>
<line x1="105.65" y1="302.93" x2="108.85" y2="302.93" stroke="#111" stroke-width="0.9"/>
<circle cx="105.95" cy="302.52" r="0.85" fill="#1c2f7a"/>
<circle cx="107.25" cy="298.89" r="0.85" fill="#1c2f7a"/>
<circle cx="108.55" cy="295.26" r="0.85" fill="#1c2f7a"/>
<line x1="105.45" y1="298.89" x2="109.05" y2="298.89" stroke="#111" stroke-width="0.8"/>
<rect x="112.35" y="254.16" width="6.8" height="69.44" fill="#d38a7e"/>
<line x1="115.75" y1="244.47" x2="115.75" y2="263.85" stroke="#111" stroke-width="0.9"/>
<line x1="114.15" y1="244.47" x2="117.35" y2="244.47" stroke="#111" stroke-width="0.9"/>
<line x1="114.15" y1="263.85" x2="117.35" y2="263.85" stroke="#111" stroke-width="0.9"/>
<circle cx="114.45" cy="262.88" r="0.85" fill="#b0102a"/>
<circle cx="115.75" cy="254.16" r="0.85" fill="#b0102a"/>
<circle cx="117.05" cy="245.43" r="0.85" fill="#b0102a"/>
<line x1="113.95" y1="254.16" x2="117.55" y2="254.16" stroke="#111" stroke-width="0.8"/>
<path d="M107.25 238.5V236.3H115.75V238.5" fill="none" stroke="#111" stroke-width="0.9"/>
<path d="M109.73 233.4l1.24 0M110.04 232.86l0.62 1.08M110.66 232.86l-0.62 1.08" stroke="#1a1a1a" stroke-width="0.5" stroke-linecap="round"/>
<path d="M111.93 233.4l1.24 0M112.24 232.86l0.62 1.08M112.86 232.86l-0.62 1.08" stroke="#1a1a1a" stroke-width="0.5" stroke-linecap="round"/>
<path d="M107.25 324.1V327.9M115.75 324.1V327.9M105.25 327.9H117.65" fill="none" stroke="#555" stroke-width="0.9"/>
<text x="114.65" y="332.6" font-size="7" stroke="#1e1e1e" stroke-width="0.12" text-anchor="end" font-style="italic" fill="#1e1e1e" transform="rotate(-45 114.65 332.6)">smarca4a</text>
<rect x="122.4" y="317.62" width="6.8" height="5.98" fill="#8d97c6"/>
<line x1="125.8" y1="316.33" x2="125.8" y2="318.92" stroke="#111" stroke-width="0.9"/>
<line x1="124.2" y1="316.33" x2="127.4" y2="316.33" stroke="#111" stroke-width="0.9"/>
<line x1="124.2" y1="318.92" x2="127.4" y2="318.92" stroke="#111" stroke-width="0.9"/>
<circle cx="124.5" cy="318.79" r="0.85" fill="#1c2f7a"/>
<circle cx="125.8" cy="317.62" r="0.85" fill="#1c2f7a"/>
<circle cx="127.1" cy="316.46" r="0.85" fill="#1c2f7a"/>
<line x1="124" y1="317.62" x2="127.6" y2="317.62" stroke="#111" stroke-width="0.8"/>
<rect x="130.9" y="312.94" width="6.8" height="10.66" fill="#d38a7e"/>
<circle cx="133" cy="313.52" r="0.85" fill="#b0102a"/>
<circle cx="134.3" cy="312.94" r="0.85" fill="#b0102a"/>
<circle cx="135.6" cy="312.36" r="0.85" fill="#b0102a"/>
<line x1="132.5" y1="312.94" x2="136.1" y2="312.94" stroke="#111" stroke-width="0.8"/>
<path d="M125.8 307.3V305.1H134.3V307.3" fill="none" stroke="#111" stroke-width="0.9"/>
<path d="M129.38 302.2l1.24 0M129.69 301.66l0.62 1.08M130.31 301.66l-0.62 1.08" stroke="#1a1a1a" stroke-width="0.5" stroke-linecap="round"/>
<path d="M125.8 324.1V327.9M134.3 324.1V327.9M123.8 327.9H136.2" fill="none" stroke="#555" stroke-width="0.9"/>
<text x="133.2" y="332.6" font-size="7" stroke="#1e1e1e" stroke-width="0.12" text-anchor="end" font-style="italic" fill="#1e1e1e" transform="rotate(-45 133.2 332.6)">bptf</text>
<rect x="140.95" y="313.43" width="6.8" height="10.17" fill="#8d97c6"/>
<line x1="144.35" y1="311.81" x2="144.35" y2="315.04" stroke="#111" stroke-width="0.9"/>
<line x1="142.75" y1="311.81" x2="145.95" y2="311.81" stroke="#111" stroke-width="0.9"/>
<line x1="142.75" y1="315.04" x2="145.95" y2="315.04" stroke="#111" stroke-width="0.9"/>
<circle cx="143.05" cy="314.88" r="0.85" fill="#1c2f7a"/>
<circle cx="144.35" cy="313.43" r="0.85" fill="#1c2f7a"/>
<circle cx="145.65" cy="311.97" r="0.85" fill="#1c2f7a"/>
<line x1="142.55" y1="313.43" x2="146.15" y2="313.43" stroke="#111" stroke-width="0.8"/>
<rect x="149.45" y="250.12" width="6.8" height="73.48" fill="#d38a7e"/>
<line x1="152.85" y1="239.62" x2="152.85" y2="260.62" stroke="#111" stroke-width="0.9"/>
<line x1="151.25" y1="239.62" x2="154.45" y2="239.62" stroke="#111" stroke-width="0.9"/>
<line x1="151.25" y1="260.62" x2="154.45" y2="260.62" stroke="#111" stroke-width="0.9"/>
<circle cx="151.55" cy="259.57" r="0.85" fill="#b0102a"/>
<circle cx="152.85" cy="250.12" r="0.85" fill="#b0102a"/>
<circle cx="154.15" cy="240.67" r="0.85" fill="#b0102a"/>
<line x1="151.05" y1="250.12" x2="154.65" y2="250.12" stroke="#111" stroke-width="0.8"/>
<path d="M144.35 234V231.8H152.85V234" fill="none" stroke="#111" stroke-width="0.9"/>
<path d="M145.73 228.9l1.24 0M146.04 228.36l0.62 1.08M146.66 228.36l-0.62 1.08" stroke="#1a1a1a" stroke-width="0.5" stroke-linecap="round"/>
<path d="M147.93 228.9l1.24 0M148.24 228.36l0.62 1.08M148.86 228.36l-0.62 1.08" stroke="#1a1a1a" stroke-width="0.5" stroke-linecap="round"/>
<path d="M150.13 228.9l1.24 0M150.44 228.36l0.62 1.08M151.06 228.36l-0.62 1.08" stroke="#1a1a1a" stroke-width="0.5" stroke-linecap="round"/>
<path d="M144.35 324.1V327.9M152.85 324.1V327.9M142.35 327.9H154.75" fill="none" stroke="#555" stroke-width="0.9"/>
<text x="151.75" y="332.6" font-size="7" stroke="#1e1e1e" stroke-width="0.12" text-anchor="end" font-style="italic" fill="#1e1e1e" transform="rotate(-45 151.75 332.6)">smarca5</text>
<rect x="159.5" y="323.12" width="6.8" height="0.48" fill="#8d97c6"/>
<circle cx="161.6" cy="323.26" r="0.85" fill="#1c2f7a"/>
<circle cx="162.9" cy="323.12" r="0.85" fill="#1c2f7a"/>
<circle cx="164.2" cy="322.97" r="0.85" fill="#1c2f7a"/>
<line x1="161.1" y1="323.12" x2="164.7" y2="323.12" stroke="#111" stroke-width="0.8"/>
<rect x="168" y="320.37" width="6.8" height="3.23" fill="#d38a7e"/>
<circle cx="170.1" cy="321.24" r="0.85" fill="#b0102a"/>
<circle cx="171.4" cy="320.37" r="0.85" fill="#b0102a"/>
<circle cx="172.7" cy="319.5" r="0.85" fill="#b0102a"/>
<line x1="169.6" y1="320.37" x2="173.2" y2="320.37" stroke="#111" stroke-width="0.8"/>
<path d="M162.9 313.7V311.5H171.4V313.7" fill="none" stroke="#111" stroke-width="0.9"/>
<path d="M165.38 308.6l1.24 0M165.69 308.06l0.62 1.08M166.31 308.06l-0.62 1.08" stroke="#1a1a1a" stroke-width="0.5" stroke-linecap="round"/>
<path d="M167.58 308.6l1.24 0M167.89 308.06l0.62 1.08M168.51 308.06l-0.62 1.08" stroke="#1a1a1a" stroke-width="0.5" stroke-linecap="round"/>
<path d="M162.9 324.1V327.9M171.4 324.1V327.9M160.9 327.9H173.3" fill="none" stroke="#555" stroke-width="0.9"/>
<text x="170.3" y="332.6" font-size="7" stroke="#1e1e1e" stroke-width="0.12" text-anchor="end" font-style="italic" fill="#1e1e1e" transform="rotate(-45 170.3 332.6)">ino80</text>
<circle cx="70" cy="366.4" r="1.2" fill="#1c2f7a"/>
<text x="73.6" y="368.6" font-size="6" stroke="#333" stroke-width="0.12" fill="#333" textLength="33.7" lengthAdjust="spacingAndGlyphs">36 hpf HSPCs</text>
<circle cx="118" cy="366.4" r="1.2" fill="#b0102a"/>
<text x="122" y="368.6" font-size="6" stroke="#333" stroke-width="0.12" fill="#333" textLength="30.2" lengthAdjust="spacingAndGlyphs">3 dpf HSPCs</text>
<text x="192.1" y="194.6" font-size="11.6" font-weight="bold" fill="#000" stroke="#000" stroke-width="0.45">D</text>
<defs><linearGradient id="fade" x1="0" y1="0" x2="1" y2="1"><stop offset="0" stop-color="#fff" stop-opacity="0"/><stop offset="1" stop-color="#fff" stop-opacity="0.35"/></linearGradient></defs>
<text x="308.8" y="191.1" font-size="7" stroke="#222" stroke-width="0.12" text-anchor="end">3 dpf</text>
<text x="367" y="191.1" font-size="7" stroke="#222" stroke-width="0.12" text-anchor="end">4 dpf</text>
<rect x="250.8" y="193.75" width="116.3" height="25.0" fill="#fff" stroke="#c4c4c4" stroke-width="1"/>
<text x="246.5" y="208" font-size="6.7" stroke="#222" stroke-width="0.12" text-anchor="end">Control</text>
<clipPath id="c0"><rect x="251.8" y="194.85" width="55.6" height="22.9"/></clipPath>
<linearGradient id="g0" x1="0.3" y1="0" x2="0" y2="1"><stop offset="0" stop-color="#d6cce2" stop-opacity="0.6"/><stop offset="0.8" stop-color="#d6cce2"/></linearGradient>
<g clip-path="url(#c0)">
<rect x="251.8" y="194.85" width="55.6" height="22.9" fill="#f3f1f3"/>
<path d="M251.8 194.85 L251.8 213.52 L256.43 212.37 L261.07 211.37 L265.7 210.51 L270.33 209.78 L274.97 209.17 L279.6 208.69 L284.23 208.3 L288.87 208.01 L293.5 207.8 L298.13 207.66 L302.77 207.58 L307.4 207.53 L307.4 194.85Z" fill="url(#g0)"/>
<path d="M251.8 211.72 L255.78 210.76 L259.77 209.9 L263.75 209.16 L267.74 208.51 L271.72 207.96 L275.71 207.5 L279.69 207.13 L283.68 206.83 L287.66 206.6 L291.65 206.44 L295.63 206.33 L299.62 206.26" fill="none" stroke="#5a4890" stroke-opacity="0.22" stroke-width="2.4" stroke-linecap="round"/>
<ellipse cx="252.49" cy="212.05" rx="1.91" ry="1.45" fill="#4e388c" fill-opacity="0.61"/>
<ellipse cx="255.16" cy="210.51" rx="1.81" ry="1.42" fill="#4e388c" fill-opacity="0.64"/>
<ellipse cx="257.83" cy="210.23" rx="1.21" ry="1.06" fill="#4e388c" fill-opacity="0.7"/>
<ellipse cx="261.25" cy="209.81" rx="1.34" ry="1.35" fill="#4e388c" fill-opacity="0.65"/>
<ellipse cx="264.17" cy="209.99" rx="1.38" ry="1.06" fill="#4e388c" fill-opacity="0.94"/>
<ellipse cx="267.52" cy="208.85" rx="2.01" ry="1.21" fill="#4e388c" fill-opacity="0.84"/>
<ellipse cx="269.75" cy="208.24" rx="1.94" ry="1.09" fill="#4e388c" fill-opacity="0.73"/>
<ellipse cx="271.92" cy="207.51" rx="1.25" ry="1.09" fill="#4e388c" fill-opacity="0.81"/>
<ellipse cx="273.81" cy="207.88" rx="1.86" ry="1.17" fill="#4e388c" fill-opacity="0.71"/>
<ellipse cx="276.51" cy="207.94" rx="1.24" ry="1.38" fill="#4e388c" fill-opacity="0.61"/>
<ellipse cx="279.65" cy="207.96" rx="1.48" ry="1.2" fill="#4e388c" fill-opacity="0.6"/>
<ellipse cx="281.61" cy="207.33" rx="1.91" ry="1.03" fill="#4e388c" fill-opacity="0.86"/>
<ellipse cx="285.06" cy="206.83" rx="0.7" ry="0.55" fill="#4a3a8a" fill-opacity="0.5"/>
<ellipse cx="287.88" cy="207.12" rx="1.28" ry="1.24" fill="#4e388c" fill-opacity="0.88"/>
<ellipse cx="291.2" cy="206.88" rx="1.43" ry="1.18" fill="#4e388c" fill-opacity="0.92"/>
<ellipse cx="293.66" cy="206.62" rx="0.7" ry="0.55" fill="#4a3a8a" fill-opacity="0.5"/>
<ellipse cx="296.51" cy="206.53" rx="1.25" ry="1" fill="#4e388c" fill-opacity="0.84"/>
</g>
<clipPath id="c1"><rect x="309.6" y="194.85" width="55.6" height="22.9"/></clipPath>
<linearGradient id="g1" x1="0.3" y1="0" x2="0" y2="1"><stop offset="0" stop-color="#dcd3e6" stop-opacity="0.6"/><stop offset="0.8" stop-color="#dcd3e6"/></linearGradient>
<g clip-path="url(#c1)">
<rect x="309.6" y="194.85" width="55.6" height="22.9" fill="#f3f1f3"/>
<path d="M309.6 194.85 L309.6 214.9 L314.23 213.56 L318.87 212.4 L323.5 211.4 L328.13 210.55 L332.77 209.86 L337.4 209.29 L342.03 208.85 L346.67 208.52 L351.3 208.29 L355.93 208.13 L360.57 208.04 L365.2 207.99 L365.2 194.85Z" fill="url(#g1)"/>
<path d="M309.6 213.1 L313.86 211.9 L318.13 210.85 L322.39 209.94 L326.65 209.16 L330.91 208.51 L335.18 207.98 L339.44 207.55 L343.7 207.23 L347.96 206.99 L352.23 206.83 L356.49 206.74 L360.75 206.7" fill="none" stroke="#5a4890" stroke-opacity="0.22" stroke-width="2.4" stroke-linecap="round"/>
<ellipse cx="310.67" cy="214.16" rx="1.38" ry="1.01" fill="#4e388c" fill-opacity="0.83"/>
<ellipse cx="313.13" cy="212.55" rx="1.42" ry="1.45" fill="#4e388c" fill-opacity="0.71"/>
<ellipse cx="316.03" cy="211.38" rx="1.85" ry="0.97" fill="#4e388c" fill-opacity="0.91"/>
<ellipse cx="318.9" cy="210.35" rx="1.37" ry="1.38" fill="#4e388c" fill-opacity="0.8"/>
<ellipse cx="322.35" cy="210.62" rx="1.81" ry="1.25" fill="#4e388c" fill-opacity="0.69"/>
<ellipse cx="325.84" cy="209.51" rx="1.86" ry="1.4" fill="#4e388c" fill-opacity="0.83"/>
<ellipse cx="327.97" cy="209.15" rx="1.24" ry="1.2" fill="#4e388c" fill-opacity="0.61"/>
<ellipse cx="331.4" cy="208.58" rx="1.62" ry="1.13" fill="#4e388c" fill-opacity="0.83"/>
<ellipse cx="334.82" cy="208.04" rx="1.43" ry="1.21" fill="#4e388c" fill-opacity="0.79"/>
<ellipse cx="337.43" cy="208.32" rx="1.6" ry="0.99" fill="#4e388c" fill-opacity="0.95"/>
<ellipse cx="339.92" cy="207.25" rx="1.91" ry="1.16" fill="#4e388c" fill-opacity="0.74"/>
<ellipse cx="341.97" cy="208.18" rx="0.7" ry="0.55" fill="#4a3a8a" fill-opacity="0.5"/>
<ellipse cx="344.2" cy="207.34" rx="1.45" ry="1.03" fill="#4e388c" fill-opacity="0.61"/>
<ellipse cx="346.98" cy="207.56" rx="1.65" ry="1.03" fill="#4e388c" fill-opacity="0.84"/>
<ellipse cx="348.96" cy="207.57" rx="1.51" ry="1.27" fill="#4e388c" fill-opacity="0.77"/>
<ellipse cx="351.73" cy="206.55" rx="1.85" ry="1.22" fill="#4e388c" fill-opacity="0.77"/>
<ellipse cx="354.83" cy="206.75" rx="1.72" ry="1.17" fill="#4e388c" fill-opacity="0.93"/>
<ellipse cx="356.75" cy="207.45" rx="1.59" ry="1.07" fill="#4e388c" fill-opacity="0.66"/>
<ellipse cx="359.8" cy="206.99" rx="1.78" ry="1.07" fill="#4e388c" fill-opacity="0.64"/>
</g>
<text x="252.4" y="199.85" font-size="7.2" stroke="#1a1a1a" stroke-width="0.12" font-style="italic" fill="#1a1a1a" textLength="15.3" lengthAdjust="spacingAndGlyphs">cmyb</text>
<line x1="252.6" y1="216.35" x2="259.6" y2="216.35" stroke="#222" stroke-width="0.9"/>
<text x="310.2" y="199.85" font-size="7.2" stroke="#1a1a1a" stroke-width="0.12" font-style="italic" fill="#1a1a1a" textLength="15.3" lengthAdjust="spacingAndGlyphs">cmyb</text>
<line x1="310.4" y1="216.35" x2="317.4" y2="216.35" stroke="#222" stroke-width="0.9"/>
<rect x="250.8" y="220.65" width="116.3" height="25.0" fill="#fff" stroke="#c4c4c4" stroke-width="1"/>
<text x="246.5" y="235" font-size="6.7" stroke="#222" stroke-width="0.12" text-anchor="end"><tspan font-style="italic">chd2</tspan> MO</text>
<clipPath id="c2"><rect x="251.8" y="221.75" width="55.6" height="22.9"/></clipPath>
<linearGradient id="g2" x1="0.3" y1="0" x2="0" y2="1"><stop offset="0" stop-color="#dacfe2" stop-opacity="0.6"/><stop offset="0.8" stop-color="#dacfe2"/></linearGradient>
<g clip-path="url(#c2)">
<rect x="251.8" y="221.75" width="55.6" height="22.9" fill="#f3f1f3"/>
<path d="M251.8 221.75 L251.8 239.97 L256.43 238.81 L261.07 237.81 L265.7 236.95 L270.33 236.22 L274.97 235.62 L279.6 235.13 L284.23 234.74 L288.87 234.45 L293.5 234.25 L298.13 234.11 L302.77 234.02 L307.4 233.97 L307.4 221.75Z" fill="url(#g2)"/>
<path d="M251.8 238.17 L255.88 237.18 L259.95 236.31 L264.03 235.55 L268.11 234.9 L272.19 234.35 L276.26 233.89 L280.34 233.52 L284.42 233.22 L288.5 233 L292.57 232.85 L296.65 232.75 L300.73 232.69" fill="none" stroke="#5a4890" stroke-opacity="0.22" stroke-width="2.4" stroke-linecap="round"/>
<ellipse cx="252.03" cy="238.51" rx="1.74" ry="1.3" fill="#4e388c" fill-opacity="0.69"/>
<ellipse cx="254.52" cy="238.08" rx="1.97" ry="1.11" fill="#4e388c" fill-opacity="0.91"/>
<ellipse cx="256.53" cy="237.05" rx="1.9" ry="1.4" fill="#4e388c" fill-opacity="0.78"/>
<ellipse cx="258.92" cy="236.96" rx="1.62" ry="1.08" fill="#4e388c" fill-opacity="0.71"/>
<ellipse cx="260.81" cy="236.63" rx="1.75" ry="1.26" fill="#4e388c" fill-opacity="0.82"/>
<ellipse cx="263.76" cy="235.95" rx="2.03" ry="1.43" fill="#4e388c" fill-opacity="0.74"/>
<ellipse cx="266.24" cy="235.32" rx="2" ry="1.31" fill="#4e388c" fill-opacity="0.68"/>
<ellipse cx="269.28" cy="235.11" rx="1.28" ry="1.33" fill="#4e388c" fill-opacity="0.86"/>
<ellipse cx="271.96" cy="234.76" rx="0.7" ry="0.55" fill="#4a3a8a" fill-opacity="0.5"/>
<ellipse cx="275.11" cy="234.35" rx="1.2" ry="1.22" fill="#4e388c" fill-opacity="0.81"/>
<ellipse cx="277.63" cy="234.32" rx="1.63" ry="1.05" fill="#4e388c" fill-opacity="0.79"/>
<ellipse cx="280.6" cy="233.22" rx="1.8" ry="1.05" fill="#4e388c" fill-opacity="0.91"/>
<ellipse cx="283.69" cy="234.01" rx="1.44" ry="1.32" fill="#4e388c" fill-opacity="0.93"/>
<ellipse cx="286.05" cy="233.8" rx="0.7" ry="0.55" fill="#4a3a8a" fill-opacity="0.5"/>
<ellipse cx="288.36" cy="233.51" rx="1.3" ry="1.31" fill="#4e388c" fill-opacity="0.73"/>
<ellipse cx="290.72" cy="233.71" rx="1.34" ry="0.97" fill="#4e388c" fill-opacity="0.68"/>
<ellipse cx="294.25" cy="233.24" rx="0.7" ry="0.55" fill="#4a3a8a" fill-opacity="0.5"/>
<ellipse cx="296.96" cy="233.17" rx="0.7" ry="0.55" fill="#4a3a8a" fill-opacity="0.5"/>
<ellipse cx="299.66" cy="232.93" rx="1.31" ry="1.13" fill="#4e388c" fill-opacity="0.89"/>
</g>
<clipPath id="c3"><rect x="309.6" y="221.75" width="55.6" height="22.9"/></clipPath>
<linearGradient id="g3" x1="0.3" y1="0" x2="0" y2="1"><stop offset="0" stop-color="#e0d7e6" stop-opacity="0.6"/><stop offset="0.8" stop-color="#e0d7e6"/></linearGradient>
<g clip-path="url(#c3)">
<rect x="309.6" y="221.75" width="55.6" height="22.9" fill="#f3f1f3"/>
<path d="M309.6 221.75 L309.6 241.57 L314.23 240.09 L318.87 238.81 L323.5 237.71 L328.13 236.78 L332.77 236.01 L337.4 235.39 L342.03 234.91 L346.67 234.55 L351.3 234.29 L355.93 234.12 L360.57 234.02 L365.2 233.97 L365.2 221.75Z" fill="url(#g3)"/>
<path d="M309.6 239.77 L313.86 238.44 L318.13 237.28 L322.39 236.27 L326.65 235.41 L330.91 234.69 L335.18 234.1 L339.44 233.63 L343.7 233.27 L347.96 233.01 L352.23 232.83 L356.49 232.73 L360.75 232.68" fill="none" stroke="#5a4890" stroke-opacity="0.22" stroke-width="2.4" stroke-linecap="round"/>
<ellipse cx="310.67" cy="239.36" rx="1.93" ry="1.48" fill="#4e388c" fill-opacity="0.75"/>
<ellipse cx="312.95" cy="239.07" rx="1.26" ry="1.29" fill="#4e388c" fill-opacity="0.95"/>
<ellipse cx="315.19" cy="238.53" rx="1.71" ry="1.15" fill="#4e388c" fill-opacity="0.61"/>
<ellipse cx="317.34" cy="238.67" rx="0.7" ry="0.55" fill="#4a3a8a" fill-opacity="0.5"/>
<ellipse cx="319.59" cy="236.91" rx="1.83" ry="1.01" fill="#4e388c" fill-opacity="0.83"/>
<ellipse cx="321.59" cy="236.63" rx="1.79" ry="1.04" fill="#4e388c" fill-opacity="0.65"/>
<ellipse cx="324.31" cy="236.61" rx="1.7" ry="0.95" fill="#4e388c" fill-opacity="0.8"/>
<ellipse cx="326.2" cy="235.81" rx="1.71" ry="1.13" fill="#4e388c" fill-opacity="0.73"/>
<ellipse cx="329.41" cy="234.88" rx="1.24" ry="1.36" fill="#4e388c" fill-opacity="0.66"/>
<ellipse cx="332.62" cy="234.82" rx="1.21" ry="1.09" fill="#4e388c" fill-opacity="0.8"/>
<ellipse cx="335.28" cy="235.13" rx="0.7" ry="0.55" fill="#4a3a8a" fill-opacity="0.5"/>
<ellipse cx="338.67" cy="234.11" rx="1.58" ry="0.97" fill="#4e388c" fill-opacity="0.8"/>
<ellipse cx="341.72" cy="233.78" rx="1.24" ry="1.15" fill="#4e388c" fill-opacity="0.86"/>
<ellipse cx="344.11" cy="233.32" rx="1.67" ry="1.22" fill="#4e388c" fill-opacity="0.65"/>
<ellipse cx="346.27" cy="233.46" rx="0.7" ry="0.55" fill="#4a3a8a" fill-opacity="0.5"/>
<ellipse cx="349.29" cy="233.03" rx="0.7" ry="0.55" fill="#4a3a8a" fill-opacity="0.5"/>
<ellipse cx="351.3" cy="232.97" rx="0.7" ry="0.55" fill="#4a3a8a" fill-opacity="0.5"/>
<ellipse cx="353.47" cy="233.11" rx="1.65" ry="1" fill="#4e388c" fill-opacity="0.8"/>
<ellipse cx="356.81" cy="232.95" rx="0.7" ry="0.55" fill="#4a3a8a" fill-opacity="0.5"/>
<ellipse cx="360.36" cy="232.8" rx="0.7" ry="0.55" fill="#4a3a8a" fill-opacity="0.5"/>
</g>
<rect x="250.8" y="247.55" width="116.3" height="25.0" fill="#fff" stroke="#c4c4c4" stroke-width="1"/>
<text x="246.5" y="262" font-size="6.7" stroke="#222" stroke-width="0.12" text-anchor="end"><tspan font-style="italic">chd4b</tspan> MO</text>
<clipPath id="c4"><rect x="251.8" y="248.65" width="55.6" height="22.9"/></clipPath>
<linearGradient id="g4" x1="0.3" y1="0" x2="0" y2="1"><stop offset="0" stop-color="#dbd3e2" stop-opacity="0.6"/><stop offset="0.8" stop-color="#dbd3e2"/></linearGradient>
<g clip-path="url(#c4)">
<rect x="251.8" y="248.65" width="55.6" height="22.9" fill="#f3f1f3"/>
<path d="M251.8 248.65 L251.8 268.47 L256.43 267.32 L261.07 266.31 L265.7 265.45 L270.33 264.72 L274.97 264.12 L279.6 263.63 L284.23 263.25 L288.87 262.96 L293.5 262.75 L298.13 262.61 L302.77 262.52 L307.4 262.47 L307.4 248.65Z" fill="url(#g4)"/>
<path d="M251.8 266.67 L255.88 265.68 L259.95 264.81 L264.03 264.05 L268.11 263.4 L272.19 262.85 L276.26 262.39 L280.34 262.02 L284.42 261.73 L288.5 261.51 L292.57 261.35 L296.65 261.25 L300.73 261.2" fill="none" stroke="#5a4890" stroke-opacity="0.22" stroke-width="2.4" stroke-linecap="round"/>
<ellipse cx="252.11" cy="266.58" rx="1.76" ry="1.21" fill="#4e388c" fill-opacity="0.78"/>
<ellipse cx="254.34" cy="266.21" rx="1.44" ry="1.36" fill="#4e388c" fill-opacity="0.61"/>
<ellipse cx="256.82" cy="265.47" rx="1.99" ry="1.44" fill="#4e388c" fill-opacity="0.8"/>
<ellipse cx="259.04" cy="265.19" rx="1.98" ry="1.19" fill="#4e388c" fill-opacity="0.88"/>
<ellipse cx="262.41" cy="264.68" rx="0.7" ry="0.55" fill="#4a3a8a" fill-opacity="0.5"/>
<ellipse cx="265.7" cy="264.28" rx="1.44" ry="0.97" fill="#4e388c" fill-opacity="0.87"/>
<ellipse cx="267.98" cy="263.63" rx="1.86" ry="0.99" fill="#4e388c" fill-opacity="0.94"/>
<ellipse cx="270.09" cy="263.34" rx="1.58" ry="1.31" fill="#4e388c" fill-opacity="0.77"/>
<ellipse cx="273.16" cy="263.16" rx="1.53" ry="1.31" fill="#4e388c" fill-opacity="0.74"/>
<ellipse cx="275.15" cy="262.65" rx="1.27" ry="1.13" fill="#4e388c" fill-opacity="0.72"/>
<ellipse cx="277.86" cy="263.02" rx="1.62" ry="1.08" fill="#4e388c" fill-opacity="0.74"/>
<ellipse cx="280.18" cy="262.08" rx="1.57" ry="1.27" fill="#4e388c" fill-opacity="0.63"/>
<ellipse cx="283.63" cy="261.59" rx="0.7" ry="0.55" fill="#4a3a8a" fill-opacity="0.5"/>
<ellipse cx="285.73" cy="261.87" rx="1.23" ry="0.99" fill="#4e388c" fill-opacity="0.85"/>
<ellipse cx="287.95" cy="261.91" rx="0.7" ry="0.55" fill="#4a3a8a" fill-opacity="0.5"/>
<ellipse cx="291.03" cy="261.4" rx="1.62" ry="1.18" fill="#4e388c" fill-opacity="0.83"/>
<ellipse cx="293.18" cy="261.69" rx="0.7" ry="0.55" fill="#4a3a8a" fill-opacity="0.5"/>
<ellipse cx="295.52" cy="261.78" rx="0.7" ry="0.55" fill="#4a3a8a" fill-opacity="0.5"/>
<ellipse cx="299.1" cy="261.77" rx="0.7" ry="0.55" fill="#4a3a8a" fill-opacity="0.5"/>
</g>
<clipPath id="c5"><rect x="309.6" y="248.65" width="55.6" height="22.9"/></clipPath>
<linearGradient id="g5" x1="0.3" y1="0" x2="0" y2="1"><stop offset="0" stop-color="#dfd7e4" stop-opacity="0.6"/><stop offset="0.8" stop-color="#dfd7e4"/></linearGradient>
<g clip-path="url(#c5)">
<rect x="309.6" y="248.65" width="55.6" height="22.9" fill="#f3f1f3"/>
<path d="M309.6 248.65 L309.6 268.01 L314.23 266.67 L318.87 265.51 L323.5 264.51 L328.13 263.67 L332.77 262.97 L337.4 262.41 L342.03 261.97 L346.67 261.64 L351.3 261.4 L355.93 261.24 L360.57 261.15 L365.2 261.1 L365.2 248.65Z" fill="url(#g5)"/>
<path d="M309.6 266.21 L313.54 265.1 L317.48 264.11 L321.42 263.25 L325.35 262.5 L329.29 261.86 L333.23 261.32 L337.17 260.88 L341.11 260.53 L345.05 260.26 L348.98 260.06 L352.92 259.93 L356.86 259.85" fill="none" stroke="#5a4890" stroke-opacity="0.22" stroke-width="2.4" stroke-linecap="round"/>
<ellipse cx="309.83" cy="266.23" rx="1.81" ry="1.14" fill="#4e388c" fill-opacity="0.76"/>
<ellipse cx="313.2" cy="265.04" rx="0.7" ry="0.55" fill="#4a3a8a" fill-opacity="0.5"/>
<ellipse cx="315.59" cy="265.3" rx="1.24" ry="1.3" fill="#4e388c" fill-opacity="0.93"/>
<ellipse cx="318.89" cy="264.31" rx="1.92" ry="1.02" fill="#4e388c" fill-opacity="0.87"/>
<ellipse cx="321.08" cy="264.08" rx="0.7" ry="0.55" fill="#4a3a8a" fill-opacity="0.5"/>
<ellipse cx="324.57" cy="262.99" rx="1.29" ry="1.15" fill="#4e388c" fill-opacity="0.6"/>
<ellipse cx="326.6" cy="263.65" rx="0.7" ry="0.55" fill="#4a3a8a" fill-opacity="0.5"/>
<ellipse cx="329.9" cy="261.99" rx="1.84" ry="1.29" fill="#4e388c" fill-opacity="0.87"/>
<ellipse cx="332.59" cy="261.53" rx="0.7" ry="0.55" fill="#4a3a8a" fill-opacity="0.5"/>
<ellipse cx="334.83" cy="261.64" rx="1.54" ry="1.09" fill="#4e388c" fill-opacity="0.91"/>
<ellipse cx="337.6" cy="261.74" rx="1.24" ry="1.1" fill="#4e388c" fill-opacity="0.84"/>
<ellipse cx="340.21" cy="260.7" rx="0.7" ry="0.55" fill="#4a3a8a" fill-opacity="0.5"/>
<ellipse cx="343.37" cy="260.55" rx="0.7" ry="0.55" fill="#4a3a8a" fill-opacity="0.5"/>
<ellipse cx="345.41" cy="260.36" rx="1.31" ry="1.17" fill="#4e388c" fill-opacity="0.87"/>
<ellipse cx="348.23" cy="261.26" rx="0.7" ry="0.55" fill="#4a3a8a" fill-opacity="0.5"/>
<ellipse cx="351.83" cy="260.94" rx="1.64" ry="1.2" fill="#4e388c" fill-opacity="0.82"/>
<ellipse cx="354.21" cy="260.04" rx="1.76" ry="1.2" fill="#4e388c" fill-opacity="0.82"/>
<ellipse cx="356.1" cy="260.36" rx="1.51" ry="1.21" fill="#4e388c" fill-opacity="0.74"/>
</g>
<rect x="250.8" y="274.45" width="116.3" height="25.0" fill="#fff" stroke="#c4c4c4" stroke-width="1"/>
<text x="246.5" y="289" font-size="6.7" stroke="#222" stroke-width="0.12" text-anchor="end"><tspan font-style="italic">smarca2</tspan> MO</text>
<clipPath id="c6"><rect x="251.8" y="275.55" width="55.6" height="22.9"/></clipPath>
<linearGradient id="g6" x1="0.3" y1="0" x2="0" y2="1"><stop offset="0" stop-color="#ddd6e4" stop-opacity="0.6"/><stop offset="0.8" stop-color="#ddd6e4"/></linearGradient>
<g clip-path="url(#c6)">
<rect x="251.8" y="275.55" width="55.6" height="22.9" fill="#f3f1f3"/>
<path d="M251.8 275.55 L251.8 294 L256.43 292.93 L261.07 292.01 L265.7 291.22 L270.33 290.55 L274.97 289.99 L279.6 289.54 L284.23 289.18 L288.87 288.91 L293.5 288.72 L298.13 288.59 L302.77 288.51 L307.4 288.46 L307.4 275.55Z" fill="url(#g6)"/>
<path d="M251.8 292.2 L256.2 291.22 L260.6 290.38 L265 289.65 L269.41 289.03 L273.81 288.52 L278.21 288.1 L282.61 287.77 L287.01 287.53 L291.42 287.36 L295.82 287.24 L300.22 287.18 L304.62 287.16" fill="none" stroke="#5a4890" stroke-opacity="0.22" stroke-width="2.4" stroke-linecap="round"/>
<ellipse cx="252.07" cy="292.86" rx="1.66" ry="1.12" fill="#4e388c" fill-opacity="0.65"/>
<ellipse cx="255.63" cy="291.54" rx="0.7" ry="0.55" fill="#4a3a8a" fill-opacity="0.5"/>
<ellipse cx="257.99" cy="291" rx="1.46" ry="1.11" fill="#4e388c" fill-opacity="0.67"/>
<ellipse cx="260.87" cy="289.79" rx="0.7" ry="0.55" fill="#4a3a8a" fill-opacity="0.5"/>
<ellipse cx="264.04" cy="290.01" rx="1.34" ry="1.19" fill="#4e388c" fill-opacity="0.65"/>
<ellipse cx="266.38" cy="289.83" rx="1.56" ry="1.36" fill="#4e388c" fill-opacity="0.68"/>
<ellipse cx="269.29" cy="289.28" rx="1.85" ry="1.35" fill="#4e388c" fill-opacity="0.86"/>
<ellipse cx="272.67" cy="289.27" rx="0.7" ry="0.55" fill="#4a3a8a" fill-opacity="0.5"/>
<ellipse cx="275.11" cy="288.31" rx="1.82" ry="1.35" fill="#4e388c" fill-opacity="0.88"/>
<ellipse cx="278.63" cy="288.14" rx="0.7" ry="0.55" fill="#4a3a8a" fill-opacity="0.5"/>
<ellipse cx="281.71" cy="287.42" rx="0.7" ry="0.55" fill="#4a3a8a" fill-opacity="0.5"/>
<ellipse cx="285.12" cy="287.94" rx="0.7" ry="0.55" fill="#4a3a8a" fill-opacity="0.5"/>
<ellipse cx="287.64" cy="287.51" rx="1.55" ry="1.1" fill="#4e388c" fill-opacity="0.86"/>
<ellipse cx="290.67" cy="287.34" rx="0.7" ry="0.55" fill="#4a3a8a" fill-opacity="0.5"/>
<ellipse cx="294.22" cy="287.18" rx="1.55" ry="1.18" fill="#4e388c" fill-opacity="0.69"/>
<ellipse cx="296.75" cy="287.91" rx="0.7" ry="0.55" fill="#4a3a8a" fill-opacity="0.5"/>
<ellipse cx="299.82" cy="288.27" rx="0.7" ry="0.55" fill="#4a3a8a" fill-opacity="0.5"/>
<ellipse cx="303.21" cy="287.02" rx="0.7" ry="0.55" fill="#4a3a8a" fill-opacity="0.5"/>
</g>
<clipPath id="c7"><rect x="309.6" y="275.55" width="55.6" height="22.9"/></clipPath>
<linearGradient id="g7" x1="0.3" y1="0" x2="0" y2="1"><stop offset="0" stop-color="#e2dae6" stop-opacity="0.6"/><stop offset="0.8" stop-color="#e2dae6"/></linearGradient>
<g clip-path="url(#c7)">
<rect x="309.6" y="275.55" width="55.6" height="22.9" fill="#f3f1f3"/>
<path d="M309.6 275.55 L309.6 293.08 L314.23 292.3 L318.87 291.61 L323.5 291.03 L328.13 290.53 L332.77 290.11 L337.4 289.77 L342.03 289.5 L346.67 289.29 L351.3 289.14 L355.93 289.03 L360.57 288.96 L365.2 288.92 L365.2 275.55Z" fill="url(#g7)"/>
<path d="M309.6 291.28 L313.08 290.71 L316.55 290.21 L320.03 289.75 L323.5 289.35 L326.98 289 L330.45 288.7 L333.93 288.44 L337.4 288.22 L340.88 288.04 L344.35 287.9 L347.83 287.79 L351.3 287.72" fill="none" stroke="#5a4890" stroke-opacity="0.22" stroke-width="2.4" stroke-linecap="round"/>
<ellipse cx="310.67" cy="291.74" rx="1.6" ry="1.37" fill="#4e388c" fill-opacity="0.61"/>
<ellipse cx="312.83" cy="291.98" rx="0.7" ry="0.55" fill="#4a3a8a" fill-opacity="0.5"/>
<ellipse cx="316.14" cy="290.25" rx="1.41" ry="1" fill="#4e388c" fill-opacity="0.71"/>
<ellipse cx="318.27" cy="290.33" rx="1.98" ry="1.13" fill="#4e388c" fill-opacity="0.7"/>
<ellipse cx="320.82" cy="290.25" rx="1.78" ry="1.44" fill="#4e388c" fill-opacity="0.64"/>
<ellipse cx="323.66" cy="289.42" rx="1.86" ry="1.24" fill="#4e388c" fill-opacity="0.76"/>
<ellipse cx="325.77" cy="289.67" rx="0.7" ry="0.55" fill="#4a3a8a" fill-opacity="0.5"/>
<ellipse cx="328.48" cy="288.22" rx="0.7" ry="0.55" fill="#4a3a8a" fill-opacity="0.5"/>
<ellipse cx="331.76" cy="288.49" rx="1.91" ry="1.3" fill="#4e388c" fill-opacity="0.93"/>
<ellipse cx="333.94" cy="289.1" rx="0.7" ry="0.55" fill="#4a3a8a" fill-opacity="0.5"/>
<ellipse cx="335.99" cy="288.65" rx="0.7" ry="0.55" fill="#4a3a8a" fill-opacity="0.5"/>
<ellipse cx="339.09" cy="288.92" rx="0.7" ry="0.55" fill="#4a3a8a" fill-opacity="0.5"/>
<ellipse cx="341.82" cy="287.8" rx="0.7" ry="0.55" fill="#4a3a8a" fill-opacity="0.5"/>
<ellipse cx="344.98" cy="287.91" rx="0.7" ry="0.55" fill="#4a3a8a" fill-opacity="0.5"/>
<ellipse cx="347.6" cy="288.36" rx="1.85" ry="1.13" fill="#4e388c" fill-opacity="0.65"/>
<ellipse cx="350.28" cy="288.08" rx="0.7" ry="0.55" fill="#4a3a8a" fill-opacity="0.5"/>
</g>
<rect x="250.8" y="301.35" width="116.3" height="25.0" fill="#fff" stroke="#c4c4c4" stroke-width="1"/>
<text x="246.5" y="316" font-size="6.7" stroke="#222" stroke-width="0.12" text-anchor="end"><tspan font-style="italic">smarca4a</tspan> MO</text>
<clipPath id="c8"><rect x="251.8" y="302.45" width="55.6" height="22.9"/></clipPath>
<linearGradient id="g8" x1="0.3" y1="0" x2="0" y2="1"><stop offset="0" stop-color="#d8d0e0" stop-opacity="0.6"/><stop offset="0.8" stop-color="#d8d0e0"/></linearGradient>
<g clip-path="url(#c8)">
<rect x="251.8" y="302.45" width="55.6" height="22.9" fill="#f3f1f3"/>
<path d="M251.8 302.45 L251.8 321.81 L256.43 320.56 L261.07 319.48 L265.7 318.55 L270.33 317.77 L274.97 317.12 L279.6 316.59 L284.23 316.18 L288.87 315.87 L293.5 315.64 L298.13 315.5 L302.77 315.41 L307.4 315.36 L307.4 302.45Z" fill="url(#g8)"/>
<path d="M251.8 320.01 L255.41 319.06 L259.03 318.2 L262.64 317.45 L266.26 316.78 L269.87 316.2 L273.48 315.7 L277.1 315.29 L280.71 314.94 L284.33 314.66 L287.94 314.45 L291.55 314.29 L295.17 314.17" fill="none" stroke="#5a4890" stroke-opacity="0.22" stroke-width="2.4" stroke-linecap="round"/>
<ellipse cx="252.38" cy="320.19" rx="1.87" ry="0.95" fill="#4e388c" fill-opacity="0.69"/>
<ellipse cx="255.2" cy="319.23" rx="2.04" ry="1.17" fill="#4e388c" fill-opacity="0.69"/>
<ellipse cx="257.67" cy="318.89" rx="1.87" ry="1.14" fill="#4e388c" fill-opacity="0.68"/>
<ellipse cx="260.81" cy="317.94" rx="1.68" ry="1.08" fill="#4e388c" fill-opacity="0.69"/>
<ellipse cx="262.97" cy="317.83" rx="1.79" ry="1.22" fill="#4e388c" fill-opacity="0.79"/>
<ellipse cx="265.93" cy="316.66" rx="1.29" ry="1.09" fill="#4e388c" fill-opacity="0.71"/>
<ellipse cx="268.86" cy="316.26" rx="0.7" ry="0.55" fill="#4a3a8a" fill-opacity="0.5"/>
<ellipse cx="271.41" cy="316.34" rx="1.76" ry="1.19" fill="#4e388c" fill-opacity="0.69"/>
<ellipse cx="274.68" cy="315.84" rx="1.41" ry="1.22" fill="#4e388c" fill-opacity="0.83"/>
<ellipse cx="277.1" cy="315.63" rx="1.67" ry="1.25" fill="#4e388c" fill-opacity="0.61"/>
<ellipse cx="280.17" cy="314.95" rx="1.34" ry="1.19" fill="#4e388c" fill-opacity="0.65"/>
<ellipse cx="283.21" cy="315.24" rx="0.7" ry="0.55" fill="#4a3a8a" fill-opacity="0.5"/>
<ellipse cx="286.21" cy="315.11" rx="1.78" ry="1.2" fill="#4e388c" fill-opacity="0.72"/>
<ellipse cx="288.6" cy="313.91" rx="0.7" ry="0.55" fill="#4a3a8a" fill-opacity="0.5"/>
<ellipse cx="291.17" cy="314.51" rx="1.84" ry="1.18" fill="#4e388c" fill-opacity="0.65"/>
<ellipse cx="294.21" cy="314.18" rx="0.7" ry="0.55" fill="#4a3a8a" fill-opacity="0.5"/>
</g>
<clipPath id="c9"><rect x="309.6" y="302.45" width="55.6" height="22.9"/></clipPath>
<linearGradient id="g9" x1="0.3" y1="0" x2="0" y2="1"><stop offset="0" stop-color="#dcd6e4" stop-opacity="0.6"/><stop offset="0.8" stop-color="#dcd6e4"/></linearGradient>
<g clip-path="url(#c9)">
<rect x="309.6" y="302.45" width="55.6" height="22.9" fill="#f3f1f3"/>
<path d="M309.6 302.45 L309.6 322.96 L314.23 321.48 L318.87 320.19 L323.5 319.09 L328.13 318.17 L332.77 317.4 L337.4 316.78 L342.03 316.3 L346.67 315.93 L351.3 315.68 L355.93 315.51 L360.57 315.41 L365.2 315.36 L365.2 302.45Z" fill="url(#g9)"/>
<path d="M309.6 321.16 L313.77 319.85 L317.94 318.71 L322.11 317.72 L326.28 316.87 L330.45 316.15 L334.62 315.56 L338.79 315.08 L342.96 314.71 L347.13 314.44 L351.3 314.25 L355.47 314.13 L359.64 314.08" fill="none" stroke="#5a4890" stroke-opacity="0.22" stroke-width="2.4" stroke-linecap="round"/>
<ellipse cx="310.36" cy="321.38" rx="0.7" ry="0.55" fill="#4a3a8a" fill-opacity="0.5"/>
<ellipse cx="313" cy="320.33" rx="1.51" ry="1.28" fill="#4e388c" fill-opacity="0.82"/>
<ellipse cx="315" cy="319.71" rx="1.28" ry="1.26" fill="#4e388c" fill-opacity="0.85"/>
<ellipse cx="317.78" cy="319.02" rx="1.77" ry="0.98" fill="#4e388c" fill-opacity="0.83"/>
<ellipse cx="319.82" cy="318.59" rx="1.98" ry="0.99" fill="#4e388c" fill-opacity="0.93"/>
<ellipse cx="321.94" cy="317.91" rx="1.87" ry="1.38" fill="#4e388c" fill-opacity="0.85"/>
<ellipse cx="324.7" cy="316.87" rx="1.46" ry="1.07" fill="#4e388c" fill-opacity="0.84"/>
<ellipse cx="328.06" cy="316.63" rx="1.78" ry="1.02" fill="#4e388c" fill-opacity="0.84"/>
<ellipse cx="330.55" cy="316.19" rx="0.7" ry="0.55" fill="#4a3a8a" fill-opacity="0.5"/>
<ellipse cx="333.36" cy="316.08" rx="1.26" ry="1.15" fill="#4e388c" fill-opacity="0.87"/>
<ellipse cx="335.49" cy="315.69" rx="1.31" ry="1.26" fill="#4e388c" fill-opacity="0.92"/>
<ellipse cx="338.41" cy="315.56" rx="1.79" ry="1.36" fill="#4e388c" fill-opacity="0.61"/>
<ellipse cx="340.46" cy="315.74" rx="1.9" ry="1.27" fill="#4e388c" fill-opacity="0.73"/>
<ellipse cx="342.54" cy="315.34" rx="1.54" ry="1.13" fill="#4e388c" fill-opacity="0.81"/>
<ellipse cx="345.07" cy="314.45" rx="1.38" ry="1.3" fill="#4e388c" fill-opacity="0.67"/>
<ellipse cx="347.35" cy="314.81" rx="0.7" ry="0.55" fill="#4a3a8a" fill-opacity="0.5"/>
<ellipse cx="349.88" cy="314.37" rx="1.26" ry="1.08" fill="#4e388c" fill-opacity="0.93"/>
<ellipse cx="351.84" cy="314.45" rx="0.7" ry="0.55" fill="#4a3a8a" fill-opacity="0.5"/>
<ellipse cx="354.02" cy="314.3" rx="1.65" ry="1.17" fill="#4e388c" fill-opacity="0.66"/>
<ellipse cx="356.62" cy="314.16" rx="1.65" ry="1.26" fill="#4e388c" fill-opacity="0.71"/>
</g>
<rect x="250.8" y="328.25" width="116.3" height="25.0" fill="#fff" stroke="#c4c4c4" stroke-width="1"/>
<text x="246.5" y="343" font-size="6.7" stroke="#222" stroke-width="0.12" text-anchor="end"><tspan font-style="italic">bptf</tspan> MO</text>
<clipPath id="c10"><rect x="251.8" y="329.35" width="55.6" height="22.9"/></clipPath>
<linearGradient id="g10" x1="0.3" y1="0" x2="0" y2="1"><stop offset="0" stop-color="#e2d6d8" stop-opacity="0.6"/><stop offset="0.8" stop-color="#e2d6d8"/></linearGradient>
<g clip-path="url(#c10)">
<rect x="251.8" y="329.35" width="55.6" height="22.9" fill="#f3f1f3"/>
<path d="M251.8 329.35 L251.8 349.17 L256.43 348.02 L261.07 347.01 L265.7 346.15 L270.33 345.42 L274.97 344.82 L279.6 344.33 L284.23 343.95 L288.87 343.66 L293.5 343.45 L298.13 343.31 L302.77 343.22 L307.4 343.17 L307.4 329.35Z" fill="url(#g10)"/>
<path d="M251.8 347.37 L255.88 346.38 L259.95 345.51 L264.03 344.75 L268.11 344.1 L272.19 343.55 L276.26 343.09 L280.34 342.72 L284.42 342.43 L288.5 342.21 L292.57 342.05 L296.65 341.95 L300.73 341.9" fill="none" stroke="#5a4890" stroke-opacity="0.22" stroke-width="2.4" stroke-linecap="round"/>
<ellipse cx="252.29" cy="347.06" rx="1.68" ry="1.48" fill="#4e388c" fill-opacity="0.81"/>
<ellipse cx="254.31" cy="346.81" rx="1.66" ry="1.36" fill="#4e388c" fill-opacity="0.7"/>
<ellipse cx="257.44" cy="346.57" rx="1.48" ry="1.2" fill="#4e388c" fill-opacity="0.8"/>
<ellipse cx="260.06" cy="345.49" rx="1.74" ry="1.19" fill="#4e388c" fill-opacity="0.81"/>
<ellipse cx="262.74" cy="345.58" rx="1.23" ry="1.12" fill="#4e388c" fill-opacity="0.61"/>
<ellipse cx="264.96" cy="345.14" rx="1.88" ry="1.14" fill="#4e388c" fill-opacity="0.86"/>
<ellipse cx="267.38" cy="344.82" rx="1.86" ry="1.16" fill="#4e388c" fill-opacity="0.7"/>
<ellipse cx="269.51" cy="343.39" rx="0.7" ry="0.55" fill="#4a3a8a" fill-opacity="0.5"/>
<ellipse cx="271.81" cy="343.55" rx="1.52" ry="0.97" fill="#4e388c" fill-opacity="0.64"/>
<ellipse cx="274.74" cy="343.13" rx="1.45" ry="1.1" fill="#4e388c" fill-opacity="0.87"/>
<ellipse cx="277.82" cy="343.56" rx="1.61" ry="0.98" fill="#4e388c" fill-opacity="0.66"/>
<ellipse cx="280.15" cy="343.14" rx="1.66" ry="1.24" fill="#4e388c" fill-opacity="0.75"/>
<ellipse cx="282.47" cy="343.12" rx="1.37" ry="1.19" fill="#4e388c" fill-opacity="0.67"/>
<ellipse cx="285.39" cy="342.29" rx="1.23" ry="1.05" fill="#4e388c" fill-opacity="0.86"/>
<ellipse cx="288.54" cy="342.58" rx="1.44" ry="1.12" fill="#4e388c" fill-opacity="0.66"/>
<ellipse cx="291.81" cy="342.62" rx="1.6" ry="0.95" fill="#4e388c" fill-opacity="0.87"/>
<ellipse cx="293.76" cy="342.85" rx="0.7" ry="0.55" fill="#4a3a8a" fill-opacity="0.5"/>
<ellipse cx="296.58" cy="342.07" rx="1.74" ry="1.31" fill="#4e388c" fill-opacity="0.87"/>
<ellipse cx="299.38" cy="342.42" rx="0.7" ry="0.55" fill="#4a3a8a" fill-opacity="0.5"/>
</g>
<clipPath id="c11"><rect x="309.6" y="329.35" width="55.6" height="22.9"/></clipPath>
<linearGradient id="g11" x1="0.3" y1="0" x2="0" y2="1"><stop offset="0" stop-color="#e4d8db" stop-opacity="0.6"/><stop offset="0.8" stop-color="#e4d8db"/></linearGradient>
<g clip-path="url(#c11)">
<rect x="309.6" y="329.35" width="55.6" height="22.9" fill="#f3f1f3"/>
<path d="M309.6 329.35 L309.6 348.71 L314.23 347.51 L318.87 346.47 L323.5 345.57 L328.13 344.82 L332.77 344.19 L337.4 343.68 L342.03 343.28 L346.67 342.98 L351.3 342.77 L355.93 342.62 L360.57 342.54 L365.2 342.49 L365.2 329.35Z" fill="url(#g11)"/>
<path d="M309.6 346.91 L313.4 345.95 L317.2 345.09 L321 344.34 L324.8 343.68 L328.6 343.12 L332.4 342.64 L336.2 342.24 L339.99 341.92 L343.79 341.67 L347.59 341.47 L351.39 341.34 L355.19 341.25" fill="none" stroke="#5a4890" stroke-opacity="0.22" stroke-width="2.4" stroke-linecap="round"/>
<ellipse cx="310.02" cy="346.4" rx="1.52" ry="1.18" fill="#4e388c" fill-opacity="0.84"/>
<ellipse cx="312.53" cy="346.61" rx="2.11" ry="1.05" fill="#4e388c" fill-opacity="0.66"/>
<ellipse cx="315.17" cy="346.05" rx="1.46" ry="1.31" fill="#4e388c" fill-opacity="0.82"/>
<ellipse cx="318.49" cy="344.96" rx="2.09" ry="1.39" fill="#4e388c" fill-opacity="0.67"/>
<ellipse cx="320.75" cy="344.55" rx="1.56" ry="1.3" fill="#4e388c" fill-opacity="0.86"/>
<ellipse cx="323.8" cy="344.31" rx="1.71" ry="1.19" fill="#4e388c" fill-opacity="0.64"/>
<ellipse cx="326.77" cy="343.27" rx="1.23" ry="1.15" fill="#4e388c" fill-opacity="0.8"/>
<ellipse cx="329.82" cy="343.1" rx="1.63" ry="1.07" fill="#4e388c" fill-opacity="0.78"/>
<ellipse cx="332.89" cy="342.16" rx="1.48" ry="1.24" fill="#4e388c" fill-opacity="0.69"/>
<ellipse cx="335.12" cy="342.44" rx="1.88" ry="1.09" fill="#4e388c" fill-opacity="0.94"/>
<ellipse cx="337.24" cy="342.33" rx="1.45" ry="1.17" fill="#4e388c" fill-opacity="0.84"/>
<ellipse cx="339.27" cy="342.62" rx="1.38" ry="1.12" fill="#4e388c" fill-opacity="0.75"/>
<ellipse cx="342.51" cy="342.46" rx="0.7" ry="0.55" fill="#4a3a8a" fill-opacity="0.5"/>
<ellipse cx="345.73" cy="342.21" rx="1.73" ry="1.13" fill="#4e388c" fill-opacity="0.75"/>
<ellipse cx="347.76" cy="341.56" rx="0.7" ry="0.55" fill="#4a3a8a" fill-opacity="0.5"/>
<ellipse cx="350.51" cy="341.14" rx="0.7" ry="0.55" fill="#4a3a8a" fill-opacity="0.5"/>
<ellipse cx="352.87" cy="341.21" rx="1.75" ry="1.11" fill="#4e388c" fill-opacity="0.66"/>
</g>
<rect x="250.8" y="355.15" width="116.3" height="25.0" fill="#fff" stroke="#c4c4c4" stroke-width="1"/>
<text x="246.5" y="370" font-size="6.7" stroke="#222" stroke-width="0.12" text-anchor="end"><tspan font-style="italic">smarca5</tspan> MO</text>
<clipPath id="c12"><rect x="251.8" y="356.25" width="55.6" height="22.9"/></clipPath>
<linearGradient id="g12" x1="0.3" y1="0" x2="0" y2="1"><stop offset="0" stop-color="#e4dcdc" stop-opacity="0.6"/><stop offset="0.8" stop-color="#e4dcdc"/></linearGradient>
<g clip-path="url(#c12)">
<rect x="251.8" y="356.25" width="55.6" height="22.9" fill="#f3f1f3"/>
<path d="M251.8 356.25 L251.8 373.09 L256.43 372.73 L261.07 372.4 L265.7 372.12 L270.33 371.88 L274.97 371.68 L279.6 371.5 L284.23 371.36 L288.87 371.25 L293.5 371.16 L298.13 371.09 L302.77 371.03 L307.4 370.99 L307.4 356.25Z" fill="url(#g12)"/>
<path d="M251.8 371.29 L255.14 371.05 L258.47 370.84 L261.81 370.65 L265.14 370.48 L268.48 370.32 L271.82 370.19 L275.15 370.08 L278.49 369.98 L281.82 369.9 L285.16 369.84 L288.5 369.79 L291.83 369.75" fill="none" stroke="#5a4890" stroke-opacity="0.22" stroke-width="2.4" stroke-linecap="round"/>
<ellipse cx="252.42" cy="371.79" rx="1.81" ry="1.05" fill="#4e388c" fill-opacity="0.73"/>
<ellipse cx="255.5" cy="371.26" rx="0.7" ry="0.55" fill="#4a3a8a" fill-opacity="0.5"/>
<ellipse cx="257.98" cy="371.49" rx="1.49" ry="0.96" fill="#4e388c" fill-opacity="0.65"/>
<ellipse cx="260.81" cy="371.15" rx="1.79" ry="1.33" fill="#4e388c" fill-opacity="0.7"/>
<ellipse cx="262.91" cy="370.47" rx="0.7" ry="0.55" fill="#4a3a8a" fill-opacity="0.5"/>
<ellipse cx="264.93" cy="370.54" rx="1.86" ry="1.01" fill="#4e388c" fill-opacity="0.74"/>
<ellipse cx="267.98" cy="370.64" rx="1.65" ry="1.08" fill="#4e388c" fill-opacity="0.84"/>
<ellipse cx="270.29" cy="370.51" rx="0.7" ry="0.55" fill="#4a3a8a" fill-opacity="0.5"/>
<ellipse cx="272.81" cy="370.31" rx="1.85" ry="0.97" fill="#4e388c" fill-opacity="0.8"/>
<ellipse cx="275.92" cy="370.3" rx="1.41" ry="1.28" fill="#4e388c" fill-opacity="0.79"/>
<ellipse cx="278.13" cy="369.94" rx="0.7" ry="0.55" fill="#4a3a8a" fill-opacity="0.5"/>
<ellipse cx="280.66" cy="370.44" rx="0.7" ry="0.55" fill="#4a3a8a" fill-opacity="0.5"/>
<ellipse cx="283.43" cy="370.2" rx="0.7" ry="0.55" fill="#4a3a8a" fill-opacity="0.5"/>
<ellipse cx="286.86" cy="370.19" rx="1.32" ry="1.06" fill="#4e388c" fill-opacity="0.7"/>
<ellipse cx="289.49" cy="369.85" rx="0.7" ry="0.55" fill="#4a3a8a" fill-opacity="0.5"/>
<ellipse cx="291.65" cy="369.92" rx="0.7" ry="0.55" fill="#4a3a8a" fill-opacity="0.5"/>
</g>
<clipPath id="c13"><rect x="309.6" y="356.25" width="55.6" height="22.9"/></clipPath>
<linearGradient id="g13" x1="0.3" y1="0" x2="0" y2="1"><stop offset="0" stop-color="#e6dcdf" stop-opacity="0.6"/><stop offset="0.8" stop-color="#e6dcdf"/></linearGradient>
<g clip-path="url(#c13)">
<rect x="309.6" y="356.25" width="55.6" height="22.9" fill="#f3f1f3"/>
<path d="M309.6 356.25 L309.6 376.99 L314.23 375.6 L318.87 374.4 L323.5 373.36 L328.13 372.49 L332.77 371.77 L337.4 371.19 L342.03 370.74 L346.67 370.39 L351.3 370.15 L355.93 369.99 L360.57 369.9 L365.2 369.85 L365.2 356.25Z" fill="url(#g13)"/>
<path d="M309.6 375.19 L313.68 373.99 L317.75 372.94 L321.83 372.03 L325.91 371.24 L329.99 370.57 L334.06 370.02 L338.14 369.57 L342.22 369.21 L346.3 368.95 L350.37 368.76 L354.45 368.64 L358.53 368.57" fill="none" stroke="#5a4890" stroke-opacity="0.22" stroke-width="2.4" stroke-linecap="round"/>
<ellipse cx="310.14" cy="374.81" rx="0.7" ry="0.55" fill="#4a3a8a" fill-opacity="0.5"/>
<ellipse cx="312.17" cy="374.59" rx="2.09" ry="1.15" fill="#4e388c" fill-opacity="0.94"/>
<ellipse cx="315.43" cy="373.48" rx="0.7" ry="0.55" fill="#4a3a8a" fill-opacity="0.5"/>
<ellipse cx="317.52" cy="373.2" rx="1.67" ry="1.04" fill="#4e388c" fill-opacity="0.79"/>
<ellipse cx="319.96" cy="372.58" rx="1.56" ry="1.32" fill="#4e388c" fill-opacity="0.61"/>
<ellipse cx="322.53" cy="372.26" rx="1.21" ry="1.14" fill="#4e388c" fill-opacity="0.73"/>
<ellipse cx="325.68" cy="372.1" rx="1.92" ry="1.31" fill="#4e388c" fill-opacity="0.78"/>
<ellipse cx="327.78" cy="371.07" rx="1.37" ry="0.99" fill="#4e388c" fill-opacity="0.87"/>
<ellipse cx="331" cy="370.66" rx="0.7" ry="0.55" fill="#4a3a8a" fill-opacity="0.5"/>
<ellipse cx="333.24" cy="370.65" rx="0.7" ry="0.55" fill="#4a3a8a" fill-opacity="0.5"/>
<ellipse cx="335.99" cy="370.36" rx="1.32" ry="1.17" fill="#4e388c" fill-opacity="0.8"/>
<ellipse cx="338.2" cy="369.92" rx="0.7" ry="0.55" fill="#4a3a8a" fill-opacity="0.5"/>
<ellipse cx="341.3" cy="369.44" rx="1.59" ry="1.33" fill="#4e388c" fill-opacity="0.95"/>
<ellipse cx="344.63" cy="368.97" rx="0.7" ry="0.55" fill="#4a3a8a" fill-opacity="0.5"/>
<ellipse cx="348.17" cy="368.72" rx="1.34" ry="0.97" fill="#4e388c" fill-opacity="0.72"/>
<ellipse cx="350.2" cy="369" rx="0.7" ry="0.55" fill="#4a3a8a" fill-opacity="0.5"/>
<ellipse cx="353.23" cy="369.1" rx="1.55" ry="1.21" fill="#4e388c" fill-opacity="0.72"/>
<ellipse cx="355.36" cy="369.23" rx="1.27" ry="0.98" fill="#4e388c" fill-opacity="0.94"/>
<ellipse cx="357.63" cy="368.86" rx="1.51" ry="1.19" fill="#4e388c" fill-opacity="0.78"/>
</g>
<rect x="250.8" y="382.05" width="116.3" height="25.0" fill="#fff" stroke="#c4c4c4" stroke-width="1"/>
<text x="246.5" y="397" font-size="6.7" stroke="#222" stroke-width="0.12" text-anchor="end"><tspan font-style="italic">ino80</tspan> MO</text>
<clipPath id="c14"><rect x="251.8" y="383.15" width="55.6" height="22.9"/></clipPath>
<linearGradient id="g14" x1="0.3" y1="0" x2="0" y2="1"><stop offset="0" stop-color="#d8d0e2" stop-opacity="0.6"/><stop offset="0.8" stop-color="#d8d0e2"/></linearGradient>
<g clip-path="url(#c14)">
<rect x="251.8" y="383.15" width="55.6" height="22.9" fill="#f3f1f3"/>
<path d="M251.8 383.15 L251.8 401.6 L256.43 400.58 L261.07 399.7 L265.7 398.94 L270.33 398.3 L274.97 397.76 L279.6 397.33 L284.23 396.99 L288.87 396.73 L293.5 396.54 L298.13 396.42 L302.77 396.34 L307.4 396.29 L307.4 383.15Z" fill="url(#g14)"/>
<path d="M251.8 399.8 L255.88 398.93 L259.95 398.17 L264.03 397.51 L268.11 396.94 L272.19 396.45 L276.26 396.05 L280.34 395.73 L284.42 395.47 L288.5 395.28 L292.57 395.14 L296.65 395.05 L300.73 395.01" fill="none" stroke="#5a4890" stroke-opacity="0.22" stroke-width="2.4" stroke-linecap="round"/>
<ellipse cx="252.89" cy="399.56" rx="1.49" ry="1.09" fill="#4e388c" fill-opacity="0.6"/>
<ellipse cx="255.39" cy="399.48" rx="1.83" ry="1.06" fill="#4e388c" fill-opacity="0.85"/>
<ellipse cx="258.35" cy="398.89" rx="2.02" ry="1.05" fill="#4e388c" fill-opacity="0.86"/>
<ellipse cx="261.43" cy="398.43" rx="2.09" ry="1.03" fill="#4e388c" fill-opacity="0.83"/>
<ellipse cx="263.98" cy="398.02" rx="1.28" ry="1.02" fill="#4e388c" fill-opacity="0.7"/>
<ellipse cx="266.58" cy="397.9" rx="1.63" ry="1.34" fill="#4e388c" fill-opacity="0.6"/>
<ellipse cx="268.92" cy="397.6" rx="1.63" ry="1.18" fill="#4e388c" fill-opacity="0.62"/>
<ellipse cx="272.02" cy="397.06" rx="0.7" ry="0.55" fill="#4a3a8a" fill-opacity="0.5"/>
<ellipse cx="275.46" cy="397.02" rx="0.7" ry="0.55" fill="#4a3a8a" fill-opacity="0.5"/>
<ellipse cx="277.92" cy="396.11" rx="1.44" ry="1.08" fill="#4e388c" fill-opacity="0.72"/>
<ellipse cx="281.31" cy="396.35" rx="1.33" ry="1.06" fill="#4e388c" fill-opacity="0.85"/>
<ellipse cx="284.38" cy="396.13" rx="0.7" ry="0.55" fill="#4a3a8a" fill-opacity="0.5"/>
<ellipse cx="286.61" cy="395.64" rx="1.74" ry="1.27" fill="#4e388c" fill-opacity="0.74"/>
<ellipse cx="289.69" cy="395.36" rx="1.42" ry="1.27" fill="#4e388c" fill-opacity="0.63"/>
<ellipse cx="292.14" cy="395.4" rx="1.83" ry="1.1" fill="#4e388c" fill-opacity="0.76"/>
<ellipse cx="294.5" cy="395.49" rx="0.7" ry="0.55" fill="#4a3a8a" fill-opacity="0.5"/>
<ellipse cx="297.75" cy="395.67" rx="0.7" ry="0.55" fill="#4a3a8a" fill-opacity="0.5"/>
</g>
<clipPath id="c15"><rect x="309.6" y="383.15" width="55.6" height="22.9"/></clipPath>
<linearGradient id="g15" x1="0.3" y1="0" x2="0" y2="1"><stop offset="0" stop-color="#dcd4e2" stop-opacity="0.6"/><stop offset="0.8" stop-color="#dcd4e2"/></linearGradient>
<g clip-path="url(#c15)">
<rect x="309.6" y="383.15" width="55.6" height="22.9" fill="#f3f1f3"/>
<path d="M309.6 383.15 L309.6 401.6 L314.23 400.35 L318.87 399.26 L323.5 398.34 L328.13 397.55 L332.77 396.9 L337.4 396.37 L342.03 395.96 L346.67 395.65 L351.3 395.43 L355.93 395.28 L360.57 395.19 L365.2 395.14 L365.2 383.15Z" fill="url(#g15)"/>
<path d="M309.6 399.8 L313.77 398.7 L317.94 397.74 L322.11 396.91 L326.28 396.2 L330.45 395.6 L334.62 395.1 L338.79 394.7 L342.96 394.39 L347.13 394.16 L351.3 394 L355.47 393.91 L359.64 393.86" fill="none" stroke="#5a4890" stroke-opacity="0.22" stroke-width="2.4" stroke-linecap="round"/>
<ellipse cx="309.83" cy="399.61" rx="0.7" ry="0.55" fill="#4a3a8a" fill-opacity="0.5"/>
<ellipse cx="312.93" cy="399.07" rx="1.46" ry="1.17" fill="#4e388c" fill-opacity="0.69"/>
<ellipse cx="316.43" cy="398.59" rx="1.9" ry="1.34" fill="#4e388c" fill-opacity="0.7"/>
<ellipse cx="319.21" cy="397.76" rx="1.78" ry="1.14" fill="#4e388c" fill-opacity="0.89"/>
<ellipse cx="322.47" cy="396.96" rx="1.84" ry="1.13" fill="#4e388c" fill-opacity="0.85"/>
<ellipse cx="325.45" cy="396.19" rx="1.41" ry="1.25" fill="#4e388c" fill-opacity="0.86"/>
<ellipse cx="328.9" cy="395.64" rx="1.21" ry="1.17" fill="#4e388c" fill-opacity="0.93"/>
<ellipse cx="331.8" cy="395.89" rx="0.7" ry="0.55" fill="#4a3a8a" fill-opacity="0.5"/>
<ellipse cx="335.29" cy="395.67" rx="0.7" ry="0.55" fill="#4a3a8a" fill-opacity="0.5"/>
<ellipse cx="338.46" cy="395.66" rx="1.42" ry="1.1" fill="#4e388c" fill-opacity="0.83"/>
<ellipse cx="341.28" cy="394.95" rx="0.7" ry="0.55" fill="#4a3a8a" fill-opacity="0.5"/>
<ellipse cx="344.76" cy="394.99" rx="1.44" ry="1.21" fill="#4e388c" fill-opacity="0.7"/>
<ellipse cx="346.89" cy="394.8" rx="1.5" ry="1.33" fill="#4e388c" fill-opacity="0.8"/>
<ellipse cx="349.49" cy="394.51" rx="1.68" ry="1.25" fill="#4e388c" fill-opacity="0.68"/>
<ellipse cx="352.53" cy="394.47" rx="1.59" ry="1.24" fill="#4e388c" fill-opacity="0.67"/>
<ellipse cx="355.81" cy="394.12" rx="1.43" ry="1.3" fill="#4e388c" fill-opacity="0.82"/>
<ellipse cx="357.94" cy="394" rx="1.3" ry="1.06" fill="#4e388c" fill-opacity="0.88"/>
</g>
<line x1="202.6" y1="218.4" x2="202.6" y2="267.1" stroke="#111" stroke-width="1"/>
<text x="197.7" y="243.1" font-size="7" stroke="#1a1a1a" stroke-width="0.12" text-anchor="middle" fill="#1a1a1a" textLength="12.8" lengthAdjust="spacingAndGlyphs" transform="rotate(-90 197.7 243.1)">CHD</text>
<line x1="202.6" y1="273.1" x2="202.6" y2="324.7" stroke="#111" stroke-width="1"/>
<text x="197.7" y="298.1" font-size="7" stroke="#1a1a1a" stroke-width="0.12" text-anchor="middle" fill="#1a1a1a" textLength="26.7" lengthAdjust="spacingAndGlyphs" transform="rotate(-90 197.7 298.1)">SWI/SNF</text>
<line x1="202.6" y1="327.6" x2="202.6" y2="378.8" stroke="#111" stroke-width="1"/>
<text x="197.7" y="351.4" font-size="7" stroke="#1a1a1a" stroke-width="0.12" text-anchor="middle" fill="#1a1a1a" textLength="14.2" lengthAdjust="spacingAndGlyphs" transform="rotate(-90 197.7 351.4)">ISWI</text>
<line x1="202.6" y1="381.7" x2="202.6" y2="406.6" stroke="#111" stroke-width="1"/>
<text x="197.7" y="393.2" font-size="7" stroke="#1a1a1a" stroke-width="0.12" text-anchor="middle" fill="#1a1a1a" textLength="19.5" lengthAdjust="spacingAndGlyphs" transform="rotate(-90 197.7 393.2)">INO80</text>
<line x1="403.5" y1="208.68" x2="403.5" y2="281.9" stroke="#111" stroke-width="1.2"/>
<line x1="403" y1="281.3" x2="508.4" y2="281.3" stroke="#111" stroke-width="1.2"/>
<line x1="401" y1="281.3" x2="403.5" y2="281.3" stroke="#111" stroke-width="0.9"/>
<text x="398.1" y="283.8" font-size="7" stroke="#1a1a1a" stroke-width="0.12" text-anchor="end" fill="#1a1a1a" textLength="3.7" lengthAdjust="spacingAndGlyphs">0</text>
<line x1="401" y1="263.8" x2="403.5" y2="263.8" stroke="#111" stroke-width="0.9"/>
<text x="398.1" y="266.3" font-size="7" stroke="#1a1a1a" stroke-width="0.12" text-anchor="end" fill="#1a1a1a" textLength="7.7" lengthAdjust="spacingAndGlyphs">20</text>
<line x1="401" y1="246.3" x2="403.5" y2="246.3" stroke="#111" stroke-width="0.9"/>
<text x="398.1" y="248.8" font-size="7" stroke="#1a1a1a" stroke-width="0.12" text-anchor="end" fill="#1a1a1a" textLength="7.7" lengthAdjust="spacingAndGlyphs">40</text>
<line x1="401" y1="228.8" x2="403.5" y2="228.8" stroke="#111" stroke-width="0.9"/>
<text x="398.1" y="231.3" font-size="7" stroke="#1a1a1a" stroke-width="0.12" text-anchor="end" fill="#1a1a1a" textLength="7.7" lengthAdjust="spacingAndGlyphs">60</text>
<line x1="401" y1="211.3" x2="403.5" y2="211.3" stroke="#111" stroke-width="0.9"/>
<text x="398.1" y="213.8" font-size="7" stroke="#1a1a1a" stroke-width="0.12" text-anchor="end" fill="#1a1a1a" textLength="7.7" lengthAdjust="spacingAndGlyphs">80</text>
<text x="456.1" y="192.1" font-size="8.8" stroke="#1a1a1a" stroke-width="0.12" text-anchor="middle" fill="#1a1a1a" textLength="20.5" lengthAdjust="spacingAndGlyphs">3 dpf</text>
<text x="385.5" y="245.43" font-size="8" stroke="#1a1a1a" stroke-width="0.12" text-anchor="middle" fill="#1a1a1a" textLength="61.5" lengthAdjust="spacingAndGlyphs" transform="rotate(-90 385.5 245.43)"><tspan font-style="italic">cmyb</tspan>+ cell number</text>
<line x1="415.5" y1="281.3" x2="415.5" y2="283.7" stroke="#111" stroke-width="0.9"/>
<text x="418.8" y="290.3" font-size="6.7" stroke="#1a1a1a" stroke-width="0.12" text-anchor="end" fill="#1a1a1a" transform="rotate(-45 418.8 290.3)">Control</text>
<circle cx="416.56" cy="242.67" r="0.92" fill="#c4143c"/>
<circle cx="417.58" cy="238.26" r="0.92" fill="#c4143c"/>
<circle cx="418.04" cy="236.56" r="0.92" fill="#c4143c"/>
<circle cx="419.31" cy="240.71" r="0.92" fill="#c4143c"/>
<circle cx="417.56" cy="242.96" r="0.92" fill="#c4143c"/>
<circle cx="419.13" cy="239.48" r="0.92" fill="#c4143c"/>
<circle cx="411.45" cy="237.98" r="0.92" fill="#c4143c"/>
<circle cx="415.2" cy="236.27" r="0.92" fill="#c4143c"/>
<circle cx="419.31" cy="242.65" r="0.92" fill="#c4143c"/>
<circle cx="416.78" cy="242.86" r="0.92" fill="#c4143c"/>
<circle cx="418.95" cy="237.35" r="0.92" fill="#c4143c"/>
<circle cx="412.17" cy="237.99" r="0.92" fill="#c4143c"/>
<circle cx="415.23" cy="235.07" r="0.92" fill="#c4143c"/>
<circle cx="413.32" cy="236.59" r="0.92" fill="#c4143c"/>
<circle cx="415.88" cy="239.58" r="0.92" fill="#c4143c"/>
<circle cx="416.14" cy="240.06" r="0.92" fill="#c4143c"/>
<circle cx="411.31" cy="255.05" r="0.92" fill="#c4143c"/>
<circle cx="413.06" cy="233.18" r="0.92" fill="#c4143c"/>
<line x1="409.7" y1="238.78" x2="421.3" y2="238.78" stroke="#111" stroke-width="1.2"/>
<line x1="415.5" y1="234.4" x2="415.5" y2="243.15" stroke="#111" stroke-width="0.9"/>
<line x1="412.5" y1="234.4" x2="418.5" y2="234.4" stroke="#111" stroke-width="0.9"/>
<line x1="412.5" y1="243.15" x2="418.5" y2="243.15" stroke="#111" stroke-width="0.9"/>
<line x1="427.7" y1="281.3" x2="427.7" y2="283.7" stroke="#111" stroke-width="0.9"/>
<text x="431" y="290.3" font-size="6.7" stroke="#1a1a1a" stroke-width="0.12" text-anchor="end" fill="#1a1a1a" transform="rotate(-45 431 290.3)"><tspan font-style="italic">chd2</tspan> MO</text>
<circle cx="425.8" cy="248.24" r="0.92" fill="#c4143c"/>
<circle cx="431.28" cy="253.87" r="0.92" fill="#c4143c"/>
<circle cx="429.99" cy="254.85" r="0.92" fill="#c4143c"/>
<circle cx="424.77" cy="255.54" r="0.92" fill="#c4143c"/>
<circle cx="430.26" cy="253.11" r="0.92" fill="#c4143c"/>
<circle cx="424.59" cy="253.01" r="0.92" fill="#c4143c"/>
<circle cx="428.71" cy="253.98" r="0.92" fill="#c4143c"/>
<circle cx="424.49" cy="253.42" r="0.92" fill="#c4143c"/>
<circle cx="423.42" cy="252.76" r="0.92" fill="#c4143c"/>
<circle cx="430.89" cy="251.94" r="0.92" fill="#c4143c"/>
<circle cx="425.2" cy="251.14" r="0.92" fill="#c4143c"/>
<circle cx="425.25" cy="252.89" r="0.92" fill="#c4143c"/>
<circle cx="431.85" cy="256.82" r="0.92" fill="#c4143c"/>
<circle cx="430.9" cy="251.92" r="0.92" fill="#c4143c"/>
<circle cx="425.89" cy="256.1" r="0.92" fill="#c4143c"/>
<circle cx="431.67" cy="253.64" r="0.92" fill="#c4143c"/>
<circle cx="428.04" cy="246.3" r="0.92" fill="#c4143c"/>
<line x1="421.9" y1="253.3" x2="433.5" y2="253.3" stroke="#111" stroke-width="1.2"/>
<line x1="427.7" y1="250.85" x2="427.7" y2="255.75" stroke="#111" stroke-width="0.9"/>
<line x1="424.7" y1="250.85" x2="430.7" y2="250.85" stroke="#111" stroke-width="0.9"/>
<line x1="424.7" y1="255.75" x2="430.7" y2="255.75" stroke="#111" stroke-width="0.9"/>
<line x1="439.9" y1="281.3" x2="439.9" y2="283.7" stroke="#111" stroke-width="0.9"/>
<text x="443.2" y="290.3" font-size="6.7" stroke="#1a1a1a" stroke-width="0.12" text-anchor="end" fill="#1a1a1a" transform="rotate(-45 443.2 290.3)"><tspan font-style="italic">chd4b</tspan> MO</text>
<circle cx="441.43" cy="256.55" r="0.92" fill="#c4143c"/>
<circle cx="437.36" cy="253.3" r="0.92" fill="#c4143c"/>
<circle cx="443.69" cy="255.02" r="0.92" fill="#c4143c"/>
<circle cx="441.54" cy="252.83" r="0.92" fill="#c4143c"/>
<circle cx="443.91" cy="246.02" r="0.92" fill="#c4143c"/>
<circle cx="443.29" cy="253.41" r="0.92" fill="#c4143c"/>
<circle cx="438.17" cy="251.44" r="0.92" fill="#c4143c"/>
<circle cx="438.71" cy="256.22" r="0.92" fill="#c4143c"/>
<circle cx="437.03" cy="253.94" r="0.92" fill="#c4143c"/>
<circle cx="436.85" cy="251.84" r="0.92" fill="#c4143c"/>
<circle cx="436.16" cy="253.5" r="0.92" fill="#c4143c"/>
<circle cx="438.19" cy="252.48" r="0.92" fill="#c4143c"/>
<circle cx="440.79" cy="253.07" r="0.92" fill="#c4143c"/>
<circle cx="435.63" cy="255.52" r="0.92" fill="#c4143c"/>
<circle cx="441.43" cy="252.06" r="0.92" fill="#c4143c"/>
<circle cx="438.51" cy="255.09" r="0.92" fill="#c4143c"/>
<circle cx="438.27" cy="247.18" r="0.92" fill="#c4143c"/>
<line x1="434.1" y1="253.3" x2="445.7" y2="253.3" stroke="#111" stroke-width="1.2"/>
<line x1="439.9" y1="250.68" x2="439.9" y2="255.93" stroke="#111" stroke-width="0.9"/>
<line x1="436.9" y1="250.68" x2="442.9" y2="250.68" stroke="#111" stroke-width="0.9"/>
<line x1="436.9" y1="255.93" x2="442.9" y2="255.93" stroke="#111" stroke-width="0.9"/>
<line x1="452.1" y1="281.3" x2="452.1" y2="283.7" stroke="#111" stroke-width="0.9"/>
<text x="455.4" y="290.3" font-size="6.7" stroke="#1a1a1a" stroke-width="0.12" text-anchor="end" fill="#1a1a1a" transform="rotate(-45 455.4 290.3)"><tspan font-style="italic">smarca2</tspan> MO</text>
<circle cx="454.84" cy="249.17" r="0.92" fill="#c4143c"/>
<circle cx="451.93" cy="254.41" r="0.92" fill="#c4143c"/>
<circle cx="450.52" cy="251.79" r="0.92" fill="#c4143c"/>
<circle cx="451.94" cy="253.29" r="0.92" fill="#c4143c"/>
<circle cx="453.86" cy="251.2" r="0.92" fill="#c4143c"/>
<circle cx="448.29" cy="254.63" r="0.92" fill="#c4143c"/>
<circle cx="456.19" cy="251.1" r="0.92" fill="#c4143c"/>
<circle cx="448" cy="253.57" r="0.92" fill="#c4143c"/>
<circle cx="454.25" cy="250.51" r="0.92" fill="#c4143c"/>
<circle cx="455.07" cy="251.92" r="0.92" fill="#c4143c"/>
<circle cx="447.96" cy="252.99" r="0.92" fill="#c4143c"/>
<circle cx="454.57" cy="255.02" r="0.92" fill="#c4143c"/>
<circle cx="450.95" cy="251.61" r="0.92" fill="#c4143c"/>
<circle cx="452.78" cy="252.27" r="0.92" fill="#c4143c"/>
<circle cx="447.88" cy="249.68" r="0.92" fill="#c4143c"/>
<circle cx="448.2" cy="254.13" r="0.92" fill="#c4143c"/>
<circle cx="449.36" cy="246.3" r="0.92" fill="#c4143c"/>
<circle cx="456.01" cy="257.68" r="0.92" fill="#c4143c"/>
<line x1="446.3" y1="253.3" x2="457.9" y2="253.3" stroke="#111" stroke-width="1.2"/>
<line x1="452.1" y1="250.68" x2="452.1" y2="255.93" stroke="#111" stroke-width="0.9"/>
<line x1="449.1" y1="250.68" x2="455.1" y2="250.68" stroke="#111" stroke-width="0.9"/>
<line x1="449.1" y1="255.93" x2="455.1" y2="255.93" stroke="#111" stroke-width="0.9"/>
<line x1="464.3" y1="281.3" x2="464.3" y2="283.7" stroke="#111" stroke-width="0.9"/>
<text x="467.6" y="290.3" font-size="6.7" stroke="#1a1a1a" stroke-width="0.12" text-anchor="end" fill="#1a1a1a" transform="rotate(-45 467.6 290.3)"><tspan font-style="italic">smarca4a</tspan> MO</text>
<circle cx="461.69" cy="249.8" r="0.92" fill="#c4143c"/>
<circle cx="466.5" cy="249.91" r="0.92" fill="#c4143c"/>
<circle cx="468" cy="250.44" r="0.92" fill="#c4143c"/>
<circle cx="468.1" cy="250.62" r="0.92" fill="#c4143c"/>
<circle cx="462.96" cy="250.68" r="0.92" fill="#c4143c"/>
<circle cx="463.05" cy="252.53" r="0.92" fill="#c4143c"/>
<circle cx="464.51" cy="253.51" r="0.92" fill="#c4143c"/>
<circle cx="466.67" cy="252.05" r="0.92" fill="#c4143c"/>
<circle cx="460.93" cy="249.72" r="0.92" fill="#c4143c"/>
<circle cx="466.44" cy="247.54" r="0.92" fill="#c4143c"/>
<circle cx="466.86" cy="245.43" r="0.92" fill="#c4143c"/>
<line x1="458.5" y1="251.11" x2="470.1" y2="251.11" stroke="#111" stroke-width="1.2"/>
<line x1="464.3" y1="248.05" x2="464.3" y2="254.18" stroke="#111" stroke-width="0.9"/>
<line x1="461.3" y1="248.05" x2="467.3" y2="248.05" stroke="#111" stroke-width="0.9"/>
<line x1="461.3" y1="254.18" x2="467.3" y2="254.18" stroke="#111" stroke-width="0.9"/>
<line x1="476.5" y1="281.3" x2="476.5" y2="283.7" stroke="#111" stroke-width="0.9"/>
<text x="479.8" y="290.3" font-size="6.7" stroke="#1a1a1a" stroke-width="0.12" text-anchor="end" fill="#1a1a1a" transform="rotate(-45 479.8 290.3)"><tspan font-style="italic">bptf</tspan> MO</text>
<circle cx="479.59" cy="238.46" r="0.92" fill="#c4143c"/>
<circle cx="472.52" cy="238.19" r="0.92" fill="#c4143c"/>
<circle cx="480.33" cy="239.17" r="0.92" fill="#c4143c"/>
<circle cx="472.98" cy="239.45" r="0.92" fill="#c4143c"/>
<circle cx="475.13" cy="241.28" r="0.92" fill="#c4143c"/>
<circle cx="477.45" cy="239.19" r="0.92" fill="#c4143c"/>
<circle cx="480.1" cy="235.64" r="0.92" fill="#c4143c"/>
<circle cx="475.12" cy="243.09" r="0.92" fill="#c4143c"/>
<circle cx="480.15" cy="244.38" r="0.92" fill="#c4143c"/>
<circle cx="476.89" cy="234.98" r="0.92" fill="#c4143c"/>
<circle cx="474.89" cy="241.06" r="0.92" fill="#c4143c"/>
<circle cx="474.92" cy="238.48" r="0.92" fill="#c4143c"/>
<circle cx="473.73" cy="238.83" r="0.92" fill="#c4143c"/>
<circle cx="472.87" cy="245.95" r="0.92" fill="#c4143c"/>
<circle cx="473.48" cy="233.3" r="0.92" fill="#c4143c"/>
<circle cx="478.13" cy="235.63" r="0.92" fill="#c4143c"/>
<circle cx="480.77" cy="234.05" r="0.92" fill="#c4143c"/>
<circle cx="473.59" cy="249.8" r="0.92" fill="#c4143c"/>
<line x1="470.7" y1="241.93" x2="482.3" y2="241.93" stroke="#111" stroke-width="1.2"/>
<line x1="476.5" y1="237.55" x2="476.5" y2="246.3" stroke="#111" stroke-width="0.9"/>
<line x1="473.5" y1="237.55" x2="479.5" y2="237.55" stroke="#111" stroke-width="0.9"/>
<line x1="473.5" y1="246.3" x2="479.5" y2="246.3" stroke="#111" stroke-width="0.9"/>
<line x1="488.7" y1="281.3" x2="488.7" y2="283.7" stroke="#111" stroke-width="0.9"/>
<text x="492" y="290.3" font-size="6.7" stroke="#1a1a1a" stroke-width="0.12" text-anchor="end" fill="#1a1a1a" transform="rotate(-45 492 290.3)"><tspan font-style="italic">smarca5</tspan> MO</text>
<circle cx="484.82" cy="252.81" r="0.92" fill="#c4143c"/>
<circle cx="492.89" cy="251.23" r="0.92" fill="#c4143c"/>
<circle cx="488.99" cy="252.95" r="0.92" fill="#c4143c"/>
<circle cx="487.89" cy="255.74" r="0.92" fill="#c4143c"/>
<circle cx="486.44" cy="253.61" r="0.92" fill="#c4143c"/>
<circle cx="489.51" cy="252.27" r="0.92" fill="#c4143c"/>
<circle cx="491.51" cy="250.22" r="0.92" fill="#c4143c"/>
<circle cx="488.32" cy="251.35" r="0.92" fill="#c4143c"/>
<circle cx="488.03" cy="253.14" r="0.92" fill="#c4143c"/>
<circle cx="484.88" cy="249.57" r="0.92" fill="#c4143c"/>
<circle cx="492.28" cy="255.4" r="0.92" fill="#c4143c"/>
<circle cx="484.68" cy="251.11" r="0.92" fill="#c4143c"/>
<circle cx="488.64" cy="250.23" r="0.92" fill="#c4143c"/>
<circle cx="491.61" cy="254.1" r="0.92" fill="#c4143c"/>
<circle cx="485.52" cy="258.24" r="0.92" fill="#c4143c"/>
<circle cx="490.69" cy="255.8" r="0.92" fill="#c4143c"/>
<circle cx="492.57" cy="263.8" r="0.92" fill="#c4143c"/>
<circle cx="489.82" cy="263.8" r="0.92" fill="#c4143c"/>
<line x1="482.9" y1="253.3" x2="494.5" y2="253.3" stroke="#111" stroke-width="1.2"/>
<line x1="488.7" y1="249.36" x2="488.7" y2="257.24" stroke="#111" stroke-width="0.9"/>
<line x1="485.7" y1="249.36" x2="491.7" y2="249.36" stroke="#111" stroke-width="0.9"/>
<line x1="485.7" y1="257.24" x2="491.7" y2="257.24" stroke="#111" stroke-width="0.9"/>
<line x1="500.9" y1="281.3" x2="500.9" y2="283.7" stroke="#111" stroke-width="0.9"/>
<text x="504.2" y="290.3" font-size="6.7" stroke="#1a1a1a" stroke-width="0.12" text-anchor="end" fill="#1a1a1a" transform="rotate(-45 504.2 290.3)"><tspan font-style="italic">ino80</tspan> MO</text>
<circle cx="503.38" cy="251.46" r="0.92" fill="#c4143c"/>
<circle cx="497.52" cy="250.82" r="0.92" fill="#c4143c"/>
<circle cx="500.34" cy="248.57" r="0.92" fill="#c4143c"/>
<circle cx="497.88" cy="254.2" r="0.92" fill="#c4143c"/>
<circle cx="503.86" cy="251.98" r="0.92" fill="#c4143c"/>
<circle cx="499.14" cy="250.56" r="0.92" fill="#c4143c"/>
<circle cx="500.5" cy="252.34" r="0.92" fill="#c4143c"/>
<circle cx="505.19" cy="257.21" r="0.92" fill="#c4143c"/>
<circle cx="503.93" cy="250.21" r="0.92" fill="#c4143c"/>
<circle cx="504.99" cy="246.89" r="0.92" fill="#c4143c"/>
<circle cx="500.5" cy="249.77" r="0.92" fill="#c4143c"/>
<circle cx="500.8" cy="254.01" r="0.92" fill="#c4143c"/>
<circle cx="502.87" cy="252.9" r="0.92" fill="#c4143c"/>
<circle cx="500.72" cy="251.5" r="0.92" fill="#c4143c"/>
<circle cx="499.1" cy="246.5" r="0.92" fill="#c4143c"/>
<circle cx="500.07" cy="250.63" r="0.92" fill="#c4143c"/>
<circle cx="497.86" cy="245.43" r="0.92" fill="#c4143c"/>
<line x1="495.1" y1="251.99" x2="506.7" y2="251.99" stroke="#111" stroke-width="1.2"/>
<line x1="500.9" y1="249.36" x2="500.9" y2="254.61" stroke="#111" stroke-width="0.9"/>
<line x1="497.9" y1="249.36" x2="503.9" y2="249.36" stroke="#111" stroke-width="0.9"/>
<line x1="497.9" y1="254.61" x2="503.9" y2="254.61" stroke="#111" stroke-width="0.9"/>
<path d="M415.5 232.7V230.8H427.7V232.7" fill="none" stroke="#2a2a2a" stroke-width="1.05" stroke-linejoin="round"/>
<path d="M418.63 228.3l1.24 0M418.94 227.76l0.62 1.08M419.56 227.76l-0.62 1.08" stroke="#1a1a1a" stroke-width="0.5" stroke-linecap="round"/>
<path d="M420.98 228.3l1.24 0M421.29 227.76l0.62 1.08M421.91 227.76l-0.62 1.08" stroke="#1a1a1a" stroke-width="0.5" stroke-linecap="round"/>
<path d="M423.33 228.3l1.24 0M423.64 227.76l0.62 1.08M424.26 227.76l-0.62 1.08" stroke="#1a1a1a" stroke-width="0.5" stroke-linecap="round"/>
<path d="M415.5 227.8V225.9H439.9V227.8" fill="none" stroke="#2a2a2a" stroke-width="1.05" stroke-linejoin="round"/>
<path d="M424.73 223.4l1.24 0M425.04 222.86l0.62 1.08M425.66 222.86l-0.62 1.08" stroke="#1a1a1a" stroke-width="0.5" stroke-linecap="round"/>
<path d="M427.08 223.4l1.24 0M427.39 222.86l0.62 1.08M428.01 222.86l-0.62 1.08" stroke="#1a1a1a" stroke-width="0.5" stroke-linecap="round"/>
<path d="M429.43 223.4l1.24 0M429.74 222.86l0.62 1.08M430.36 222.86l-0.62 1.08" stroke="#1a1a1a" stroke-width="0.5" stroke-linecap="round"/>
<path d="M415.5 222.9V221H452.1V222.9" fill="none" stroke="#2a2a2a" stroke-width="1.05" stroke-linejoin="round"/>
<path d="M430.83 218.5l1.24 0M431.14 217.96l0.62 1.08M431.76 217.96l-0.62 1.08" stroke="#1a1a1a" stroke-width="0.5" stroke-linecap="round"/>
<path d="M433.18 218.5l1.24 0M433.49 217.96l0.62 1.08M434.11 217.96l-0.62 1.08" stroke="#1a1a1a" stroke-width="0.5" stroke-linecap="round"/>
<path d="M435.53 218.5l1.24 0M435.84 217.96l0.62 1.08M436.46 217.96l-0.62 1.08" stroke="#1a1a1a" stroke-width="0.5" stroke-linecap="round"/>
<path d="M415.5 218.1V216.2H464.3V218.1" fill="none" stroke="#2a2a2a" stroke-width="1.05" stroke-linejoin="round"/>
<path d="M436.93 213.7l1.24 0M437.24 213.16l0.62 1.08M437.86 213.16l-0.62 1.08" stroke="#1a1a1a" stroke-width="0.5" stroke-linecap="round"/>
<path d="M439.28 213.7l1.24 0M439.59 213.16l0.62 1.08M440.21 213.16l-0.62 1.08" stroke="#1a1a1a" stroke-width="0.5" stroke-linecap="round"/>
<path d="M441.63 213.7l1.24 0M441.94 213.16l0.62 1.08M442.56 213.16l-0.62 1.08" stroke="#1a1a1a" stroke-width="0.5" stroke-linecap="round"/>
<path d="M415.5 213.3V211.4H476.5V213.3" fill="none" stroke="#2a2a2a" stroke-width="1.05" stroke-linejoin="round"/>
<path d="M443.03 208.9l1.24 0M443.34 208.36l0.62 1.08M443.96 208.36l-0.62 1.08" stroke="#1a1a1a" stroke-width="0.5" stroke-linecap="round"/>
<path d="M445.38 208.9l1.24 0M445.69 208.36l0.62 1.08M446.31 208.36l-0.62 1.08" stroke="#1a1a1a" stroke-width="0.5" stroke-linecap="round"/>
<path d="M447.73 208.9l1.24 0M448.04 208.36l0.62 1.08M448.66 208.36l-0.62 1.08" stroke="#1a1a1a" stroke-width="0.5" stroke-linecap="round"/>
<path d="M415.5 208.5V206.6H488.7V208.5" fill="none" stroke="#2a2a2a" stroke-width="1.05" stroke-linejoin="round"/>
<path d="M449.13 204.1l1.24 0M449.44 203.56l0.62 1.08M450.06 203.56l-0.62 1.08" stroke="#1a1a1a" stroke-width="0.5" stroke-linecap="round"/>
<path d="M451.48 204.1l1.24 0M451.79 203.56l0.62 1.08M452.41 203.56l-0.62 1.08" stroke="#1a1a1a" stroke-width="0.5" stroke-linecap="round"/>
<path d="M453.83 204.1l1.24 0M454.14 203.56l0.62 1.08M454.76 203.56l-0.62 1.08" stroke="#1a1a1a" stroke-width="0.5" stroke-linecap="round"/>
<path d="M415.5 203.7V201.8H500.9V203.7" fill="none" stroke="#2a2a2a" stroke-width="1.05" stroke-linejoin="round"/>
<path d="M455.23 199.3l1.24 0M455.54 198.76l0.62 1.08M456.16 198.76l-0.62 1.08" stroke="#1a1a1a" stroke-width="0.5" stroke-linecap="round"/>
<path d="M457.58 199.3l1.24 0M457.89 198.76l0.62 1.08M458.51 198.76l-0.62 1.08" stroke="#1a1a1a" stroke-width="0.5" stroke-linecap="round"/>
<path d="M459.93 199.3l1.24 0M460.24 198.76l0.62 1.08M460.86 198.76l-0.62 1.08" stroke="#1a1a1a" stroke-width="0.5" stroke-linecap="round"/>
<line x1="403.7" y1="356.91" x2="403.7" y2="430.8" stroke="#111" stroke-width="1.2"/>
<line x1="403.2" y1="430.2" x2="512.44" y2="430.2" stroke="#111" stroke-width="1.2"/>
<line x1="401.2" y1="430.2" x2="403.7" y2="430.2" stroke="#111" stroke-width="0.9"/>
<text x="398.3" y="432.7" font-size="7" stroke="#1a1a1a" stroke-width="0.12" text-anchor="end" fill="#1a1a1a" textLength="3.7" lengthAdjust="spacingAndGlyphs">0</text>
<line x1="401.2" y1="412.54" x2="403.7" y2="412.54" stroke="#111" stroke-width="0.9"/>
<text x="398.3" y="415.04" font-size="7" stroke="#1a1a1a" stroke-width="0.12" text-anchor="end" fill="#1a1a1a" textLength="7.7" lengthAdjust="spacingAndGlyphs">20</text>
<line x1="401.2" y1="394.88" x2="403.7" y2="394.88" stroke="#111" stroke-width="0.9"/>
<text x="398.3" y="397.38" font-size="7" stroke="#1a1a1a" stroke-width="0.12" text-anchor="end" fill="#1a1a1a" textLength="7.7" lengthAdjust="spacingAndGlyphs">40</text>
<line x1="401.2" y1="377.22" x2="403.7" y2="377.22" stroke="#111" stroke-width="0.9"/>
<text x="398.3" y="379.72" font-size="7" stroke="#1a1a1a" stroke-width="0.12" text-anchor="end" fill="#1a1a1a" textLength="7.7" lengthAdjust="spacingAndGlyphs">60</text>
<line x1="401.2" y1="359.56" x2="403.7" y2="359.56" stroke="#111" stroke-width="0.9"/>
<text x="398.3" y="362.06" font-size="7" stroke="#1a1a1a" stroke-width="0.12" text-anchor="end" fill="#1a1a1a" textLength="7.7" lengthAdjust="spacingAndGlyphs">80</text>
<text x="456.3" y="331.6" font-size="8.8" stroke="#1a1a1a" stroke-width="0.12" text-anchor="middle" fill="#1a1a1a" textLength="20.5" lengthAdjust="spacingAndGlyphs">4 dpf</text>
<text x="385.7" y="394" font-size="8" stroke="#1a1a1a" stroke-width="0.12" text-anchor="middle" fill="#1a1a1a" textLength="61.5" lengthAdjust="spacingAndGlyphs" transform="rotate(-90 385.7 394)"><tspan font-style="italic">cmyb</tspan>+ cell number</text>
<line x1="414.5" y1="430.2" x2="414.5" y2="432.6" stroke="#111" stroke-width="0.9"/>
<text x="417.8" y="439.2" font-size="6.7" stroke="#1a1a1a" stroke-width="0.12" text-anchor="end" fill="#1a1a1a" transform="rotate(-45 417.8 439.2)">Control</text>
<circle cx="417.02" cy="381.09" r="0.92" fill="#c4143c"/>
<circle cx="417.27" cy="374.21" r="0.92" fill="#c4143c"/>
<circle cx="414.37" cy="382.02" r="0.92" fill="#c4143c"/>
<circle cx="412.45" cy="372.76" r="0.92" fill="#c4143c"/>
<circle cx="410.2" cy="384.9" r="0.92" fill="#c4143c"/>
<circle cx="415.9" cy="383.9" r="0.92" fill="#c4143c"/>
<circle cx="414.24" cy="378.2" r="0.92" fill="#c4143c"/>
<circle cx="416.73" cy="374.84" r="0.92" fill="#c4143c"/>
<circle cx="413.41" cy="378.52" r="0.92" fill="#c4143c"/>
<circle cx="416.82" cy="380.2" r="0.92" fill="#c4143c"/>
<circle cx="412.55" cy="390.32" r="0.92" fill="#c4143c"/>
<circle cx="417.1" cy="385.03" r="0.92" fill="#c4143c"/>
<circle cx="416.48" cy="384.55" r="0.92" fill="#c4143c"/>
<circle cx="413.76" cy="384.18" r="0.92" fill="#c4143c"/>
<circle cx="414.83" cy="378.84" r="0.92" fill="#c4143c"/>
<circle cx="416.07" cy="383.23" r="0.92" fill="#c4143c"/>
<circle cx="411.86" cy="377.88" r="0.92" fill="#c4143c"/>
<circle cx="414.96" cy="381.24" r="0.92" fill="#c4143c"/>
<circle cx="417.12" cy="395.76" r="0.92" fill="#c4143c"/>
<circle cx="412.48" cy="393.11" r="0.92" fill="#c4143c"/>
<circle cx="417.11" cy="374.57" r="0.92" fill="#c4143c"/>
<line x1="408.7" y1="382.08" x2="420.3" y2="382.08" stroke="#111" stroke-width="1.2"/>
<line x1="414.5" y1="376.34" x2="414.5" y2="387.82" stroke="#111" stroke-width="0.9"/>
<line x1="411.5" y1="376.34" x2="417.5" y2="376.34" stroke="#111" stroke-width="0.9"/>
<line x1="411.5" y1="387.82" x2="417.5" y2="387.82" stroke="#111" stroke-width="0.9"/>
<line x1="427.42" y1="430.2" x2="427.42" y2="432.6" stroke="#111" stroke-width="0.9"/>
<text x="430.72" y="439.2" font-size="6.7" stroke="#1a1a1a" stroke-width="0.12" text-anchor="end" fill="#1a1a1a" transform="rotate(-45 430.72 439.2)"><tspan font-style="italic">chd2</tspan> MO</text>
<circle cx="429.02" cy="407.28" r="0.92" fill="#c4143c"/>
<circle cx="430.38" cy="406.03" r="0.92" fill="#c4143c"/>
<circle cx="426.01" cy="405.17" r="0.92" fill="#c4143c"/>
<circle cx="423.92" cy="403.97" r="0.92" fill="#c4143c"/>
<circle cx="430" cy="407.69" r="0.92" fill="#c4143c"/>
<circle cx="430.04" cy="407.01" r="0.92" fill="#c4143c"/>
<circle cx="426.95" cy="410.15" r="0.92" fill="#c4143c"/>
<circle cx="423.93" cy="401.9" r="0.92" fill="#c4143c"/>
<circle cx="424.82" cy="402.32" r="0.92" fill="#c4143c"/>
<circle cx="428.58" cy="406.86" r="0.92" fill="#c4143c"/>
<circle cx="425.62" cy="407.69" r="0.92" fill="#c4143c"/>
<circle cx="431.3" cy="409.8" r="0.92" fill="#c4143c"/>
<circle cx="428.18" cy="405.89" r="0.92" fill="#c4143c"/>
<circle cx="424.85" cy="405.79" r="0.92" fill="#c4143c"/>
<circle cx="428.76" cy="400.29" r="0.92" fill="#c4143c"/>
<circle cx="426.22" cy="405.67" r="0.92" fill="#c4143c"/>
<circle cx="431.14" cy="408.52" r="0.92" fill="#c4143c"/>
<circle cx="430.94" cy="413.16" r="0.92" fill="#c4143c"/>
<circle cx="427.55" cy="400.18" r="0.92" fill="#c4143c"/>
<line x1="421.62" y1="406.36" x2="433.22" y2="406.36" stroke="#111" stroke-width="1.2"/>
<line x1="427.42" y1="402.83" x2="427.42" y2="409.89" stroke="#111" stroke-width="0.9"/>
<line x1="424.42" y1="402.83" x2="430.42" y2="402.83" stroke="#111" stroke-width="0.9"/>
<line x1="424.42" y1="409.89" x2="430.42" y2="409.89" stroke="#111" stroke-width="0.9"/>
<line x1="440.34" y1="430.2" x2="440.34" y2="432.6" stroke="#111" stroke-width="0.9"/>
<text x="443.64" y="439.2" font-size="6.7" stroke="#1a1a1a" stroke-width="0.12" text-anchor="end" fill="#1a1a1a" transform="rotate(-45 443.64 439.2)"><tspan font-style="italic">chd4b</tspan> MO</text>
<circle cx="441.58" cy="403" r="0.92" fill="#c4143c"/>
<circle cx="442.04" cy="405.91" r="0.92" fill="#c4143c"/>
<circle cx="442.97" cy="410.2" r="0.92" fill="#c4143c"/>
<circle cx="444.44" cy="405.93" r="0.92" fill="#c4143c"/>
<circle cx="436.28" cy="410.19" r="0.92" fill="#c4143c"/>
<circle cx="439.15" cy="398.06" r="0.92" fill="#c4143c"/>
<circle cx="441.22" cy="403.69" r="0.92" fill="#c4143c"/>
<circle cx="438.66" cy="404.99" r="0.92" fill="#c4143c"/>
<circle cx="441.11" cy="406.78" r="0.92" fill="#c4143c"/>
<circle cx="436.81" cy="411.46" r="0.92" fill="#c4143c"/>
<circle cx="443.61" cy="406.66" r="0.92" fill="#c4143c"/>
<circle cx="440.56" cy="410.07" r="0.92" fill="#c4143c"/>
<circle cx="437.04" cy="404.94" r="0.92" fill="#c4143c"/>
<circle cx="441.74" cy="411.46" r="0.92" fill="#c4143c"/>
<circle cx="438.73" cy="408.52" r="0.92" fill="#c4143c"/>
<circle cx="437.73" cy="403.45" r="0.92" fill="#c4143c"/>
<circle cx="440.2" cy="402.44" r="0.92" fill="#c4143c"/>
<circle cx="437.23" cy="409.18" r="0.92" fill="#c4143c"/>
<circle cx="437.85" cy="399.29" r="0.92" fill="#c4143c"/>
<line x1="434.54" y1="406.36" x2="446.14" y2="406.36" stroke="#111" stroke-width="1.2"/>
<line x1="440.34" y1="403.27" x2="440.34" y2="409.45" stroke="#111" stroke-width="0.9"/>
<line x1="437.34" y1="403.27" x2="443.34" y2="403.27" stroke="#111" stroke-width="0.9"/>
<line x1="437.34" y1="409.45" x2="443.34" y2="409.45" stroke="#111" stroke-width="0.9"/>
<line x1="453.26" y1="430.2" x2="453.26" y2="432.6" stroke="#111" stroke-width="0.9"/>
<text x="456.56" y="439.2" font-size="6.7" stroke="#1a1a1a" stroke-width="0.12" text-anchor="end" fill="#1a1a1a" transform="rotate(-45 456.56 439.2)"><tspan font-style="italic">smarca2</tspan> MO</text>
<circle cx="456.4" cy="415.99" r="0.92" fill="#c4143c"/>
<circle cx="454.96" cy="406.4" r="0.92" fill="#c4143c"/>
<circle cx="449.07" cy="406.5" r="0.92" fill="#c4143c"/>
<circle cx="455.65" cy="413.81" r="0.92" fill="#c4143c"/>
<circle cx="449.11" cy="412.65" r="0.92" fill="#c4143c"/>
<circle cx="451.82" cy="412.65" r="0.92" fill="#c4143c"/>
<circle cx="456.74" cy="414.62" r="0.92" fill="#c4143c"/>
<circle cx="454.29" cy="412.59" r="0.92" fill="#c4143c"/>
<circle cx="451.59" cy="404.92" r="0.92" fill="#c4143c"/>
<circle cx="452.21" cy="407.15" r="0.92" fill="#c4143c"/>
<circle cx="452.31" cy="401.72" r="0.92" fill="#c4143c"/>
<circle cx="450.05" cy="410.23" r="0.92" fill="#c4143c"/>
<circle cx="457.56" cy="410.43" r="0.92" fill="#c4143c"/>
<circle cx="449.42" cy="413.79" r="0.92" fill="#c4143c"/>
<circle cx="452.6" cy="410.38" r="0.92" fill="#c4143c"/>
<circle cx="455.38" cy="415.11" r="0.92" fill="#c4143c"/>
<circle cx="452.38" cy="416.95" r="0.92" fill="#c4143c"/>
<circle cx="457.4" cy="407.12" r="0.92" fill="#c4143c"/>
<circle cx="451.07" cy="399.29" r="0.92" fill="#c4143c"/>
<circle cx="457.38" cy="416.07" r="0.92" fill="#c4143c"/>
<line x1="447.46" y1="409.89" x2="459.06" y2="409.89" stroke="#111" stroke-width="1.2"/>
<line x1="453.26" y1="404.59" x2="453.26" y2="415.19" stroke="#111" stroke-width="0.9"/>
<line x1="450.26" y1="404.59" x2="456.26" y2="404.59" stroke="#111" stroke-width="0.9"/>
<line x1="450.26" y1="415.19" x2="456.26" y2="415.19" stroke="#111" stroke-width="0.9"/>
<line x1="466.18" y1="430.2" x2="466.18" y2="432.6" stroke="#111" stroke-width="0.9"/>
<text x="469.48" y="439.2" font-size="6.7" stroke="#1a1a1a" stroke-width="0.12" text-anchor="end" fill="#1a1a1a" transform="rotate(-45 469.48 439.2)"><tspan font-style="italic">smarca4a</tspan> MO</text>
<circle cx="469.55" cy="402.09" r="0.92" fill="#c4143c"/>
<circle cx="467.64" cy="402.95" r="0.92" fill="#c4143c"/>
<circle cx="469.53" cy="402.25" r="0.92" fill="#c4143c"/>
<circle cx="465.73" cy="403.79" r="0.92" fill="#c4143c"/>
<circle cx="469.03" cy="405.18" r="0.92" fill="#c4143c"/>
<circle cx="468.73" cy="404.03" r="0.92" fill="#c4143c"/>
<circle cx="466.32" cy="404.69" r="0.92" fill="#c4143c"/>
<circle cx="465.93" cy="405.74" r="0.92" fill="#c4143c"/>
<circle cx="467.95" cy="406.57" r="0.92" fill="#c4143c"/>
<circle cx="465.4" cy="406.27" r="0.92" fill="#c4143c"/>
<circle cx="462.62" cy="400.18" r="0.92" fill="#c4143c"/>
<line x1="460.38" y1="404.15" x2="471.98" y2="404.15" stroke="#111" stroke-width="1.2"/>
<line x1="466.18" y1="402.39" x2="466.18" y2="405.92" stroke="#111" stroke-width="0.9"/>
<line x1="463.18" y1="402.39" x2="469.18" y2="402.39" stroke="#111" stroke-width="0.9"/>
<line x1="463.18" y1="405.92" x2="469.18" y2="405.92" stroke="#111" stroke-width="0.9"/>
<line x1="479.1" y1="430.2" x2="479.1" y2="432.6" stroke="#111" stroke-width="0.9"/>
<text x="482.4" y="439.2" font-size="6.7" stroke="#1a1a1a" stroke-width="0.12" text-anchor="end" fill="#1a1a1a" transform="rotate(-45 482.4 439.2)"><tspan font-style="italic">bptf</tspan> MO</text>
<circle cx="481.22" cy="396.66" r="0.92" fill="#c4143c"/>
<circle cx="477.09" cy="396.29" r="0.92" fill="#c4143c"/>
<circle cx="478.99" cy="397.78" r="0.92" fill="#c4143c"/>
<circle cx="481.54" cy="393.24" r="0.92" fill="#c4143c"/>
<circle cx="476.28" cy="396.22" r="0.92" fill="#c4143c"/>
<circle cx="474.99" cy="395.26" r="0.92" fill="#c4143c"/>
<circle cx="475.86" cy="393.74" r="0.92" fill="#c4143c"/>
<circle cx="479.87" cy="398.6" r="0.92" fill="#c4143c"/>
<circle cx="477.91" cy="401.34" r="0.92" fill="#c4143c"/>
<circle cx="477" cy="394.85" r="0.92" fill="#c4143c"/>
<circle cx="478.68" cy="398.29" r="0.92" fill="#c4143c"/>
<circle cx="482.78" cy="393.52" r="0.92" fill="#c4143c"/>
<circle cx="476.99" cy="395.84" r="0.92" fill="#c4143c"/>
<circle cx="478.33" cy="394.25" r="0.92" fill="#c4143c"/>
<circle cx="482.36" cy="394.83" r="0.92" fill="#c4143c"/>
<circle cx="480.06" cy="401.61" r="0.92" fill="#c4143c"/>
<circle cx="477.1" cy="394.93" r="0.92" fill="#c4143c"/>
<circle cx="478.88" cy="398.25" r="0.92" fill="#c4143c"/>
<circle cx="478.92" cy="390.46" r="0.92" fill="#c4143c"/>
<circle cx="476.02" cy="401.94" r="0.92" fill="#c4143c"/>
<line x1="473.3" y1="396.65" x2="484.9" y2="396.65" stroke="#111" stroke-width="1.2"/>
<line x1="479.1" y1="393.56" x2="479.1" y2="399.74" stroke="#111" stroke-width="0.9"/>
<line x1="476.1" y1="393.56" x2="482.1" y2="393.56" stroke="#111" stroke-width="0.9"/>
<line x1="476.1" y1="399.74" x2="482.1" y2="399.74" stroke="#111" stroke-width="0.9"/>
<line x1="492.02" y1="430.2" x2="492.02" y2="432.6" stroke="#111" stroke-width="0.9"/>
<text x="495.32" y="439.2" font-size="6.7" stroke="#1a1a1a" stroke-width="0.12" text-anchor="end" fill="#1a1a1a" transform="rotate(-45 495.32 439.2)"><tspan font-style="italic">smarca5</tspan> MO</text>
<circle cx="490.97" cy="409.35" r="0.92" fill="#c4143c"/>
<circle cx="490.35" cy="408.45" r="0.92" fill="#c4143c"/>
<circle cx="494.64" cy="405.11" r="0.92" fill="#c4143c"/>
<circle cx="490.5" cy="404.78" r="0.92" fill="#c4143c"/>
<circle cx="493.39" cy="404.43" r="0.92" fill="#c4143c"/>
<circle cx="496.07" cy="411.86" r="0.92" fill="#c4143c"/>
<circle cx="495.66" cy="408.88" r="0.92" fill="#c4143c"/>
<circle cx="490.95" cy="413.85" r="0.92" fill="#c4143c"/>
<circle cx="492.91" cy="407.53" r="0.92" fill="#c4143c"/>
<circle cx="490.47" cy="405.57" r="0.92" fill="#c4143c"/>
<circle cx="491.15" cy="409.37" r="0.92" fill="#c4143c"/>
<circle cx="491.92" cy="406.56" r="0.92" fill="#c4143c"/>
<circle cx="494.54" cy="406.6" r="0.92" fill="#c4143c"/>
<circle cx="495.77" cy="404.44" r="0.92" fill="#c4143c"/>
<circle cx="490.22" cy="409.53" r="0.92" fill="#c4143c"/>
<circle cx="487.77" cy="409.55" r="0.92" fill="#c4143c"/>
<circle cx="491.58" cy="409.37" r="0.92" fill="#c4143c"/>
<circle cx="488.21" cy="402.37" r="0.92" fill="#c4143c"/>
<circle cx="487.98" cy="399.29" r="0.92" fill="#c4143c"/>
<circle cx="494.37" cy="413.42" r="0.92" fill="#c4143c"/>
<line x1="486.22" y1="407.24" x2="497.82" y2="407.24" stroke="#111" stroke-width="1.2"/>
<line x1="492.02" y1="403.71" x2="492.02" y2="410.77" stroke="#111" stroke-width="0.9"/>
<line x1="489.02" y1="403.71" x2="495.02" y2="403.71" stroke="#111" stroke-width="0.9"/>
<line x1="489.02" y1="410.77" x2="495.02" y2="410.77" stroke="#111" stroke-width="0.9"/>
<line x1="504.94" y1="430.2" x2="504.94" y2="432.6" stroke="#111" stroke-width="0.9"/>
<text x="508.24" y="439.2" font-size="6.7" stroke="#1a1a1a" stroke-width="0.12" text-anchor="end" fill="#1a1a1a" transform="rotate(-45 508.24 439.2)"><tspan font-style="italic">ino80</tspan> MO</text>
<circle cx="501.6" cy="396.26" r="0.92" fill="#c4143c"/>
<circle cx="506.82" cy="399.64" r="0.92" fill="#c4143c"/>
<circle cx="503.75" cy="398.67" r="0.92" fill="#c4143c"/>
<circle cx="508.71" cy="398.98" r="0.92" fill="#c4143c"/>
<circle cx="507.98" cy="398.73" r="0.92" fill="#c4143c"/>
<circle cx="501.18" cy="399.88" r="0.92" fill="#c4143c"/>
<circle cx="502.3" cy="400.22" r="0.92" fill="#c4143c"/>
<circle cx="508.79" cy="402.79" r="0.92" fill="#c4143c"/>
<circle cx="505.92" cy="401.08" r="0.92" fill="#c4143c"/>
<circle cx="504.27" cy="394.7" r="0.92" fill="#c4143c"/>
<circle cx="507.37" cy="397.8" r="0.92" fill="#c4143c"/>
<circle cx="507.64" cy="399.11" r="0.92" fill="#c4143c"/>
<circle cx="504.87" cy="399.89" r="0.92" fill="#c4143c"/>
<circle cx="504.67" cy="399.12" r="0.92" fill="#c4143c"/>
<circle cx="501.5" cy="390.46" r="0.92" fill="#c4143c"/>
<line x1="499.14" y1="399.29" x2="510.74" y2="399.29" stroke="#111" stroke-width="1.2"/>
<line x1="504.94" y1="395.76" x2="504.94" y2="402.83" stroke="#111" stroke-width="0.9"/>
<line x1="501.94" y1="395.76" x2="507.94" y2="395.76" stroke="#111" stroke-width="0.9"/>
<line x1="501.94" y1="402.83" x2="507.94" y2="402.83" stroke="#111" stroke-width="0.9"/>
<path d="M414.5 371.8V369.9H427.42V371.8" fill="none" stroke="#2a2a2a" stroke-width="1.05" stroke-linejoin="round"/>
<path d="M417.99 367.4l1.24 0M418.3 366.86l0.62 1.08M418.92 366.86l-0.62 1.08" stroke="#1a1a1a" stroke-width="0.5" stroke-linecap="round"/>
<path d="M420.34 367.4l1.24 0M420.65 366.86l0.62 1.08M421.27 366.86l-0.62 1.08" stroke="#1a1a1a" stroke-width="0.5" stroke-linecap="round"/>
<path d="M422.69 367.4l1.24 0M423 366.86l0.62 1.08M423.62 366.86l-0.62 1.08" stroke="#1a1a1a" stroke-width="0.5" stroke-linecap="round"/>
<path d="M414.5 367.1V365.2H440.34V367.1" fill="none" stroke="#2a2a2a" stroke-width="1.05" stroke-linejoin="round"/>
<path d="M424.45 362.7l1.24 0M424.76 362.16l0.62 1.08M425.38 362.16l-0.62 1.08" stroke="#1a1a1a" stroke-width="0.5" stroke-linecap="round"/>
<path d="M426.8 362.7l1.24 0M427.11 362.16l0.62 1.08M427.73 362.16l-0.62 1.08" stroke="#1a1a1a" stroke-width="0.5" stroke-linecap="round"/>
<path d="M429.15 362.7l1.24 0M429.46 362.16l0.62 1.08M430.08 362.16l-0.62 1.08" stroke="#1a1a1a" stroke-width="0.5" stroke-linecap="round"/>
<path d="M414.5 362.5V360.6H453.26V362.5" fill="none" stroke="#2a2a2a" stroke-width="1.05" stroke-linejoin="round"/>
<path d="M430.91 358.1l1.24 0M431.22 357.56l0.62 1.08M431.84 357.56l-0.62 1.08" stroke="#1a1a1a" stroke-width="0.5" stroke-linecap="round"/>
<path d="M433.26 358.1l1.24 0M433.57 357.56l0.62 1.08M434.19 357.56l-0.62 1.08" stroke="#1a1a1a" stroke-width="0.5" stroke-linecap="round"/>
<path d="M435.61 358.1l1.24 0M435.92 357.56l0.62 1.08M436.54 357.56l-0.62 1.08" stroke="#1a1a1a" stroke-width="0.5" stroke-linecap="round"/>
<path d="M414.5 357.9V356H466.18V357.9" fill="none" stroke="#2a2a2a" stroke-width="1.05" stroke-linejoin="round"/>
<path d="M437.37 353.5l1.24 0M437.68 352.96l0.62 1.08M438.3 352.96l-0.62 1.08" stroke="#1a1a1a" stroke-width="0.5" stroke-linecap="round"/>
<path d="M439.72 353.5l1.24 0M440.03 352.96l0.62 1.08M440.65 352.96l-0.62 1.08" stroke="#1a1a1a" stroke-width="0.5" stroke-linecap="round"/>
<path d="M442.07 353.5l1.24 0M442.38 352.96l0.62 1.08M443 352.96l-0.62 1.08" stroke="#1a1a1a" stroke-width="0.5" stroke-linecap="round"/>
<path d="M414.5 353.3V351.4H479.1V353.3" fill="none" stroke="#2a2a2a" stroke-width="1.05" stroke-linejoin="round"/>
<path d="M443.83 348.9l1.24 0M444.14 348.36l0.62 1.08M444.76 348.36l-0.62 1.08" stroke="#1a1a1a" stroke-width="0.5" stroke-linecap="round"/>
<path d="M446.18 348.9l1.24 0M446.49 348.36l0.62 1.08M447.11 348.36l-0.62 1.08" stroke="#1a1a1a" stroke-width="0.5" stroke-linecap="round"/>
<path d="M448.53 348.9l1.24 0M448.84 348.36l0.62 1.08M449.46 348.36l-0.62 1.08" stroke="#1a1a1a" stroke-width="0.5" stroke-linecap="round"/>
<path d="M414.5 348.7V346.8H492.02V348.7" fill="none" stroke="#2a2a2a" stroke-width="1.05" stroke-linejoin="round"/>
<path d="M450.29 344.3l1.24 0M450.6 343.76l0.62 1.08M451.22 343.76l-0.62 1.08" stroke="#1a1a1a" stroke-width="0.5" stroke-linecap="round"/>
<path d="M452.64 344.3l1.24 0M452.95 343.76l0.62 1.08M453.57 343.76l-0.62 1.08" stroke="#1a1a1a" stroke-width="0.5" stroke-linecap="round"/>
<path d="M454.99 344.3l1.24 0M455.3 343.76l0.62 1.08M455.92 343.76l-0.62 1.08" stroke="#1a1a1a" stroke-width="0.5" stroke-linecap="round"/>
<path d="M414.5 344.1V342.2H504.94V344.1" fill="none" stroke="#2a2a2a" stroke-width="1.05" stroke-linejoin="round"/>
<path d="M456.75 339.7l1.24 0M457.06 339.16l0.62 1.08M457.68 339.16l-0.62 1.08" stroke="#1a1a1a" stroke-width="0.5" stroke-linecap="round"/>
<path d="M459.1 339.7l1.24 0M459.41 339.16l0.62 1.08M460.03 339.16l-0.62 1.08" stroke="#1a1a1a" stroke-width="0.5" stroke-linecap="round"/>
<path d="M461.45 339.7l1.24 0M461.76 339.16l0.62 1.08M462.38 339.16l-0.62 1.08" stroke="#1a1a1a" stroke-width="0.5" stroke-linecap="round"/>
<rect x="0.5" y="0.5" width="519" height="476" fill="none" stroke="#000" stroke-width="1.2"/>
</svg></body></html>
